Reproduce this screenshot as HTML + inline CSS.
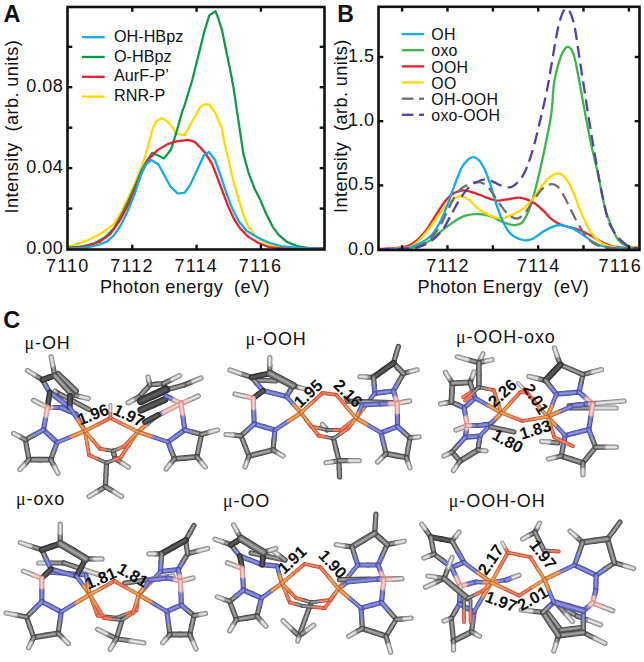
<!DOCTYPE html>
<html><head><meta charset="utf-8"><title>figure</title>
<style>html,body{margin:0;padding:0;background:#fff;width:644px;height:662px;overflow:hidden;position:relative}
svg text{font-family:"Liberation Sans", sans-serif;fill:#111}.C0{stroke:#484848}.C1{stroke:#727272}.C2{stroke:#a2a2a2}.K0{stroke:#2e2e2e}.K1{stroke:#444444}.K2{stroke:#5c5c5c}.N0{stroke:#4a4fa6}.N1{stroke:#6a6fc4}.N2{stroke:#8d92dc}.H0{stroke:#868686}.H1{stroke:#bababa}.H2{stroke:#e6e6e6}.B0{stroke:#cc8e8e}.B1{stroke:#e8b0b0}.B2{stroke:#f8d0d0}.F0{stroke:#b8642c}.F1{stroke:#df8646}.F2{stroke:#f2a866}.O0{stroke:#c44a32}.O1{stroke:#e6684a}.O2{stroke:#f58c6c}</style></head>
<body>
<svg width="644" height="662" viewBox="0 0 644 662" style="position:absolute;left:0;top:0">
<rect width="644" height="662" fill="#fff"/>
<polyline points="68.7,246.3 77.4,243.8 87.8,240.3 98.2,235.1 106.9,229.4 113.8,224.2 120.8,212.9 127.7,199.0 134.7,183.4 139.9,171.3 145.6,155.0 149.0,143.0 152.2,130.0 156.2,121.5 161.4,118.1 167.5,121.5 173.2,128.3 176.6,134.0 184.5,135.1 189.0,127.2 194.7,117.0 200.4,106.8 204.9,104.1 209.4,104.5 215.1,112.5 221.9,128.3 224.7,144.1 228.4,159.0 233.3,180.4 238.4,198.5 243.4,214.7 248.4,226.8 254.5,234.9 262.6,240.9 272.7,246.0 284.8,248.0 323.0,248.5" fill="none" stroke="#ffd800" stroke-width="2.25" stroke-linejoin="round" stroke-linecap="round"/>
<polyline points="68.7,247.6 82.6,246.3 94.7,243.3 105.1,237.2 113.8,228.5 120.8,216.4 127.7,202.5 134.7,186.9 141.6,170.4 146.8,160.8 152.2,152.8 158.0,155.5 164.1,158.4 170.9,149.8 176.6,131.7 182.3,111.3 184.9,104.3 192.4,79.5 199.8,49.7 204.8,29.8 209.3,15.4 215.5,11.2 218.4,18.6 222.2,31.0 225.9,49.7 229.6,67.1 233.4,87.0 237.1,111.8 240.8,136.6 243.4,154.1 248.4,172.3 254.5,188.4 260.6,200.6 266.6,214.7 272.7,226.8 278.7,234.9 286.8,241.9 296.9,246.0 309.0,248.0 323.0,248.5" fill="none" stroke="#0c9a48" stroke-width="2.25" stroke-linejoin="round" stroke-linecap="round"/>
<polyline points="68.7,248.0 86.0,246.3 100.0,241.6 110.3,233.8 119.0,221.6 126.8,207.7 134.7,190.3 141.6,173.0 148.5,159.1 157.2,150.4 167.5,144.1 176.6,141.4 187.9,139.8 194.7,141.9 201.0,148.3 206.0,154.1 212.1,164.2 216.1,174.3 222.2,190.5 228.3,206.6 234.3,219.7 240.4,228.8 248.4,236.9 258.5,243.0 268.6,247.0 280.7,248.4 323.0,248.0" fill="none" stroke="#e8202a" stroke-width="2.25" stroke-linejoin="round" stroke-linecap="round"/>
<polyline points="68.7,248.5 86.0,247.6 98.2,245.0 106.9,241.6 113.8,235.5 120.8,225.1 127.7,211.2 134.7,193.8 141.6,173.0 146.0,164.3 151.4,160.0 158.5,164.5 165.3,177.0 170.9,187.2 177.7,193.5 184.5,192.8 190.2,184.9 197.0,170.2 203.8,155.5 209.0,152.0 215.1,160.2 220.2,174.3 226.2,192.5 232.3,208.6 238.4,220.7 246.4,230.8 256.5,236.9 268.6,242.5 280.7,246.0 300.9,248.0 323.0,248.6" fill="none" stroke="#12a9e6" stroke-width="2.25" stroke-linejoin="round" stroke-linecap="round"/>
<rect x="67.5" y="7.0" width="257.0" height="242.5" fill="none" stroke="#111" stroke-width="2.6"/>
<line x1="67.5" y1="208.6" x2="72.3" y2="208.6" stroke="#111" stroke-width="2.4"/>
<line x1="324.5" y1="208.6" x2="319.7" y2="208.6" stroke="#111" stroke-width="2.4"/>
<line x1="67.5" y1="168.1" x2="72.3" y2="168.1" stroke="#111" stroke-width="2.4"/>
<line x1="324.5" y1="168.1" x2="319.7" y2="168.1" stroke="#111" stroke-width="2.4"/>
<line x1="67.5" y1="127.7" x2="72.3" y2="127.7" stroke="#111" stroke-width="2.4"/>
<line x1="324.5" y1="127.7" x2="319.7" y2="127.7" stroke="#111" stroke-width="2.4"/>
<line x1="67.5" y1="87.2" x2="72.3" y2="87.2" stroke="#111" stroke-width="2.4"/>
<line x1="324.5" y1="87.2" x2="319.7" y2="87.2" stroke="#111" stroke-width="2.4"/>
<line x1="67.5" y1="46.8" x2="72.3" y2="46.8" stroke="#111" stroke-width="2.4"/>
<line x1="324.5" y1="46.8" x2="319.7" y2="46.8" stroke="#111" stroke-width="2.4"/>
<line x1="132.3" y1="249.5" x2="132.3" y2="244.7" stroke="#111" stroke-width="2.4"/>
<line x1="132.3" y1="7.0" x2="132.3" y2="11.8" stroke="#111" stroke-width="2.4"/>
<line x1="196.6" y1="249.5" x2="196.6" y2="244.7" stroke="#111" stroke-width="2.4"/>
<line x1="196.6" y1="7.0" x2="196.6" y2="11.8" stroke="#111" stroke-width="2.4"/>
<line x1="260.9" y1="249.5" x2="260.9" y2="244.7" stroke="#111" stroke-width="2.4"/>
<line x1="260.9" y1="7.0" x2="260.9" y2="11.8" stroke="#111" stroke-width="2.4"/>
<text x="63.3" y="91.84" font-size="18" text-anchor="end" letter-spacing="0.5" >0.08</text>
<text x="63.3" y="172.72" font-size="18" text-anchor="end" letter-spacing="0.5" >0.04</text>
<text x="63.3" y="253.6" font-size="18" text-anchor="end" letter-spacing="0.5" >0.00</text>
<text x="67.7" y="272.3" font-size="18" text-anchor="middle" letter-spacing="1.2" >7110</text>
<text x="132.0" y="272.3" font-size="18" text-anchor="middle" letter-spacing="1.2" >7112</text>
<text x="196.3" y="272.3" font-size="18" text-anchor="middle" letter-spacing="1.2" >7114</text>
<text x="260.6" y="272.3" font-size="18" text-anchor="middle" letter-spacing="1.2" >7116</text>
<text x="100" y="293" font-size="18.1" text-anchor="start" letter-spacing="0.42" >Photon energy&#160; (eV)</text>
<text transform="translate(18.3,213.5) rotate(-90)" font-size="18.1" letter-spacing="0.42">Intensity&#160; (arb. units)</text>
<text x="3.4" y="21.8" font-size="23.5" font-weight="bold">A</text>
<line x1="82" y1="37.2" x2="104.7" y2="37.2" stroke="#12a9e6" stroke-width="2.3"/>
<text x="114" y="41.8" font-size="16.2" text-anchor="start" letter-spacing="0" >OH-HBpz</text>
<line x1="82" y1="57.0" x2="104.7" y2="57.0" stroke="#0c9a48" stroke-width="2.3"/>
<text x="114" y="61.6" font-size="16.2" text-anchor="start" letter-spacing="0" >O-HBpz</text>
<line x1="82" y1="76.8" x2="104.7" y2="76.8" stroke="#e8202a" stroke-width="2.3"/>
<text x="114" y="81.4" font-size="16.2" text-anchor="start" letter-spacing="0" >AurF-P&#8217;</text>
<line x1="82" y1="96.6" x2="104.7" y2="96.6" stroke="#ffd800" stroke-width="2.3"/>
<text x="114" y="101.2" font-size="16.2" text-anchor="start" letter-spacing="0" >RNR-P</text>
<path d="M379.0,249.3 C382.5,249.2 393.4,249.5 400.0,249.0 C406.6,248.5 413.6,247.6 418.6,246.2 C423.6,244.8 426.1,243.1 429.8,240.6 C433.5,238.1 437.3,234.2 441.0,231.3 C444.7,228.4 448.5,225.4 452.2,222.9 C455.9,220.4 459.7,217.9 463.4,216.4 C467.1,214.9 471.1,214.5 474.5,214.2 C477.9,213.9 480.7,214.0 483.8,214.5 C486.9,215.0 490.1,216.1 493.2,217.3 C496.3,218.6 499.4,220.8 502.5,222.0 C505.6,223.2 509.5,224.3 511.8,224.8 C514.1,225.3 514.4,225.3 516.2,224.9 C518.0,224.5 520.4,224.6 522.5,222.2 C524.6,219.8 527.0,214.7 528.7,210.7 C530.4,206.7 531.4,203.5 532.9,198.3 C534.4,193.1 535.8,188.2 537.8,179.6 C539.8,171.0 542.8,157.8 545.0,146.9 C547.2,136.0 549.8,124.9 551.3,114.0 C552.8,103.1 552.8,90.7 554.3,81.5 C555.8,72.3 558.3,64.2 560.0,58.9 C561.7,53.5 563.0,51.4 564.5,49.4 C566.0,47.4 567.3,46.2 568.8,47.0 C570.3,47.8 572.0,49.7 573.6,54.3 C575.2,58.9 576.6,67.2 578.1,74.7 C579.6,82.2 581.1,91.3 582.6,99.6 C584.1,107.9 585.7,116.8 587.2,124.5 C588.7,132.2 589.8,138.2 591.5,146.0 C593.2,153.8 595.7,163.5 597.4,171.2 C599.1,178.9 600.2,185.4 601.6,192.0 C603.0,198.6 604.0,204.8 605.7,210.7 C607.4,216.6 609.9,222.5 612.0,227.4 C614.1,232.3 615.8,236.8 618.2,239.9 C620.6,243.0 623.7,244.8 626.5,246.1 C629.3,247.4 632.9,247.5 634.8,247.8 C636.7,248.1 637.5,248.0 638.0,248.0" fill="none" stroke="#3cb54a" stroke-width="2.3" stroke-linejoin="round"/>
<path d="M379.0,249.0 C382.5,248.8 394.9,248.3 400.0,247.7 C405.1,247.1 406.2,246.8 409.3,245.3 C412.4,243.8 415.5,241.8 418.6,238.8 C421.7,235.9 424.9,231.9 428.0,227.6 C431.1,223.2 434.2,217.4 437.3,212.7 C440.4,208.0 443.8,202.9 446.6,199.6 C449.4,196.3 451.4,194.6 454.0,193.1 C456.6,191.6 459.6,190.5 462.4,190.3 C465.2,190.1 467.9,191.0 470.8,191.8 C473.8,192.6 477.0,193.8 480.1,195.0 C483.2,196.2 486.6,197.8 489.4,198.7 C492.2,199.6 494.4,200.4 496.9,200.6 C499.4,200.8 502.1,199.9 504.3,199.6 C506.5,199.3 507.7,199.3 510.0,199.0 C512.3,198.7 515.5,197.5 518.3,197.6 C521.1,197.7 523.8,198.3 526.6,199.3 C529.4,200.3 532.2,201.6 535.0,203.5 C537.8,205.4 540.5,208.1 543.3,210.7 C546.1,213.3 548.8,216.8 551.6,219.1 C554.4,221.4 556.8,222.9 559.9,224.3 C563.0,225.7 566.8,226.4 570.3,227.4 C573.8,228.4 577.2,229.1 580.7,230.5 C584.2,231.9 587.6,233.8 591.1,235.7 C594.6,237.6 598.1,240.3 601.6,242.0 C605.1,243.7 608.2,245.1 612.0,246.1 C615.8,247.1 620.1,247.4 624.4,247.8 C628.7,248.2 635.7,248.2 638.0,248.3" fill="none" stroke="#e8202a" stroke-width="2.3" stroke-linejoin="round"/>
<path d="M379.0,249.3 C382.5,249.2 394.6,248.9 400.0,248.4 C405.4,247.9 407.8,247.8 411.2,246.2 C414.6,244.6 417.4,241.9 420.5,238.8 C423.6,235.7 426.7,231.7 429.8,227.6 C432.9,223.5 436.0,218.5 439.1,214.5 C442.2,210.5 445.6,206.2 448.4,203.4 C451.2,200.6 453.7,198.6 455.9,197.4 C458.1,196.2 459.3,196.1 461.5,196.5 C463.7,196.9 466.4,197.8 468.9,199.6 C471.4,201.4 473.6,204.8 476.4,207.1 C479.2,209.4 482.6,211.9 485.7,213.6 C488.8,215.3 492.2,216.5 495.0,217.3 C497.8,218.1 500.0,218.8 502.5,218.5 C505.0,218.2 507.7,216.4 510.0,215.5 C512.3,214.6 513.8,214.1 516.2,212.8 C518.6,211.5 521.8,209.8 524.6,207.6 C527.4,205.3 530.1,202.8 532.9,199.3 C535.7,195.8 538.4,190.4 541.2,186.8 C544.0,183.2 546.7,179.8 549.5,177.5 C552.3,175.2 555.3,173.3 557.9,173.3 C560.5,173.3 562.7,174.7 565.1,177.5 C567.5,180.3 570.1,185.1 572.4,189.9 C574.7,194.8 576.6,201.4 578.7,206.6 C580.8,211.8 582.8,216.8 584.9,221.1 C587.0,225.4 589.0,229.5 591.1,232.6 C593.2,235.7 595.0,237.8 597.4,239.9 C599.8,242.0 602.2,243.8 605.7,245.1 C609.2,246.4 614.0,247.3 618.2,247.8 C622.4,248.3 627.4,248.5 630.7,248.2 C634.0,247.9 636.8,246.4 638.0,246.0" fill="none" stroke="#ffd800" stroke-width="2.3" stroke-linejoin="round"/>
<path d="M379.0,249.3 C382.5,249.2 394.6,249.4 400.0,249.0 C405.4,248.6 407.5,248.2 411.2,247.1 C414.9,245.9 419.0,244.1 422.4,242.1 C425.8,240.1 428.9,238.1 431.7,235.0 C434.5,231.9 436.6,228.5 439.1,223.8 C441.6,219.2 444.1,213.3 446.6,207.1 C449.1,200.9 451.5,193.1 454.0,186.6 C456.5,180.1 459.2,172.5 461.5,168.0 C463.8,163.5 466.0,161.4 468.0,159.6 C470.0,157.8 471.7,156.9 473.6,157.1 C475.5,157.2 477.3,158.4 479.2,160.5 C481.1,162.6 482.9,165.8 484.8,169.8 C486.7,173.8 488.5,179.1 490.4,184.7 C492.3,190.3 494.1,197.8 496.0,203.4 C497.9,209.0 499.6,214.0 501.5,218.3 C503.4,222.6 505.0,226.4 507.1,229.4 C509.2,232.4 511.1,234.7 514.0,236.5 C516.9,238.3 521.5,239.9 524.6,240.3 C527.8,240.7 529.8,240.2 532.9,238.8 C536.0,237.4 539.8,233.7 543.3,231.6 C546.8,229.5 550.6,227.4 553.7,226.3 C556.8,225.2 558.9,225.0 562.0,225.3 C565.1,225.7 568.9,226.8 572.4,228.4 C575.9,230.0 579.3,232.4 582.8,234.7 C586.3,237.0 589.7,240.0 593.2,242.0 C596.7,244.0 599.4,245.5 603.6,246.5 C607.8,247.5 612.5,247.9 618.2,248.2 C623.9,248.5 634.7,248.4 638.0,248.5" fill="none" stroke="#12ace8" stroke-width="2.3" stroke-linejoin="round"/>
<path d="M379.0,249.3 C382.5,249.2 393.4,249.5 400.0,249.0 C406.6,248.5 413.6,247.9 418.6,246.2 C423.6,244.5 426.4,241.9 429.8,238.8 C433.2,235.7 436.3,231.9 439.1,227.6 C441.9,223.2 444.1,217.7 446.6,212.7 C449.1,207.7 451.5,201.9 454.0,197.8 C456.5,193.8 459.0,190.6 461.5,188.4 C464.0,186.2 466.6,185.7 468.9,184.7 C471.1,183.7 473.0,182.9 475.0,182.5 C477.0,182.1 478.9,181.8 481.0,182.5 C483.1,183.2 485.6,184.7 487.6,186.6 C489.6,188.5 491.0,190.9 493.2,194.0 C495.4,197.1 498.1,201.8 500.6,205.2 C503.1,208.6 505.6,212.3 508.1,214.5 C510.6,216.7 513.5,217.8 515.5,218.3 C517.5,218.8 518.1,218.8 520.0,217.5 C521.9,216.2 524.1,213.9 526.6,210.7 C529.1,207.5 532.2,202.1 535.0,198.3 C537.8,194.5 540.5,190.3 543.3,187.9 C546.1,185.5 549.2,184.3 551.6,184.1 C554.0,183.9 555.8,184.8 557.9,186.8 C560.0,188.8 562.0,192.5 564.1,196.2 C566.2,199.8 568.2,204.5 570.3,208.7 C572.4,212.8 574.5,217.3 576.6,221.1 C578.7,224.9 580.7,228.5 582.8,231.6 C584.9,234.7 586.7,237.7 589.1,239.9 C591.5,242.2 594.3,243.8 597.4,245.1 C600.5,246.4 601.0,247.2 607.8,247.8 C614.6,248.4 633.0,248.4 638.0,248.5" fill="none" stroke="#6e6e6e" stroke-width="2.3" stroke-linejoin="round" stroke-dasharray="12 6"/>
<path d="M379.0,249.3 C382.5,249.2 393.4,249.4 400.0,249.0 C406.6,248.6 413.3,248.5 418.6,247.1 C423.9,245.7 427.6,243.5 431.7,240.6 C435.8,237.7 439.5,234.1 442.9,229.4 C446.3,224.8 449.4,217.7 452.2,212.7 C455.0,207.7 457.1,203.6 459.6,199.6 C462.2,195.6 464.8,191.7 467.5,188.8 C470.2,186.0 473.1,184.1 476.0,182.5 C478.9,180.9 482.0,179.6 484.7,179.4 C487.4,179.2 489.7,180.4 492.2,181.3 C494.7,182.2 496.9,184.0 499.6,185.0 C502.3,186.0 506.1,187.3 508.5,187.4 C510.9,187.5 512.2,186.6 514.0,185.5 C515.8,184.4 517.7,182.4 519.3,180.6 C520.9,178.8 522.2,176.8 523.5,174.5 C524.8,172.2 525.5,171.0 527.1,166.6 C528.7,162.2 531.1,155.8 533.3,148.0 C535.5,140.2 538.0,129.5 540.3,120.0 C542.5,110.5 544.8,100.8 546.8,91.0 C548.8,81.2 550.3,71.4 552.1,61.1 C553.9,50.8 556.0,37.3 557.7,29.4 C559.4,21.5 560.9,17.0 562.3,13.6 C563.7,10.2 564.7,9.0 566.0,8.8 C567.3,8.6 568.8,9.4 570.2,12.5 C571.7,15.6 573.2,19.8 574.7,27.2 C576.2,34.5 577.7,46.8 579.2,56.6 C580.7,66.4 582.3,76.2 583.8,86.0 C585.3,95.8 586.8,106.1 588.3,115.5 C589.8,124.9 591.3,133.5 592.8,142.6 C594.3,151.7 596.0,161.4 597.5,170.0 C599.0,178.6 600.3,185.8 602.0,194.0 C603.7,202.2 606.0,213.0 607.8,219.0 C609.6,225.0 611.3,226.9 613.0,230.0 C614.7,233.1 615.6,235.1 618.2,237.8 C620.8,240.5 625.3,244.4 628.6,246.1 C631.9,247.8 636.4,247.8 638.0,248.2" fill="none" stroke="#5541a6" stroke-width="2.3" stroke-linejoin="round" stroke-dasharray="12 6"/>
<rect x="378.5" y="6.8" width="261.0" height="243.2" fill="none" stroke="#111" stroke-width="2.6"/>
<line x1="378.5" y1="185.4" x2="383.3" y2="185.4" stroke="#111" stroke-width="2.4"/>
<line x1="639.5" y1="185.4" x2="634.7" y2="185.4" stroke="#111" stroke-width="2.4"/>
<line x1="378.5" y1="121.2" x2="383.3" y2="121.2" stroke="#111" stroke-width="2.4"/>
<line x1="639.5" y1="121.2" x2="634.7" y2="121.2" stroke="#111" stroke-width="2.4"/>
<line x1="378.5" y1="57.0" x2="383.3" y2="57.0" stroke="#111" stroke-width="2.4"/>
<line x1="639.5" y1="57.0" x2="634.7" y2="57.0" stroke="#111" stroke-width="2.4"/>
<line x1="402.1" y1="250.0" x2="402.1" y2="245.2" stroke="#111" stroke-width="2.4"/>
<line x1="402.1" y1="6.8" x2="402.1" y2="11.6" stroke="#111" stroke-width="2.4"/>
<line x1="447.5" y1="250.0" x2="447.5" y2="245.2" stroke="#111" stroke-width="2.4"/>
<line x1="447.5" y1="6.8" x2="447.5" y2="11.6" stroke="#111" stroke-width="2.4"/>
<line x1="492.9" y1="250.0" x2="492.9" y2="245.2" stroke="#111" stroke-width="2.4"/>
<line x1="492.9" y1="6.8" x2="492.9" y2="11.6" stroke="#111" stroke-width="2.4"/>
<line x1="538.2" y1="250.0" x2="538.2" y2="245.2" stroke="#111" stroke-width="2.4"/>
<line x1="538.2" y1="6.8" x2="538.2" y2="11.6" stroke="#111" stroke-width="2.4"/>
<line x1="583.5" y1="250.0" x2="583.5" y2="245.2" stroke="#111" stroke-width="2.4"/>
<line x1="583.5" y1="6.8" x2="583.5" y2="11.6" stroke="#111" stroke-width="2.4"/>
<line x1="628.9" y1="250.0" x2="628.9" y2="245.2" stroke="#111" stroke-width="2.4"/>
<line x1="628.9" y1="6.8" x2="628.9" y2="11.6" stroke="#111" stroke-width="2.4"/>
<text x="374.5" y="62.0" font-size="18" text-anchor="end" letter-spacing="0.5" >1.5</text>
<text x="374.5" y="126.2" font-size="18" text-anchor="end" letter-spacing="0.5" >1.0</text>
<text x="374.5" y="190.4" font-size="18" text-anchor="end" letter-spacing="0.5" >0.5</text>
<text x="374.5" y="254.6" font-size="18" text-anchor="end" letter-spacing="0.5" >0.0</text>
<text x="448.1" y="272.3" font-size="18" text-anchor="middle" letter-spacing="1.2" >7112</text>
<text x="538.8" y="272.3" font-size="18" text-anchor="middle" letter-spacing="1.2" >7114</text>
<text x="620.3" y="272.3" font-size="18" text-anchor="middle" letter-spacing="1.2" >7116</text>
<text x="417.4" y="293.3" font-size="18.1" text-anchor="start" letter-spacing="0.42" >Photon Energy&#160; (eV)</text>
<text transform="translate(346.6,213) rotate(-90)" font-size="18.1" letter-spacing="0.42">Intensity&#160; (arb. units)</text>
<text x="337.3" y="21.8" font-size="23" font-weight="bold">B</text>
<line x1="401.8" y1="34.1" x2="424" y2="34.1" stroke="#12ace8" stroke-width="2.3"/>
<text x="431.3" y="40.2" font-size="15.9" text-anchor="start" letter-spacing="0.25" >OH</text>
<line x1="401.8" y1="50.2" x2="424" y2="50.2" stroke="#3cb54a" stroke-width="2.3"/>
<text x="431.3" y="56.4" font-size="15.9" text-anchor="start" letter-spacing="0.25" >oxo</text>
<line x1="401.8" y1="66.4" x2="424" y2="66.4" stroke="#e8202a" stroke-width="2.3"/>
<text x="431.3" y="72.5" font-size="15.9" text-anchor="start" letter-spacing="0.25" >OOH</text>
<line x1="401.8" y1="82.5" x2="424" y2="82.5" stroke="#ffd800" stroke-width="2.3"/>
<text x="431.3" y="88.6" font-size="15.9" text-anchor="start" letter-spacing="0.25" >OO</text>
<line x1="401.8" y1="98.7" x2="413.5" y2="98.7" stroke="#6e6e6e" stroke-width="2.3"/>
<line x1="419" y1="98.7" x2="424" y2="98.7" stroke="#6e6e6e" stroke-width="2.3"/>
<text x="431.3" y="104.8" font-size="15.9" text-anchor="start" letter-spacing="0.25" >OH-OOH</text>
<line x1="401.8" y1="114.8" x2="413.5" y2="114.8" stroke="#5541a6" stroke-width="2.3"/>
<line x1="419" y1="114.8" x2="424" y2="114.8" stroke="#5541a6" stroke-width="2.3"/>
<text x="431.3" y="120.9" font-size="15.9" text-anchor="start" letter-spacing="0.25" >oxo-OOH</text>
<text x="3.2" y="328" font-size="23.5" font-weight="bold">C</text>
<text x="24.5" y="348.7" font-size="18" letter-spacing="0.9"><tspan style="font-family:Liberation Serif,serif">&#956;</tspan>-OH</text>
<text x="245.6" y="344.6" font-size="18" letter-spacing="0.9"><tspan style="font-family:Liberation Serif,serif">&#956;</tspan>-OOH</text>
<text x="456" y="342.8" font-size="18" letter-spacing="0.9"><tspan style="font-family:Liberation Serif,serif">&#956;</tspan>-OOH-oxo</text>
<text x="16" y="504.6" font-size="18" letter-spacing="0.9"><tspan style="font-family:Liberation Serif,serif">&#956;</tspan>-oxo</text>
<text x="223" y="507.4" font-size="18" letter-spacing="0.9"><tspan style="font-family:Liberation Serif,serif">&#956;</tspan>-OO</text>
<text x="448.8" y="507.3" font-size="18" letter-spacing="0.9"><tspan style="font-family:Liberation Serif,serif">&#956;</tspan>-OOH-OH</text>
<g stroke-linecap="round"><line class="C0" x1="57.0" y1="392.5" x2="73.0" y2="401.0" stroke-width="5.2"/>
<line class="C0" x1="73.0" y1="401.0" x2="89.0" y2="409.5" stroke-width="5.2"/>
<line class="C1" x1="57.0" y1="392.5" x2="73.0" y2="401.0" stroke-width="3.5"/>
<line class="C1" x1="73.0" y1="401.0" x2="89.0" y2="409.5" stroke-width="3.5"/>
<line class="C2" x1="57.0" y1="392.5" x2="73.0" y2="401.0" stroke-width="1.7"/>
<line class="C2" x1="73.0" y1="401.0" x2="89.0" y2="409.5" stroke-width="1.7"/>
<line class="H0" x1="55.0" y1="391.0" x2="56.0" y2="391.8" stroke-width="5.2"/>
<line class="C0" x1="56.0" y1="391.8" x2="57.0" y2="392.5" stroke-width="5.2"/>
<line class="H1" x1="55.0" y1="391.0" x2="56.0" y2="391.8" stroke-width="3.5"/>
<line class="C1" x1="56.0" y1="391.8" x2="57.0" y2="392.5" stroke-width="3.5"/>
<line class="H2" x1="55.0" y1="391.0" x2="56.0" y2="391.8" stroke-width="1.7"/>
<line class="C2" x1="56.0" y1="391.8" x2="57.0" y2="392.5" stroke-width="1.7"/>
<line class="B0" x1="47.5" y1="407.5" x2="54.2" y2="407.5" stroke-width="5.2"/>
<line class="N0" x1="54.2" y1="407.5" x2="61.0" y2="407.5" stroke-width="5.2"/>
<line class="B1" x1="47.5" y1="407.5" x2="54.2" y2="407.5" stroke-width="3.5"/>
<line class="N1" x1="54.2" y1="407.5" x2="61.0" y2="407.5" stroke-width="3.5"/>
<line class="B2" x1="47.5" y1="407.5" x2="54.2" y2="407.5" stroke-width="1.7"/>
<line class="N2" x1="54.2" y1="407.5" x2="61.0" y2="407.5" stroke-width="1.7"/>
<line class="N0" x1="61.0" y1="407.5" x2="68.5" y2="410.8" stroke-width="5.2"/>
<line class="N0" x1="68.5" y1="410.8" x2="76.0" y2="414.0" stroke-width="5.2"/>
<line class="N1" x1="61.0" y1="407.5" x2="68.5" y2="410.8" stroke-width="3.5"/>
<line class="N1" x1="68.5" y1="410.8" x2="76.0" y2="414.0" stroke-width="3.5"/>
<line class="N2" x1="61.0" y1="407.5" x2="68.5" y2="410.8" stroke-width="1.7"/>
<line class="N2" x1="68.5" y1="410.8" x2="76.0" y2="414.0" stroke-width="1.7"/>
<line class="N0" x1="76.0" y1="414.0" x2="80.5" y2="422.5" stroke-width="4.4"/>
<line class="F0" x1="80.5" y1="422.5" x2="84.9" y2="431.0" stroke-width="4.4"/>
<line class="N1" x1="76.0" y1="414.0" x2="80.5" y2="422.5" stroke-width="3.0"/>
<line class="F1" x1="80.5" y1="422.5" x2="84.9" y2="431.0" stroke-width="3.0"/>
<line class="N2" x1="76.0" y1="414.0" x2="80.5" y2="422.5" stroke-width="1.4"/>
<line class="F2" x1="80.5" y1="422.5" x2="84.9" y2="431.0" stroke-width="1.4"/>
<line class="C0" x1="42.4" y1="379.8" x2="46.1" y2="386.1" stroke-width="5.2"/>
<line class="N0" x1="46.1" y1="386.1" x2="49.8" y2="392.3" stroke-width="5.2"/>
<line class="C1" x1="42.4" y1="379.8" x2="46.1" y2="386.1" stroke-width="3.5"/>
<line class="N1" x1="46.1" y1="386.1" x2="49.8" y2="392.3" stroke-width="3.5"/>
<line class="C2" x1="42.4" y1="379.8" x2="46.1" y2="386.1" stroke-width="1.7"/>
<line class="N2" x1="46.1" y1="386.1" x2="49.8" y2="392.3" stroke-width="1.7"/>
<line class="N0" x1="49.8" y1="392.3" x2="59.8" y2="399.8" stroke-width="5.2"/>
<line class="N0" x1="59.8" y1="399.8" x2="69.7" y2="407.2" stroke-width="5.2"/>
<line class="N1" x1="49.8" y1="392.3" x2="59.8" y2="399.8" stroke-width="3.5"/>
<line class="N1" x1="59.8" y1="399.8" x2="69.7" y2="407.2" stroke-width="3.5"/>
<line class="N2" x1="49.8" y1="392.3" x2="59.8" y2="399.8" stroke-width="1.7"/>
<line class="N2" x1="59.8" y1="399.8" x2="69.7" y2="407.2" stroke-width="1.7"/>
<line class="C0" x1="42.4" y1="379.8" x2="35.0" y2="375.1" stroke-width="5.2"/>
<line class="H0" x1="35.0" y1="375.1" x2="27.5" y2="370.5" stroke-width="5.2"/>
<line class="C1" x1="42.4" y1="379.8" x2="35.0" y2="375.1" stroke-width="3.5"/>
<line class="H1" x1="35.0" y1="375.1" x2="27.5" y2="370.5" stroke-width="3.5"/>
<line class="C2" x1="42.4" y1="379.8" x2="35.0" y2="375.1" stroke-width="1.7"/>
<line class="H2" x1="35.0" y1="375.1" x2="27.5" y2="370.5" stroke-width="1.7"/>
<line class="C0" x1="54.8" y1="375.5" x2="53.0" y2="366.2" stroke-width="5.2"/>
<line class="H0" x1="53.0" y1="366.2" x2="51.1" y2="356.9" stroke-width="5.2"/>
<line class="C1" x1="54.8" y1="375.5" x2="53.0" y2="366.2" stroke-width="3.5"/>
<line class="H1" x1="53.0" y1="366.2" x2="51.1" y2="356.9" stroke-width="3.5"/>
<line class="C2" x1="54.8" y1="375.5" x2="53.0" y2="366.2" stroke-width="1.7"/>
<line class="H2" x1="53.0" y1="366.2" x2="51.1" y2="356.9" stroke-width="1.7"/>
<line class="C0" x1="72.2" y1="394.8" x2="80.2" y2="396.6" stroke-width="5.2"/>
<line class="H0" x1="80.2" y1="396.6" x2="88.3" y2="398.5" stroke-width="5.2"/>
<line class="C1" x1="72.2" y1="394.8" x2="80.2" y2="396.6" stroke-width="3.5"/>
<line class="H1" x1="80.2" y1="396.6" x2="88.3" y2="398.5" stroke-width="3.5"/>
<line class="C2" x1="72.2" y1="394.8" x2="80.2" y2="396.6" stroke-width="1.7"/>
<line class="H2" x1="80.2" y1="396.6" x2="88.3" y2="398.5" stroke-width="1.7"/>
<line class="K0" x1="49.8" y1="392.3" x2="48.6" y2="399.9" stroke-width="5.6"/>
<line class="K0" x1="48.6" y1="399.9" x2="47.5" y2="407.5" stroke-width="5.6"/>
<line class="K1" x1="49.8" y1="392.3" x2="48.6" y2="399.9" stroke-width="3.8"/>
<line class="K1" x1="48.6" y1="399.9" x2="47.5" y2="407.5" stroke-width="3.8"/>
<line class="K2" x1="49.8" y1="392.3" x2="48.6" y2="399.9" stroke-width="1.8"/>
<line class="K2" x1="48.6" y1="399.9" x2="47.5" y2="407.5" stroke-width="1.8"/>
<line class="B0" x1="47.5" y1="407.5" x2="40.5" y2="403.9" stroke-width="5.2"/>
<line class="H0" x1="40.5" y1="403.9" x2="33.6" y2="400.3" stroke-width="5.2"/>
<line class="B1" x1="47.5" y1="407.5" x2="40.5" y2="403.9" stroke-width="3.5"/>
<line class="H1" x1="40.5" y1="403.9" x2="33.6" y2="400.3" stroke-width="3.5"/>
<line class="B2" x1="47.5" y1="407.5" x2="40.5" y2="403.9" stroke-width="1.7"/>
<line class="H2" x1="40.5" y1="403.9" x2="33.6" y2="400.3" stroke-width="1.7"/>
<line class="B0" x1="47.5" y1="407.5" x2="45.5" y2="418.6" stroke-width="5.2"/>
<line class="N0" x1="45.5" y1="418.6" x2="43.5" y2="429.8" stroke-width="5.2"/>
<line class="B1" x1="47.5" y1="407.5" x2="45.5" y2="418.6" stroke-width="3.5"/>
<line class="N1" x1="45.5" y1="418.6" x2="43.5" y2="429.8" stroke-width="3.5"/>
<line class="B2" x1="47.5" y1="407.5" x2="45.5" y2="418.6" stroke-width="1.7"/>
<line class="N2" x1="45.5" y1="418.6" x2="43.5" y2="429.8" stroke-width="1.7"/>
<line class="C0" x1="58.0" y1="374.0" x2="67.0" y2="382.5" stroke-width="6.0"/>
<line class="C0" x1="67.0" y1="382.5" x2="76.0" y2="391.0" stroke-width="6.0"/>
<line class="C1" x1="58.0" y1="374.0" x2="67.0" y2="382.5" stroke-width="4.1"/>
<line class="C1" x1="67.0" y1="382.5" x2="76.0" y2="391.0" stroke-width="4.1"/>
<line class="C2" x1="58.0" y1="374.0" x2="67.0" y2="382.5" stroke-width="1.9"/>
<line class="C2" x1="67.0" y1="382.5" x2="76.0" y2="391.0" stroke-width="1.9"/>
<line class="K0" x1="42.4" y1="379.8" x2="48.6" y2="377.6" stroke-width="6.0"/>
<line class="K0" x1="48.6" y1="377.6" x2="54.8" y2="375.5" stroke-width="6.0"/>
<line class="K1" x1="42.4" y1="379.8" x2="48.6" y2="377.6" stroke-width="4.1"/>
<line class="K1" x1="48.6" y1="377.6" x2="54.8" y2="375.5" stroke-width="4.1"/>
<line class="K2" x1="42.4" y1="379.8" x2="48.6" y2="377.6" stroke-width="1.9"/>
<line class="K2" x1="48.6" y1="377.6" x2="54.8" y2="375.5" stroke-width="1.9"/>
<line class="C0" x1="54.8" y1="375.5" x2="63.5" y2="385.1" stroke-width="6.2"/>
<line class="C0" x1="63.5" y1="385.1" x2="72.2" y2="394.8" stroke-width="6.2"/>
<line class="C1" x1="54.8" y1="375.5" x2="63.5" y2="385.1" stroke-width="4.2"/>
<line class="C1" x1="63.5" y1="385.1" x2="72.2" y2="394.8" stroke-width="4.2"/>
<line class="C2" x1="54.8" y1="375.5" x2="63.5" y2="385.1" stroke-width="2.0"/>
<line class="C2" x1="63.5" y1="385.1" x2="72.2" y2="394.8" stroke-width="2.0"/>
<line class="K0" x1="70.0" y1="396.0" x2="69.8" y2="401.6" stroke-width="6.0"/>
<line class="K0" x1="69.8" y1="401.6" x2="69.7" y2="407.2" stroke-width="6.0"/>
<line class="K1" x1="70.0" y1="396.0" x2="69.8" y2="401.6" stroke-width="4.1"/>
<line class="K1" x1="69.8" y1="401.6" x2="69.7" y2="407.2" stroke-width="4.1"/>
<line class="K2" x1="70.0" y1="396.0" x2="69.8" y2="401.6" stroke-width="1.9"/>
<line class="K2" x1="69.8" y1="401.6" x2="69.7" y2="407.2" stroke-width="1.9"/>
<line class="N0" x1="69.7" y1="407.2" x2="77.3" y2="419.1" stroke-width="4.4"/>
<line class="F0" x1="77.3" y1="419.1" x2="84.9" y2="431.0" stroke-width="4.4"/>
<line class="N1" x1="69.7" y1="407.2" x2="77.3" y2="419.1" stroke-width="3.0"/>
<line class="F1" x1="77.3" y1="419.1" x2="84.9" y2="431.0" stroke-width="3.0"/>
<line class="N2" x1="69.7" y1="407.2" x2="77.3" y2="419.1" stroke-width="1.4"/>
<line class="F2" x1="77.3" y1="419.1" x2="84.9" y2="431.0" stroke-width="1.4"/>
<line class="N0" x1="43.5" y1="429.8" x2="50.3" y2="436.1" stroke-width="5.2"/>
<line class="N0" x1="50.3" y1="436.1" x2="57.1" y2="442.5" stroke-width="5.2"/>
<line class="N1" x1="43.5" y1="429.8" x2="50.3" y2="436.1" stroke-width="3.5"/>
<line class="N1" x1="50.3" y1="436.1" x2="57.1" y2="442.5" stroke-width="3.5"/>
<line class="N2" x1="43.5" y1="429.8" x2="50.3" y2="436.1" stroke-width="1.7"/>
<line class="N2" x1="50.3" y1="436.1" x2="57.1" y2="442.5" stroke-width="1.7"/>
<line class="N0" x1="57.1" y1="442.5" x2="53.9" y2="451.1" stroke-width="5.2"/>
<line class="C0" x1="53.9" y1="451.1" x2="50.7" y2="459.7" stroke-width="5.2"/>
<line class="N1" x1="57.1" y1="442.5" x2="53.9" y2="451.1" stroke-width="3.5"/>
<line class="C1" x1="53.9" y1="451.1" x2="50.7" y2="459.7" stroke-width="3.5"/>
<line class="N2" x1="57.1" y1="442.5" x2="53.9" y2="451.1" stroke-width="1.7"/>
<line class="C2" x1="53.9" y1="451.1" x2="50.7" y2="459.7" stroke-width="1.7"/>
<line class="C0" x1="50.7" y1="459.7" x2="39.9" y2="459.7" stroke-width="5.8"/>
<line class="C0" x1="39.9" y1="459.7" x2="29.0" y2="459.7" stroke-width="5.8"/>
<line class="C1" x1="50.7" y1="459.7" x2="39.9" y2="459.7" stroke-width="3.9"/>
<line class="C1" x1="39.9" y1="459.7" x2="29.0" y2="459.7" stroke-width="3.9"/>
<line class="C2" x1="50.7" y1="459.7" x2="39.9" y2="459.7" stroke-width="1.9"/>
<line class="C2" x1="39.9" y1="459.7" x2="29.0" y2="459.7" stroke-width="1.9"/>
<line class="C0" x1="29.0" y1="459.7" x2="27.2" y2="449.7" stroke-width="5.2"/>
<line class="C0" x1="27.2" y1="449.7" x2="25.4" y2="439.7" stroke-width="5.2"/>
<line class="C1" x1="29.0" y1="459.7" x2="27.2" y2="449.7" stroke-width="3.5"/>
<line class="C1" x1="27.2" y1="449.7" x2="25.4" y2="439.7" stroke-width="3.5"/>
<line class="C2" x1="29.0" y1="459.7" x2="27.2" y2="449.7" stroke-width="1.7"/>
<line class="C2" x1="27.2" y1="449.7" x2="25.4" y2="439.7" stroke-width="1.7"/>
<line class="C0" x1="25.4" y1="439.7" x2="34.5" y2="434.8" stroke-width="5.2"/>
<line class="N0" x1="34.5" y1="434.8" x2="43.5" y2="429.8" stroke-width="5.2"/>
<line class="C1" x1="25.4" y1="439.7" x2="34.5" y2="434.8" stroke-width="3.5"/>
<line class="N1" x1="34.5" y1="434.8" x2="43.5" y2="429.8" stroke-width="3.5"/>
<line class="C2" x1="25.4" y1="439.7" x2="34.5" y2="434.8" stroke-width="1.7"/>
<line class="N2" x1="34.5" y1="434.8" x2="43.5" y2="429.8" stroke-width="1.7"/>
<line class="C0" x1="25.4" y1="439.7" x2="19.5" y2="436.5" stroke-width="5.2"/>
<line class="H0" x1="19.5" y1="436.5" x2="13.6" y2="433.4" stroke-width="5.2"/>
<line class="C1" x1="25.4" y1="439.7" x2="19.5" y2="436.5" stroke-width="3.5"/>
<line class="H1" x1="19.5" y1="436.5" x2="13.6" y2="433.4" stroke-width="3.5"/>
<line class="C2" x1="25.4" y1="439.7" x2="19.5" y2="436.5" stroke-width="1.7"/>
<line class="H2" x1="19.5" y1="436.5" x2="13.6" y2="433.4" stroke-width="1.7"/>
<line class="C0" x1="29.0" y1="459.7" x2="24.4" y2="464.6" stroke-width="5.2"/>
<line class="H0" x1="24.4" y1="464.6" x2="19.9" y2="469.6" stroke-width="5.2"/>
<line class="C1" x1="29.0" y1="459.7" x2="24.4" y2="464.6" stroke-width="3.5"/>
<line class="H1" x1="24.4" y1="464.6" x2="19.9" y2="469.6" stroke-width="3.5"/>
<line class="C2" x1="29.0" y1="459.7" x2="24.4" y2="464.6" stroke-width="1.7"/>
<line class="H2" x1="24.4" y1="464.6" x2="19.9" y2="469.6" stroke-width="1.7"/>
<line class="C0" x1="50.7" y1="459.7" x2="54.4" y2="466.5" stroke-width="5.2"/>
<line class="H0" x1="54.4" y1="466.5" x2="58.0" y2="473.3" stroke-width="5.2"/>
<line class="C1" x1="50.7" y1="459.7" x2="54.4" y2="466.5" stroke-width="3.5"/>
<line class="H1" x1="54.4" y1="466.5" x2="58.0" y2="473.3" stroke-width="3.5"/>
<line class="C2" x1="50.7" y1="459.7" x2="54.4" y2="466.5" stroke-width="1.7"/>
<line class="H2" x1="54.4" y1="466.5" x2="58.0" y2="473.3" stroke-width="1.7"/>
<line class="N0" x1="57.1" y1="442.5" x2="71.0" y2="436.8" stroke-width="4.4"/>
<line class="F0" x1="71.0" y1="436.8" x2="84.9" y2="431.0" stroke-width="4.4"/>
<line class="N1" x1="57.1" y1="442.5" x2="71.0" y2="436.8" stroke-width="3.0"/>
<line class="F1" x1="71.0" y1="436.8" x2="84.9" y2="431.0" stroke-width="3.0"/>
<line class="N2" x1="57.1" y1="442.5" x2="71.0" y2="436.8" stroke-width="1.4"/>
<line class="F2" x1="71.0" y1="436.8" x2="84.9" y2="431.0" stroke-width="1.4"/>
<line class="C0" x1="184.0" y1="385.0" x2="192.5" y2="381.5" stroke-width="5.2"/>
<line class="H0" x1="192.5" y1="381.5" x2="201.0" y2="378.0" stroke-width="5.2"/>
<line class="C1" x1="184.0" y1="385.0" x2="192.5" y2="381.5" stroke-width="3.5"/>
<line class="H1" x1="192.5" y1="381.5" x2="201.0" y2="378.0" stroke-width="3.5"/>
<line class="C2" x1="184.0" y1="385.0" x2="192.5" y2="381.5" stroke-width="1.7"/>
<line class="H2" x1="192.5" y1="381.5" x2="201.0" y2="378.0" stroke-width="1.7"/>
<line class="C0" x1="166.0" y1="390.0" x2="175.0" y2="387.5" stroke-width="5.2"/>
<line class="C0" x1="175.0" y1="387.5" x2="184.0" y2="385.0" stroke-width="5.2"/>
<line class="C1" x1="166.0" y1="390.0" x2="175.0" y2="387.5" stroke-width="3.5"/>
<line class="C1" x1="175.0" y1="387.5" x2="184.0" y2="385.0" stroke-width="3.5"/>
<line class="C2" x1="166.0" y1="390.0" x2="175.0" y2="387.5" stroke-width="1.7"/>
<line class="C2" x1="175.0" y1="387.5" x2="184.0" y2="385.0" stroke-width="1.7"/>
<line class="B0" x1="181.0" y1="403.5" x2="189.7" y2="399.8" stroke-width="5.2"/>
<line class="H0" x1="189.7" y1="399.8" x2="198.3" y2="396.0" stroke-width="5.2"/>
<line class="B1" x1="181.0" y1="403.5" x2="189.7" y2="399.8" stroke-width="3.5"/>
<line class="H1" x1="189.7" y1="399.8" x2="198.3" y2="396.0" stroke-width="3.5"/>
<line class="B2" x1="181.0" y1="403.5" x2="189.7" y2="399.8" stroke-width="1.7"/>
<line class="H2" x1="189.7" y1="399.8" x2="198.3" y2="396.0" stroke-width="1.7"/>
<line class="C0" x1="139.0" y1="397.0" x2="144.4" y2="390.9" stroke-width="5.2"/>
<line class="C0" x1="144.4" y1="390.9" x2="149.8" y2="384.9" stroke-width="5.2"/>
<line class="C1" x1="139.0" y1="397.0" x2="144.4" y2="390.9" stroke-width="3.5"/>
<line class="C1" x1="144.4" y1="390.9" x2="149.8" y2="384.9" stroke-width="3.5"/>
<line class="C2" x1="139.0" y1="397.0" x2="144.4" y2="390.9" stroke-width="1.7"/>
<line class="C2" x1="144.4" y1="390.9" x2="149.8" y2="384.9" stroke-width="1.7"/>
<line class="C0" x1="149.8" y1="384.9" x2="156.7" y2="384.2" stroke-width="5.2"/>
<line class="C0" x1="156.7" y1="384.2" x2="163.5" y2="383.6" stroke-width="5.2"/>
<line class="C1" x1="149.8" y1="384.9" x2="156.7" y2="384.2" stroke-width="3.5"/>
<line class="C1" x1="156.7" y1="384.2" x2="163.5" y2="383.6" stroke-width="3.5"/>
<line class="C2" x1="149.8" y1="384.9" x2="156.7" y2="384.2" stroke-width="1.7"/>
<line class="C2" x1="156.7" y1="384.2" x2="163.5" y2="383.6" stroke-width="1.7"/>
<line class="C0" x1="163.5" y1="383.6" x2="164.8" y2="386.8" stroke-width="5.2"/>
<line class="C0" x1="164.8" y1="386.8" x2="166.0" y2="390.0" stroke-width="5.2"/>
<line class="C1" x1="163.5" y1="383.6" x2="164.8" y2="386.8" stroke-width="3.5"/>
<line class="C1" x1="164.8" y1="386.8" x2="166.0" y2="390.0" stroke-width="3.5"/>
<line class="C2" x1="163.5" y1="383.6" x2="164.8" y2="386.8" stroke-width="1.7"/>
<line class="C2" x1="164.8" y1="386.8" x2="166.0" y2="390.0" stroke-width="1.7"/>
<line class="C0" x1="139.0" y1="397.0" x2="133.5" y2="399.9" stroke-width="5.2"/>
<line class="H0" x1="133.5" y1="399.9" x2="128.0" y2="402.9" stroke-width="5.2"/>
<line class="C1" x1="139.0" y1="397.0" x2="133.5" y2="399.9" stroke-width="3.5"/>
<line class="H1" x1="133.5" y1="399.9" x2="128.0" y2="402.9" stroke-width="3.5"/>
<line class="C2" x1="139.0" y1="397.0" x2="133.5" y2="399.9" stroke-width="1.7"/>
<line class="H2" x1="133.5" y1="399.9" x2="128.0" y2="402.9" stroke-width="1.7"/>
<line class="C0" x1="149.8" y1="384.9" x2="148.9" y2="380.9" stroke-width="5.2"/>
<line class="H0" x1="148.9" y1="380.9" x2="148.0" y2="377.0" stroke-width="5.2"/>
<line class="C1" x1="149.8" y1="384.9" x2="148.9" y2="380.9" stroke-width="3.5"/>
<line class="H1" x1="148.9" y1="380.9" x2="148.0" y2="377.0" stroke-width="3.5"/>
<line class="C2" x1="149.8" y1="384.9" x2="148.9" y2="380.9" stroke-width="1.7"/>
<line class="H2" x1="148.9" y1="380.9" x2="148.0" y2="377.0" stroke-width="1.7"/>
<line class="C0" x1="163.5" y1="383.6" x2="171.6" y2="379.6" stroke-width="5.2"/>
<line class="H0" x1="171.6" y1="379.6" x2="179.6" y2="375.6" stroke-width="5.2"/>
<line class="C1" x1="163.5" y1="383.6" x2="171.6" y2="379.6" stroke-width="3.5"/>
<line class="H1" x1="171.6" y1="379.6" x2="179.6" y2="375.6" stroke-width="3.5"/>
<line class="C2" x1="163.5" y1="383.6" x2="171.6" y2="379.6" stroke-width="1.7"/>
<line class="H2" x1="171.6" y1="379.6" x2="179.6" y2="375.6" stroke-width="1.7"/>
<line class="K0" x1="141.0" y1="410.0" x2="153.0" y2="404.8" stroke-width="7.1"/>
<line class="K0" x1="153.0" y1="404.8" x2="165.0" y2="399.5" stroke-width="7.1"/>
<line class="K1" x1="141.0" y1="410.0" x2="153.0" y2="404.8" stroke-width="4.8"/>
<line class="K1" x1="153.0" y1="404.8" x2="165.0" y2="399.5" stroke-width="4.8"/>
<line class="K2" x1="141.0" y1="410.0" x2="153.0" y2="404.8" stroke-width="2.3"/>
<line class="K2" x1="153.0" y1="404.8" x2="165.0" y2="399.5" stroke-width="2.3"/>
<line class="K0" x1="141.0" y1="401.0" x2="153.5" y2="395.2" stroke-width="8.1"/>
<line class="K0" x1="153.5" y1="395.2" x2="166.0" y2="389.5" stroke-width="8.1"/>
<line class="K1" x1="141.0" y1="401.0" x2="153.5" y2="395.2" stroke-width="5.5"/>
<line class="K1" x1="153.5" y1="395.2" x2="166.0" y2="389.5" stroke-width="5.5"/>
<line class="K2" x1="141.0" y1="401.0" x2="153.5" y2="395.2" stroke-width="2.6"/>
<line class="K2" x1="153.5" y1="395.2" x2="166.0" y2="389.5" stroke-width="2.6"/>
<line class="N0" x1="166.0" y1="396.0" x2="173.5" y2="399.8" stroke-width="5.2"/>
<line class="B0" x1="173.5" y1="399.8" x2="181.0" y2="403.5" stroke-width="5.2"/>
<line class="N1" x1="166.0" y1="396.0" x2="173.5" y2="399.8" stroke-width="3.5"/>
<line class="B1" x1="173.5" y1="399.8" x2="181.0" y2="403.5" stroke-width="3.5"/>
<line class="N2" x1="166.0" y1="396.0" x2="173.5" y2="399.8" stroke-width="1.7"/>
<line class="B2" x1="173.5" y1="399.8" x2="181.0" y2="403.5" stroke-width="1.7"/>
<line class="N0" x1="145.0" y1="422.0" x2="163.0" y2="412.8" stroke-width="5.2"/>
<line class="B0" x1="163.0" y1="412.8" x2="181.0" y2="403.5" stroke-width="5.2"/>
<line class="N1" x1="145.0" y1="422.0" x2="163.0" y2="412.8" stroke-width="3.5"/>
<line class="B1" x1="163.0" y1="412.8" x2="181.0" y2="403.5" stroke-width="3.5"/>
<line class="N2" x1="145.0" y1="422.0" x2="163.0" y2="412.8" stroke-width="1.7"/>
<line class="B2" x1="163.0" y1="412.8" x2="181.0" y2="403.5" stroke-width="1.7"/>
<line class="F0" x1="137.8" y1="431.8" x2="147.9" y2="423.4" stroke-width="4.4"/>
<line class="N0" x1="147.9" y1="423.4" x2="158.0" y2="415.0" stroke-width="4.4"/>
<line class="F1" x1="137.8" y1="431.8" x2="147.9" y2="423.4" stroke-width="3.0"/>
<line class="N1" x1="147.9" y1="423.4" x2="158.0" y2="415.0" stroke-width="3.0"/>
<line class="F2" x1="137.8" y1="431.8" x2="147.9" y2="423.4" stroke-width="1.4"/>
<line class="N2" x1="147.9" y1="423.4" x2="158.0" y2="415.0" stroke-width="1.4"/>
<line class="K0" x1="158.0" y1="415.0" x2="151.5" y2="418.5" stroke-width="5.6"/>
<line class="K0" x1="151.5" y1="418.5" x2="145.0" y2="422.0" stroke-width="5.6"/>
<line class="K1" x1="158.0" y1="415.0" x2="151.5" y2="418.5" stroke-width="3.8"/>
<line class="K1" x1="151.5" y1="418.5" x2="145.0" y2="422.0" stroke-width="3.8"/>
<line class="K2" x1="158.0" y1="415.0" x2="151.5" y2="418.5" stroke-width="1.8"/>
<line class="K2" x1="151.5" y1="418.5" x2="145.0" y2="422.0" stroke-width="1.8"/>
<line class="B0" x1="181.0" y1="403.5" x2="182.9" y2="416.7" stroke-width="5.2"/>
<line class="N0" x1="182.9" y1="416.7" x2="184.8" y2="429.9" stroke-width="5.2"/>
<line class="B1" x1="181.0" y1="403.5" x2="182.9" y2="416.7" stroke-width="3.5"/>
<line class="N1" x1="182.9" y1="416.7" x2="184.8" y2="429.9" stroke-width="3.5"/>
<line class="B2" x1="181.0" y1="403.5" x2="182.9" y2="416.7" stroke-width="1.7"/>
<line class="N2" x1="182.9" y1="416.7" x2="184.8" y2="429.9" stroke-width="1.7"/>
<line class="N0" x1="168.0" y1="442.0" x2="176.4" y2="435.9" stroke-width="5.2"/>
<line class="N0" x1="176.4" y1="435.9" x2="184.8" y2="429.9" stroke-width="5.2"/>
<line class="N1" x1="168.0" y1="442.0" x2="176.4" y2="435.9" stroke-width="3.5"/>
<line class="N1" x1="176.4" y1="435.9" x2="184.8" y2="429.9" stroke-width="3.5"/>
<line class="N2" x1="168.0" y1="442.0" x2="176.4" y2="435.9" stroke-width="1.7"/>
<line class="N2" x1="176.4" y1="435.9" x2="184.8" y2="429.9" stroke-width="1.7"/>
<line class="N0" x1="184.8" y1="429.9" x2="193.2" y2="432.2" stroke-width="5.2"/>
<line class="C0" x1="193.2" y1="432.2" x2="201.5" y2="434.5" stroke-width="5.2"/>
<line class="N1" x1="184.8" y1="429.9" x2="193.2" y2="432.2" stroke-width="3.5"/>
<line class="C1" x1="193.2" y1="432.2" x2="201.5" y2="434.5" stroke-width="3.5"/>
<line class="N2" x1="184.8" y1="429.9" x2="193.2" y2="432.2" stroke-width="1.7"/>
<line class="C2" x1="193.2" y1="432.2" x2="201.5" y2="434.5" stroke-width="1.7"/>
<line class="C0" x1="201.5" y1="434.5" x2="199.2" y2="445.7" stroke-width="5.2"/>
<line class="C0" x1="199.2" y1="445.7" x2="196.9" y2="456.9" stroke-width="5.2"/>
<line class="C1" x1="201.5" y1="434.5" x2="199.2" y2="445.7" stroke-width="3.5"/>
<line class="C1" x1="199.2" y1="445.7" x2="196.9" y2="456.9" stroke-width="3.5"/>
<line class="C2" x1="201.5" y1="434.5" x2="199.2" y2="445.7" stroke-width="1.7"/>
<line class="C2" x1="199.2" y1="445.7" x2="196.9" y2="456.9" stroke-width="1.7"/>
<line class="C0" x1="196.9" y1="456.9" x2="185.7" y2="457.9" stroke-width="5.8"/>
<line class="C0" x1="185.7" y1="457.9" x2="174.5" y2="458.8" stroke-width="5.8"/>
<line class="C1" x1="196.9" y1="456.9" x2="185.7" y2="457.9" stroke-width="3.9"/>
<line class="C1" x1="185.7" y1="457.9" x2="174.5" y2="458.8" stroke-width="3.9"/>
<line class="C2" x1="196.9" y1="456.9" x2="185.7" y2="457.9" stroke-width="1.9"/>
<line class="C2" x1="185.7" y1="457.9" x2="174.5" y2="458.8" stroke-width="1.9"/>
<line class="C0" x1="174.5" y1="458.8" x2="171.2" y2="450.4" stroke-width="5.2"/>
<line class="N0" x1="171.2" y1="450.4" x2="168.0" y2="442.0" stroke-width="5.2"/>
<line class="C1" x1="174.5" y1="458.8" x2="171.2" y2="450.4" stroke-width="3.5"/>
<line class="N1" x1="171.2" y1="450.4" x2="168.0" y2="442.0" stroke-width="3.5"/>
<line class="C2" x1="174.5" y1="458.8" x2="171.2" y2="450.4" stroke-width="1.7"/>
<line class="N2" x1="171.2" y1="450.4" x2="168.0" y2="442.0" stroke-width="1.7"/>
<line class="C0" x1="201.5" y1="434.5" x2="209.4" y2="432.2" stroke-width="5.2"/>
<line class="H0" x1="209.4" y1="432.2" x2="217.4" y2="429.9" stroke-width="5.2"/>
<line class="C1" x1="201.5" y1="434.5" x2="209.4" y2="432.2" stroke-width="3.5"/>
<line class="H1" x1="209.4" y1="432.2" x2="217.4" y2="429.9" stroke-width="3.5"/>
<line class="C2" x1="201.5" y1="434.5" x2="209.4" y2="432.2" stroke-width="1.7"/>
<line class="H2" x1="209.4" y1="432.2" x2="217.4" y2="429.9" stroke-width="1.7"/>
<line class="C0" x1="196.9" y1="456.9" x2="201.1" y2="462.0" stroke-width="5.2"/>
<line class="H0" x1="201.1" y1="462.0" x2="205.3" y2="467.1" stroke-width="5.2"/>
<line class="C1" x1="196.9" y1="456.9" x2="201.1" y2="462.0" stroke-width="3.5"/>
<line class="H1" x1="201.1" y1="462.0" x2="205.3" y2="467.1" stroke-width="3.5"/>
<line class="C2" x1="196.9" y1="456.9" x2="201.1" y2="462.0" stroke-width="1.7"/>
<line class="H2" x1="201.1" y1="462.0" x2="205.3" y2="467.1" stroke-width="1.7"/>
<line class="C0" x1="174.5" y1="458.8" x2="170.3" y2="463.9" stroke-width="5.2"/>
<line class="H0" x1="170.3" y1="463.9" x2="166.1" y2="469.0" stroke-width="5.2"/>
<line class="C1" x1="174.5" y1="458.8" x2="170.3" y2="463.9" stroke-width="3.5"/>
<line class="H1" x1="170.3" y1="463.9" x2="166.1" y2="469.0" stroke-width="3.5"/>
<line class="C2" x1="174.5" y1="458.8" x2="170.3" y2="463.9" stroke-width="1.7"/>
<line class="H2" x1="170.3" y1="463.9" x2="166.1" y2="469.0" stroke-width="1.7"/>
<line class="F0" x1="137.8" y1="431.8" x2="152.9" y2="436.9" stroke-width="4.4"/>
<line class="N0" x1="152.9" y1="436.9" x2="168.0" y2="442.0" stroke-width="4.4"/>
<line class="F1" x1="137.8" y1="431.8" x2="152.9" y2="436.9" stroke-width="3.0"/>
<line class="N1" x1="152.9" y1="436.9" x2="168.0" y2="442.0" stroke-width="3.0"/>
<line class="F2" x1="137.8" y1="431.8" x2="152.9" y2="436.9" stroke-width="1.4"/>
<line class="N2" x1="152.9" y1="436.9" x2="168.0" y2="442.0" stroke-width="1.4"/>
<line class="C0" x1="106.5" y1="462.8" x2="106.0" y2="474.8" stroke-width="5.2"/>
<line class="C0" x1="106.0" y1="474.8" x2="105.4" y2="486.7" stroke-width="5.2"/>
<line class="C1" x1="106.5" y1="462.8" x2="106.0" y2="474.8" stroke-width="3.5"/>
<line class="C1" x1="106.0" y1="474.8" x2="105.4" y2="486.7" stroke-width="3.5"/>
<line class="C2" x1="106.5" y1="462.8" x2="106.0" y2="474.8" stroke-width="1.7"/>
<line class="C2" x1="106.0" y1="474.8" x2="105.4" y2="486.7" stroke-width="1.7"/>
<line class="C0" x1="105.4" y1="486.7" x2="97.2" y2="491.6" stroke-width="5.2"/>
<line class="H0" x1="97.2" y1="491.6" x2="89.1" y2="496.5" stroke-width="5.2"/>
<line class="C1" x1="105.4" y1="486.7" x2="97.2" y2="491.6" stroke-width="3.5"/>
<line class="H1" x1="97.2" y1="491.6" x2="89.1" y2="496.5" stroke-width="3.5"/>
<line class="C2" x1="105.4" y1="486.7" x2="97.2" y2="491.6" stroke-width="1.7"/>
<line class="H2" x1="97.2" y1="491.6" x2="89.1" y2="496.5" stroke-width="1.7"/>
<line class="C0" x1="105.4" y1="486.7" x2="113.6" y2="491.6" stroke-width="5.2"/>
<line class="H0" x1="113.6" y1="491.6" x2="121.7" y2="496.5" stroke-width="5.2"/>
<line class="C1" x1="105.4" y1="486.7" x2="113.6" y2="491.6" stroke-width="3.5"/>
<line class="H1" x1="113.6" y1="491.6" x2="121.7" y2="496.5" stroke-width="3.5"/>
<line class="C2" x1="105.4" y1="486.7" x2="113.6" y2="491.6" stroke-width="1.7"/>
<line class="H2" x1="113.6" y1="491.6" x2="121.7" y2="496.5" stroke-width="1.7"/>
<line class="C0" x1="113.0" y1="450.9" x2="114.1" y2="454.7" stroke-width="5.2"/>
<line class="C0" x1="114.1" y1="454.7" x2="115.2" y2="458.5" stroke-width="5.2"/>
<line class="C1" x1="113.0" y1="450.9" x2="114.1" y2="454.7" stroke-width="3.5"/>
<line class="C1" x1="114.1" y1="454.7" x2="115.2" y2="458.5" stroke-width="3.5"/>
<line class="C2" x1="113.0" y1="450.9" x2="114.1" y2="454.7" stroke-width="1.7"/>
<line class="C2" x1="114.1" y1="454.7" x2="115.2" y2="458.5" stroke-width="1.7"/>
<line class="C0" x1="115.2" y1="458.5" x2="121.8" y2="462.9" stroke-width="5.2"/>
<line class="H0" x1="121.8" y1="462.9" x2="128.3" y2="467.2" stroke-width="5.2"/>
<line class="C1" x1="115.2" y1="458.5" x2="121.8" y2="462.9" stroke-width="3.5"/>
<line class="H1" x1="121.8" y1="462.9" x2="128.3" y2="467.2" stroke-width="3.5"/>
<line class="C2" x1="115.2" y1="458.5" x2="121.8" y2="462.9" stroke-width="1.7"/>
<line class="H2" x1="121.8" y1="462.9" x2="128.3" y2="467.2" stroke-width="1.7"/>
<line class="F0" x1="84.9" y1="431.0" x2="87.0" y2="443.1" stroke-width="3.8"/>
<line class="O0" x1="87.0" y1="443.1" x2="89.1" y2="455.2" stroke-width="3.8"/>
<line class="F1" x1="84.9" y1="431.0" x2="87.0" y2="443.1" stroke-width="2.6"/>
<line class="O1" x1="87.0" y1="443.1" x2="89.1" y2="455.2" stroke-width="2.6"/>
<line class="F2" x1="84.9" y1="431.0" x2="87.0" y2="443.1" stroke-width="1.2"/>
<line class="O2" x1="87.0" y1="443.1" x2="89.1" y2="455.2" stroke-width="1.2"/>
<line class="O0" x1="89.1" y1="455.2" x2="97.8" y2="459.0" stroke-width="3.8"/>
<line class="C0" x1="97.8" y1="459.0" x2="106.5" y2="462.8" stroke-width="3.8"/>
<line class="O1" x1="89.1" y1="455.2" x2="97.8" y2="459.0" stroke-width="2.6"/>
<line class="C1" x1="97.8" y1="459.0" x2="106.5" y2="462.8" stroke-width="2.6"/>
<line class="O2" x1="89.1" y1="455.2" x2="97.8" y2="459.0" stroke-width="1.2"/>
<line class="C2" x1="97.8" y1="459.0" x2="106.5" y2="462.8" stroke-width="1.2"/>
<line class="C0" x1="106.5" y1="462.8" x2="113.6" y2="460.1" stroke-width="3.8"/>
<line class="O0" x1="113.6" y1="460.1" x2="120.7" y2="457.4" stroke-width="3.8"/>
<line class="C1" x1="106.5" y1="462.8" x2="113.6" y2="460.1" stroke-width="2.6"/>
<line class="O1" x1="113.6" y1="460.1" x2="120.7" y2="457.4" stroke-width="2.6"/>
<line class="C2" x1="106.5" y1="462.8" x2="113.6" y2="460.1" stroke-width="1.2"/>
<line class="O2" x1="113.6" y1="460.1" x2="120.7" y2="457.4" stroke-width="1.2"/>
<line class="O0" x1="120.7" y1="457.4" x2="129.2" y2="444.6" stroke-width="3.8"/>
<line class="F0" x1="129.2" y1="444.6" x2="137.8" y2="431.8" stroke-width="3.8"/>
<line class="O1" x1="120.7" y1="457.4" x2="129.2" y2="444.6" stroke-width="2.6"/>
<line class="F1" x1="129.2" y1="444.6" x2="137.8" y2="431.8" stroke-width="2.6"/>
<line class="O2" x1="120.7" y1="457.4" x2="129.2" y2="444.6" stroke-width="1.2"/>
<line class="F2" x1="129.2" y1="444.6" x2="137.8" y2="431.8" stroke-width="1.2"/>
<line class="F0" x1="84.9" y1="431.0" x2="92.5" y2="439.9" stroke-width="3.8"/>
<line class="O0" x1="92.5" y1="439.9" x2="100.0" y2="448.7" stroke-width="3.8"/>
<line class="F1" x1="84.9" y1="431.0" x2="92.5" y2="439.9" stroke-width="2.6"/>
<line class="O1" x1="92.5" y1="439.9" x2="100.0" y2="448.7" stroke-width="2.6"/>
<line class="F2" x1="84.9" y1="431.0" x2="92.5" y2="439.9" stroke-width="1.2"/>
<line class="O2" x1="92.5" y1="439.9" x2="100.0" y2="448.7" stroke-width="1.2"/>
<line class="O0" x1="100.0" y1="448.7" x2="106.5" y2="449.8" stroke-width="3.8"/>
<line class="C0" x1="106.5" y1="449.8" x2="113.0" y2="450.9" stroke-width="3.8"/>
<line class="O1" x1="100.0" y1="448.7" x2="106.5" y2="449.8" stroke-width="2.6"/>
<line class="C1" x1="106.5" y1="449.8" x2="113.0" y2="450.9" stroke-width="2.6"/>
<line class="O2" x1="100.0" y1="448.7" x2="106.5" y2="449.8" stroke-width="1.2"/>
<line class="C2" x1="106.5" y1="449.8" x2="113.0" y2="450.9" stroke-width="1.2"/>
<line class="C0" x1="113.0" y1="450.9" x2="118.5" y2="448.7" stroke-width="3.8"/>
<line class="O0" x1="118.5" y1="448.7" x2="123.9" y2="446.5" stroke-width="3.8"/>
<line class="C1" x1="113.0" y1="450.9" x2="118.5" y2="448.7" stroke-width="2.6"/>
<line class="O1" x1="118.5" y1="448.7" x2="123.9" y2="446.5" stroke-width="2.6"/>
<line class="C2" x1="113.0" y1="450.9" x2="118.5" y2="448.7" stroke-width="1.2"/>
<line class="O2" x1="118.5" y1="448.7" x2="123.9" y2="446.5" stroke-width="1.2"/>
<line class="O0" x1="123.9" y1="446.5" x2="130.9" y2="439.1" stroke-width="3.8"/>
<line class="F0" x1="130.9" y1="439.1" x2="137.8" y2="431.8" stroke-width="3.8"/>
<line class="O1" x1="123.9" y1="446.5" x2="130.9" y2="439.1" stroke-width="2.6"/>
<line class="F1" x1="130.9" y1="439.1" x2="137.8" y2="431.8" stroke-width="2.6"/>
<line class="O2" x1="123.9" y1="446.5" x2="130.9" y2="439.1" stroke-width="1.2"/>
<line class="F2" x1="130.9" y1="439.1" x2="137.8" y2="431.8" stroke-width="1.2"/>
<line class="F0" x1="84.9" y1="431.0" x2="97.6" y2="424.5" stroke-width="3.8"/>
<line class="O0" x1="97.6" y1="424.5" x2="110.3" y2="418.0" stroke-width="3.8"/>
<line class="F1" x1="84.9" y1="431.0" x2="97.6" y2="424.5" stroke-width="2.6"/>
<line class="O1" x1="97.6" y1="424.5" x2="110.3" y2="418.0" stroke-width="2.6"/>
<line class="F2" x1="84.9" y1="431.0" x2="97.6" y2="424.5" stroke-width="1.2"/>
<line class="O2" x1="97.6" y1="424.5" x2="110.3" y2="418.0" stroke-width="1.2"/>
<line class="O0" x1="110.3" y1="418.0" x2="124.1" y2="424.9" stroke-width="3.8"/>
<line class="F0" x1="124.1" y1="424.9" x2="137.8" y2="431.8" stroke-width="3.8"/>
<line class="O1" x1="110.3" y1="418.0" x2="124.1" y2="424.9" stroke-width="2.6"/>
<line class="F1" x1="124.1" y1="424.9" x2="137.8" y2="431.8" stroke-width="2.6"/>
<line class="O2" x1="110.3" y1="418.0" x2="124.1" y2="424.9" stroke-width="1.2"/>
<line class="F2" x1="124.1" y1="424.9" x2="137.8" y2="431.8" stroke-width="1.2"/>
<line class="O0" x1="110.3" y1="418.0" x2="110.4" y2="411.5" stroke-width="3.8"/>
<line class="H0" x1="110.4" y1="411.5" x2="110.5" y2="405.0" stroke-width="3.8"/>
<line class="O1" x1="110.3" y1="418.0" x2="110.4" y2="411.5" stroke-width="2.6"/>
<line class="H1" x1="110.4" y1="411.5" x2="110.5" y2="405.0" stroke-width="2.6"/>
<line class="O2" x1="110.3" y1="418.0" x2="110.4" y2="411.5" stroke-width="1.2"/>
<line class="H2" x1="110.4" y1="411.5" x2="110.5" y2="405.0" stroke-width="1.2"/></g>
<text x="0" y="0" transform="translate(95.2,419.7) rotate(-21)" font-size="16.5" font-weight="bold" fill="#000" text-anchor="middle">1.96</text>
<text x="0" y="0" transform="translate(126.6,420.5) rotate(25)" font-size="16.5" font-weight="bold" fill="#000" text-anchor="middle">1.97</text><g stroke-linecap="round"><line class="C0" x1="256.0" y1="380.0" x2="266.0" y2="380.5" stroke-width="5.2"/>
<line class="C0" x1="266.0" y1="380.5" x2="276.0" y2="381.0" stroke-width="5.2"/>
<line class="C1" x1="256.0" y1="380.0" x2="266.0" y2="380.5" stroke-width="3.5"/>
<line class="C1" x1="266.0" y1="380.5" x2="276.0" y2="381.0" stroke-width="3.5"/>
<line class="C2" x1="256.0" y1="380.0" x2="266.0" y2="380.5" stroke-width="1.7"/>
<line class="C2" x1="266.0" y1="380.5" x2="276.0" y2="381.0" stroke-width="1.7"/>
<line class="C0" x1="251.6" y1="377.4" x2="257.4" y2="384.0" stroke-width="5.2"/>
<line class="N0" x1="257.4" y1="384.0" x2="263.2" y2="390.7" stroke-width="5.2"/>
<line class="C1" x1="251.6" y1="377.4" x2="257.4" y2="384.0" stroke-width="3.5"/>
<line class="N1" x1="257.4" y1="384.0" x2="263.2" y2="390.7" stroke-width="3.5"/>
<line class="C2" x1="251.6" y1="377.4" x2="257.4" y2="384.0" stroke-width="1.7"/>
<line class="N2" x1="257.4" y1="384.0" x2="263.2" y2="390.7" stroke-width="1.7"/>
<line class="N0" x1="263.2" y1="390.7" x2="274.8" y2="393.6" stroke-width="5.2"/>
<line class="N0" x1="274.8" y1="393.6" x2="286.4" y2="396.5" stroke-width="5.2"/>
<line class="N1" x1="263.2" y1="390.7" x2="274.8" y2="393.6" stroke-width="3.5"/>
<line class="N1" x1="274.8" y1="393.6" x2="286.4" y2="396.5" stroke-width="3.5"/>
<line class="N2" x1="263.2" y1="390.7" x2="274.8" y2="393.6" stroke-width="1.7"/>
<line class="N2" x1="274.8" y1="393.6" x2="286.4" y2="396.5" stroke-width="1.7"/>
<line class="N0" x1="286.4" y1="396.5" x2="289.8" y2="391.1" stroke-width="5.2"/>
<line class="C0" x1="289.8" y1="391.1" x2="293.1" y2="385.7" stroke-width="5.2"/>
<line class="N1" x1="286.4" y1="396.5" x2="289.8" y2="391.1" stroke-width="3.5"/>
<line class="C1" x1="289.8" y1="391.1" x2="293.1" y2="385.7" stroke-width="3.5"/>
<line class="N2" x1="286.4" y1="396.5" x2="289.8" y2="391.1" stroke-width="1.7"/>
<line class="C2" x1="289.8" y1="391.1" x2="293.1" y2="385.7" stroke-width="1.7"/>
<line class="C0" x1="251.6" y1="377.4" x2="240.8" y2="373.7" stroke-width="5.2"/>
<line class="H0" x1="240.8" y1="373.7" x2="230.0" y2="370.0" stroke-width="5.2"/>
<line class="C1" x1="251.6" y1="377.4" x2="240.8" y2="373.7" stroke-width="3.5"/>
<line class="H1" x1="240.8" y1="373.7" x2="230.0" y2="370.0" stroke-width="3.5"/>
<line class="C2" x1="251.6" y1="377.4" x2="240.8" y2="373.7" stroke-width="1.7"/>
<line class="H2" x1="240.8" y1="373.7" x2="230.0" y2="370.0" stroke-width="1.7"/>
<line class="C0" x1="269.8" y1="373.3" x2="269.8" y2="365.4" stroke-width="5.2"/>
<line class="H0" x1="269.8" y1="365.4" x2="269.8" y2="357.5" stroke-width="5.2"/>
<line class="C1" x1="269.8" y1="373.3" x2="269.8" y2="365.4" stroke-width="3.5"/>
<line class="H1" x1="269.8" y1="365.4" x2="269.8" y2="357.5" stroke-width="3.5"/>
<line class="C2" x1="269.8" y1="373.3" x2="269.8" y2="365.4" stroke-width="1.7"/>
<line class="H2" x1="269.8" y1="365.4" x2="269.8" y2="357.5" stroke-width="1.7"/>
<line class="C0" x1="293.1" y1="385.7" x2="299.1" y2="387.4" stroke-width="5.2"/>
<line class="H0" x1="299.1" y1="387.4" x2="305.0" y2="389.0" stroke-width="5.2"/>
<line class="C1" x1="293.1" y1="385.7" x2="299.1" y2="387.4" stroke-width="3.5"/>
<line class="H1" x1="299.1" y1="387.4" x2="305.0" y2="389.0" stroke-width="3.5"/>
<line class="C2" x1="293.1" y1="385.7" x2="299.1" y2="387.4" stroke-width="1.7"/>
<line class="H2" x1="299.1" y1="387.4" x2="305.0" y2="389.0" stroke-width="1.7"/>
<line class="K0" x1="263.2" y1="390.7" x2="258.2" y2="394.4" stroke-width="5.6"/>
<line class="K0" x1="258.2" y1="394.4" x2="253.2" y2="398.2" stroke-width="5.6"/>
<line class="K1" x1="263.2" y1="390.7" x2="258.2" y2="394.4" stroke-width="3.8"/>
<line class="K1" x1="258.2" y1="394.4" x2="253.2" y2="398.2" stroke-width="3.8"/>
<line class="K2" x1="263.2" y1="390.7" x2="258.2" y2="394.4" stroke-width="1.8"/>
<line class="K2" x1="258.2" y1="394.4" x2="253.2" y2="398.2" stroke-width="1.8"/>
<line class="B0" x1="253.2" y1="398.2" x2="244.1" y2="396.1" stroke-width="5.2"/>
<line class="H0" x1="244.1" y1="396.1" x2="235.0" y2="394.0" stroke-width="5.2"/>
<line class="B1" x1="253.2" y1="398.2" x2="244.1" y2="396.1" stroke-width="3.5"/>
<line class="H1" x1="244.1" y1="396.1" x2="235.0" y2="394.0" stroke-width="3.5"/>
<line class="B2" x1="253.2" y1="398.2" x2="244.1" y2="396.1" stroke-width="1.7"/>
<line class="H2" x1="244.1" y1="396.1" x2="235.0" y2="394.0" stroke-width="1.7"/>
<line class="B0" x1="253.2" y1="398.2" x2="253.7" y2="411.1" stroke-width="5.2"/>
<line class="N0" x1="253.7" y1="411.1" x2="254.2" y2="424.0" stroke-width="5.2"/>
<line class="B1" x1="253.2" y1="398.2" x2="253.7" y2="411.1" stroke-width="3.5"/>
<line class="N1" x1="253.7" y1="411.1" x2="254.2" y2="424.0" stroke-width="3.5"/>
<line class="B2" x1="253.2" y1="398.2" x2="253.7" y2="411.1" stroke-width="1.7"/>
<line class="N2" x1="253.7" y1="411.1" x2="254.2" y2="424.0" stroke-width="1.7"/>
<line class="K0" x1="251.6" y1="377.4" x2="260.7" y2="375.4" stroke-width="6.0"/>
<line class="K0" x1="260.7" y1="375.4" x2="269.8" y2="373.3" stroke-width="6.0"/>
<line class="K1" x1="251.6" y1="377.4" x2="260.7" y2="375.4" stroke-width="4.1"/>
<line class="K1" x1="260.7" y1="375.4" x2="269.8" y2="373.3" stroke-width="4.1"/>
<line class="K2" x1="251.6" y1="377.4" x2="260.7" y2="375.4" stroke-width="1.9"/>
<line class="K2" x1="260.7" y1="375.4" x2="269.8" y2="373.3" stroke-width="1.9"/>
<line class="C0" x1="269.8" y1="373.3" x2="281.5" y2="379.5" stroke-width="7.6"/>
<line class="C0" x1="281.5" y1="379.5" x2="293.1" y2="385.7" stroke-width="7.6"/>
<line class="C1" x1="269.8" y1="373.3" x2="281.5" y2="379.5" stroke-width="5.2"/>
<line class="C1" x1="281.5" y1="379.5" x2="293.1" y2="385.7" stroke-width="5.2"/>
<line class="C2" x1="269.8" y1="373.3" x2="281.5" y2="379.5" stroke-width="2.4"/>
<line class="C2" x1="281.5" y1="379.5" x2="293.1" y2="385.7" stroke-width="2.4"/>
<line class="N0" x1="286.4" y1="396.5" x2="293.7" y2="404.6" stroke-width="4.4"/>
<line class="F0" x1="293.7" y1="404.6" x2="301.0" y2="412.8" stroke-width="4.4"/>
<line class="N1" x1="286.4" y1="396.5" x2="293.7" y2="404.6" stroke-width="3.0"/>
<line class="F1" x1="293.7" y1="404.6" x2="301.0" y2="412.8" stroke-width="3.0"/>
<line class="N2" x1="286.4" y1="396.5" x2="293.7" y2="404.6" stroke-width="1.4"/>
<line class="F2" x1="293.7" y1="404.6" x2="301.0" y2="412.8" stroke-width="1.4"/>
<line class="N0" x1="254.2" y1="424.0" x2="264.6" y2="427.0" stroke-width="5.2"/>
<line class="N0" x1="264.6" y1="427.0" x2="275.0" y2="430.0" stroke-width="5.2"/>
<line class="N1" x1="254.2" y1="424.0" x2="264.6" y2="427.0" stroke-width="3.5"/>
<line class="N1" x1="264.6" y1="427.0" x2="275.0" y2="430.0" stroke-width="3.5"/>
<line class="N2" x1="254.2" y1="424.0" x2="264.6" y2="427.0" stroke-width="1.7"/>
<line class="N2" x1="264.6" y1="427.0" x2="275.0" y2="430.0" stroke-width="1.7"/>
<line class="N0" x1="275.0" y1="430.0" x2="274.0" y2="440.0" stroke-width="5.2"/>
<line class="C0" x1="274.0" y1="440.0" x2="273.0" y2="450.0" stroke-width="5.2"/>
<line class="N1" x1="275.0" y1="430.0" x2="274.0" y2="440.0" stroke-width="3.5"/>
<line class="C1" x1="274.0" y1="440.0" x2="273.0" y2="450.0" stroke-width="3.5"/>
<line class="N2" x1="275.0" y1="430.0" x2="274.0" y2="440.0" stroke-width="1.7"/>
<line class="C2" x1="274.0" y1="440.0" x2="273.0" y2="450.0" stroke-width="1.7"/>
<line class="C0" x1="273.0" y1="450.0" x2="261.0" y2="453.0" stroke-width="5.8"/>
<line class="C0" x1="261.0" y1="453.0" x2="249.0" y2="456.0" stroke-width="5.8"/>
<line class="C1" x1="273.0" y1="450.0" x2="261.0" y2="453.0" stroke-width="3.9"/>
<line class="C1" x1="261.0" y1="453.0" x2="249.0" y2="456.0" stroke-width="3.9"/>
<line class="C2" x1="273.0" y1="450.0" x2="261.0" y2="453.0" stroke-width="1.9"/>
<line class="C2" x1="261.0" y1="453.0" x2="249.0" y2="456.0" stroke-width="1.9"/>
<line class="C0" x1="249.0" y1="456.0" x2="245.0" y2="445.9" stroke-width="5.2"/>
<line class="C0" x1="245.0" y1="445.9" x2="241.0" y2="435.8" stroke-width="5.2"/>
<line class="C1" x1="249.0" y1="456.0" x2="245.0" y2="445.9" stroke-width="3.5"/>
<line class="C1" x1="245.0" y1="445.9" x2="241.0" y2="435.8" stroke-width="3.5"/>
<line class="C2" x1="249.0" y1="456.0" x2="245.0" y2="445.9" stroke-width="1.7"/>
<line class="C2" x1="245.0" y1="445.9" x2="241.0" y2="435.8" stroke-width="1.7"/>
<line class="C0" x1="241.0" y1="435.8" x2="247.6" y2="429.9" stroke-width="5.2"/>
<line class="N0" x1="247.6" y1="429.9" x2="254.2" y2="424.0" stroke-width="5.2"/>
<line class="C1" x1="241.0" y1="435.8" x2="247.6" y2="429.9" stroke-width="3.5"/>
<line class="N1" x1="247.6" y1="429.9" x2="254.2" y2="424.0" stroke-width="3.5"/>
<line class="C2" x1="241.0" y1="435.8" x2="247.6" y2="429.9" stroke-width="1.7"/>
<line class="N2" x1="247.6" y1="429.9" x2="254.2" y2="424.0" stroke-width="1.7"/>
<line class="C0" x1="241.0" y1="435.8" x2="233.5" y2="435.1" stroke-width="5.2"/>
<line class="H0" x1="233.5" y1="435.1" x2="226.0" y2="434.5" stroke-width="5.2"/>
<line class="C1" x1="241.0" y1="435.8" x2="233.5" y2="435.1" stroke-width="3.5"/>
<line class="H1" x1="233.5" y1="435.1" x2="226.0" y2="434.5" stroke-width="3.5"/>
<line class="C2" x1="241.0" y1="435.8" x2="233.5" y2="435.1" stroke-width="1.7"/>
<line class="H2" x1="233.5" y1="435.1" x2="226.0" y2="434.5" stroke-width="1.7"/>
<line class="C0" x1="249.0" y1="456.0" x2="247.0" y2="461.5" stroke-width="5.2"/>
<line class="H0" x1="247.0" y1="461.5" x2="245.0" y2="467.0" stroke-width="5.2"/>
<line class="C1" x1="249.0" y1="456.0" x2="247.0" y2="461.5" stroke-width="3.5"/>
<line class="H1" x1="247.0" y1="461.5" x2="245.0" y2="467.0" stroke-width="3.5"/>
<line class="C2" x1="249.0" y1="456.0" x2="247.0" y2="461.5" stroke-width="1.7"/>
<line class="H2" x1="247.0" y1="461.5" x2="245.0" y2="467.0" stroke-width="1.7"/>
<line class="C0" x1="273.0" y1="450.0" x2="278.1" y2="453.0" stroke-width="5.2"/>
<line class="H0" x1="278.1" y1="453.0" x2="283.1" y2="456.0" stroke-width="5.2"/>
<line class="C1" x1="273.0" y1="450.0" x2="278.1" y2="453.0" stroke-width="3.5"/>
<line class="H1" x1="278.1" y1="453.0" x2="283.1" y2="456.0" stroke-width="3.5"/>
<line class="C2" x1="273.0" y1="450.0" x2="278.1" y2="453.0" stroke-width="1.7"/>
<line class="H2" x1="278.1" y1="453.0" x2="283.1" y2="456.0" stroke-width="1.7"/>
<line class="N0" x1="275.0" y1="430.0" x2="288.0" y2="421.4" stroke-width="4.4"/>
<line class="F0" x1="288.0" y1="421.4" x2="301.0" y2="412.8" stroke-width="4.4"/>
<line class="N1" x1="275.0" y1="430.0" x2="288.0" y2="421.4" stroke-width="3.0"/>
<line class="F1" x1="288.0" y1="421.4" x2="301.0" y2="412.8" stroke-width="3.0"/>
<line class="N2" x1="275.0" y1="430.0" x2="288.0" y2="421.4" stroke-width="1.4"/>
<line class="F2" x1="288.0" y1="421.4" x2="301.0" y2="412.8" stroke-width="1.4"/>
<line class="C0" x1="373.6" y1="377.3" x2="366.8" y2="377.0" stroke-width="5.2"/>
<line class="H0" x1="366.8" y1="377.0" x2="360.0" y2="376.6" stroke-width="5.2"/>
<line class="C1" x1="373.6" y1="377.3" x2="366.8" y2="377.0" stroke-width="3.5"/>
<line class="H1" x1="366.8" y1="377.0" x2="360.0" y2="376.6" stroke-width="3.5"/>
<line class="C2" x1="373.6" y1="377.3" x2="366.8" y2="377.0" stroke-width="1.7"/>
<line class="H2" x1="366.8" y1="377.0" x2="360.0" y2="376.6" stroke-width="1.7"/>
<line class="C0" x1="403.4" y1="373.5" x2="410.2" y2="371.6" stroke-width="5.2"/>
<line class="H0" x1="410.2" y1="371.6" x2="417.1" y2="369.8" stroke-width="5.2"/>
<line class="C1" x1="403.4" y1="373.5" x2="410.2" y2="371.6" stroke-width="3.5"/>
<line class="H1" x1="410.2" y1="371.6" x2="417.1" y2="369.8" stroke-width="3.5"/>
<line class="C2" x1="403.4" y1="373.5" x2="410.2" y2="371.6" stroke-width="1.7"/>
<line class="H2" x1="410.2" y1="371.6" x2="417.1" y2="369.8" stroke-width="1.7"/>
<line class="C0" x1="393.5" y1="363.0" x2="395.9" y2="354.8" stroke-width="5.2"/>
<line class="C0" x1="395.9" y1="354.8" x2="398.4" y2="346.5" stroke-width="5.2"/>
<line class="C1" x1="393.5" y1="363.0" x2="395.9" y2="354.8" stroke-width="3.5"/>
<line class="C1" x1="395.9" y1="354.8" x2="398.4" y2="346.5" stroke-width="3.5"/>
<line class="C2" x1="393.5" y1="363.0" x2="395.9" y2="354.8" stroke-width="1.7"/>
<line class="C2" x1="395.9" y1="354.8" x2="398.4" y2="346.5" stroke-width="1.7"/>
<line class="N0" x1="374.8" y1="393.4" x2="384.1" y2="392.2" stroke-width="5.2"/>
<line class="N0" x1="384.1" y1="392.2" x2="393.5" y2="391.0" stroke-width="5.2"/>
<line class="N1" x1="374.8" y1="393.4" x2="384.1" y2="392.2" stroke-width="3.5"/>
<line class="N1" x1="384.1" y1="392.2" x2="393.5" y2="391.0" stroke-width="3.5"/>
<line class="N2" x1="374.8" y1="393.4" x2="384.1" y2="392.2" stroke-width="1.7"/>
<line class="N2" x1="384.1" y1="392.2" x2="393.5" y2="391.0" stroke-width="1.7"/>
<line class="N0" x1="393.5" y1="391.0" x2="398.4" y2="382.2" stroke-width="5.2"/>
<line class="C0" x1="398.4" y1="382.2" x2="403.4" y2="373.5" stroke-width="5.2"/>
<line class="N1" x1="393.5" y1="391.0" x2="398.4" y2="382.2" stroke-width="3.5"/>
<line class="C1" x1="398.4" y1="382.2" x2="403.4" y2="373.5" stroke-width="3.5"/>
<line class="N2" x1="393.5" y1="391.0" x2="398.4" y2="382.2" stroke-width="1.7"/>
<line class="C2" x1="398.4" y1="382.2" x2="403.4" y2="373.5" stroke-width="1.7"/>
<line class="C0" x1="403.4" y1="373.5" x2="398.4" y2="368.2" stroke-width="5.8"/>
<line class="C0" x1="398.4" y1="368.2" x2="393.5" y2="363.0" stroke-width="5.8"/>
<line class="C1" x1="403.4" y1="373.5" x2="398.4" y2="368.2" stroke-width="3.9"/>
<line class="C1" x1="398.4" y1="368.2" x2="393.5" y2="363.0" stroke-width="3.9"/>
<line class="C2" x1="403.4" y1="373.5" x2="398.4" y2="368.2" stroke-width="1.9"/>
<line class="C2" x1="398.4" y1="368.2" x2="393.5" y2="363.0" stroke-width="1.9"/>
<line class="K0" x1="393.5" y1="363.0" x2="383.6" y2="370.1" stroke-width="6.2"/>
<line class="K0" x1="383.6" y1="370.1" x2="373.6" y2="377.3" stroke-width="6.2"/>
<line class="K1" x1="393.5" y1="363.0" x2="383.6" y2="370.1" stroke-width="4.2"/>
<line class="K1" x1="383.6" y1="370.1" x2="373.6" y2="377.3" stroke-width="4.2"/>
<line class="K2" x1="393.5" y1="363.0" x2="383.6" y2="370.1" stroke-width="2.0"/>
<line class="K2" x1="383.6" y1="370.1" x2="373.6" y2="377.3" stroke-width="2.0"/>
<line class="C0" x1="373.6" y1="377.3" x2="374.2" y2="385.4" stroke-width="5.2"/>
<line class="N0" x1="374.2" y1="385.4" x2="374.8" y2="393.4" stroke-width="5.2"/>
<line class="C1" x1="373.6" y1="377.3" x2="374.2" y2="385.4" stroke-width="3.5"/>
<line class="N1" x1="374.2" y1="385.4" x2="374.8" y2="393.4" stroke-width="3.5"/>
<line class="C2" x1="373.6" y1="377.3" x2="374.2" y2="385.4" stroke-width="1.7"/>
<line class="N2" x1="374.2" y1="385.4" x2="374.8" y2="393.4" stroke-width="1.7"/>
<line class="N0" x1="374.8" y1="393.4" x2="365.4" y2="405.7" stroke-width="4.4"/>
<line class="F0" x1="365.4" y1="405.7" x2="356.0" y2="418.0" stroke-width="4.4"/>
<line class="N1" x1="374.8" y1="393.4" x2="365.4" y2="405.7" stroke-width="3.0"/>
<line class="F1" x1="365.4" y1="405.7" x2="356.0" y2="418.0" stroke-width="3.0"/>
<line class="N2" x1="374.8" y1="393.4" x2="365.4" y2="405.7" stroke-width="1.4"/>
<line class="F2" x1="365.4" y1="405.7" x2="356.0" y2="418.0" stroke-width="1.4"/>
<line class="N0" x1="393.5" y1="391.0" x2="395.4" y2="397.2" stroke-width="5.2"/>
<line class="B0" x1="395.4" y1="397.2" x2="397.2" y2="403.4" stroke-width="5.2"/>
<line class="N1" x1="393.5" y1="391.0" x2="395.4" y2="397.2" stroke-width="3.5"/>
<line class="B1" x1="395.4" y1="397.2" x2="397.2" y2="403.4" stroke-width="3.5"/>
<line class="N2" x1="393.5" y1="391.0" x2="395.4" y2="397.2" stroke-width="1.7"/>
<line class="B2" x1="395.4" y1="397.2" x2="397.2" y2="403.4" stroke-width="1.7"/>
<line class="C0" x1="348.0" y1="401.0" x2="370.0" y2="401.8" stroke-width="5.2"/>
<line class="C0" x1="370.0" y1="401.8" x2="392.0" y2="402.5" stroke-width="5.2"/>
<line class="C1" x1="348.0" y1="401.0" x2="370.0" y2="401.8" stroke-width="3.5"/>
<line class="C1" x1="370.0" y1="401.8" x2="392.0" y2="402.5" stroke-width="3.5"/>
<line class="C2" x1="348.0" y1="401.0" x2="370.0" y2="401.8" stroke-width="1.7"/>
<line class="C2" x1="370.0" y1="401.8" x2="392.0" y2="402.5" stroke-width="1.7"/>
<line class="H0" x1="346.0" y1="398.0" x2="347.0" y2="399.5" stroke-width="5.2"/>
<line class="C0" x1="347.0" y1="399.5" x2="348.0" y2="401.0" stroke-width="5.2"/>
<line class="H1" x1="346.0" y1="398.0" x2="347.0" y2="399.5" stroke-width="3.5"/>
<line class="C1" x1="347.0" y1="399.5" x2="348.0" y2="401.0" stroke-width="3.5"/>
<line class="H2" x1="346.0" y1="398.0" x2="347.0" y2="399.5" stroke-width="1.7"/>
<line class="C2" x1="347.0" y1="399.5" x2="348.0" y2="401.0" stroke-width="1.7"/>
<line class="N0" x1="362.0" y1="405.0" x2="371.5" y2="404.5" stroke-width="5.2"/>
<line class="N0" x1="371.5" y1="404.5" x2="381.0" y2="404.0" stroke-width="5.2"/>
<line class="N1" x1="362.0" y1="405.0" x2="371.5" y2="404.5" stroke-width="3.5"/>
<line class="N1" x1="371.5" y1="404.5" x2="381.0" y2="404.0" stroke-width="3.5"/>
<line class="N2" x1="362.0" y1="405.0" x2="371.5" y2="404.5" stroke-width="1.7"/>
<line class="N2" x1="371.5" y1="404.5" x2="381.0" y2="404.0" stroke-width="1.7"/>
<line class="N0" x1="381.0" y1="404.0" x2="389.1" y2="403.7" stroke-width="5.2"/>
<line class="B0" x1="389.1" y1="403.7" x2="397.2" y2="403.4" stroke-width="5.2"/>
<line class="N1" x1="381.0" y1="404.0" x2="389.1" y2="403.7" stroke-width="3.5"/>
<line class="B1" x1="389.1" y1="403.7" x2="397.2" y2="403.4" stroke-width="3.5"/>
<line class="N2" x1="381.0" y1="404.0" x2="389.1" y2="403.7" stroke-width="1.7"/>
<line class="B2" x1="389.1" y1="403.7" x2="397.2" y2="403.4" stroke-width="1.7"/>
<line class="F0" x1="356.0" y1="418.0" x2="359.0" y2="411.5" stroke-width="4.4"/>
<line class="N0" x1="359.0" y1="411.5" x2="362.0" y2="405.0" stroke-width="4.4"/>
<line class="F1" x1="356.0" y1="418.0" x2="359.0" y2="411.5" stroke-width="3.0"/>
<line class="N1" x1="359.0" y1="411.5" x2="362.0" y2="405.0" stroke-width="3.0"/>
<line class="F2" x1="356.0" y1="418.0" x2="359.0" y2="411.5" stroke-width="1.4"/>
<line class="N2" x1="359.0" y1="411.5" x2="362.0" y2="405.0" stroke-width="1.4"/>
<line class="B0" x1="397.2" y1="403.4" x2="403.4" y2="402.1" stroke-width="5.2"/>
<line class="H0" x1="403.4" y1="402.1" x2="409.6" y2="400.9" stroke-width="5.2"/>
<line class="B1" x1="397.2" y1="403.4" x2="403.4" y2="402.1" stroke-width="3.5"/>
<line class="H1" x1="403.4" y1="402.1" x2="409.6" y2="400.9" stroke-width="3.5"/>
<line class="B2" x1="397.2" y1="403.4" x2="403.4" y2="402.1" stroke-width="1.7"/>
<line class="H2" x1="403.4" y1="402.1" x2="409.6" y2="400.9" stroke-width="1.7"/>
<line class="B0" x1="397.2" y1="403.4" x2="397.4" y2="414.9" stroke-width="5.2"/>
<line class="N0" x1="397.4" y1="414.9" x2="397.5" y2="426.5" stroke-width="5.2"/>
<line class="B1" x1="397.2" y1="403.4" x2="397.4" y2="414.9" stroke-width="3.5"/>
<line class="N1" x1="397.4" y1="414.9" x2="397.5" y2="426.5" stroke-width="3.5"/>
<line class="B2" x1="397.2" y1="403.4" x2="397.4" y2="414.9" stroke-width="1.7"/>
<line class="N2" x1="397.4" y1="414.9" x2="397.5" y2="426.5" stroke-width="1.7"/>
<line class="N0" x1="381.0" y1="432.7" x2="389.2" y2="429.6" stroke-width="5.2"/>
<line class="N0" x1="389.2" y1="429.6" x2="397.5" y2="426.5" stroke-width="5.2"/>
<line class="N1" x1="381.0" y1="432.7" x2="389.2" y2="429.6" stroke-width="3.5"/>
<line class="N1" x1="389.2" y1="429.6" x2="397.5" y2="426.5" stroke-width="3.5"/>
<line class="N2" x1="381.0" y1="432.7" x2="389.2" y2="429.6" stroke-width="1.7"/>
<line class="N2" x1="389.2" y1="429.6" x2="397.5" y2="426.5" stroke-width="1.7"/>
<line class="N0" x1="397.5" y1="426.5" x2="403.8" y2="432.2" stroke-width="5.2"/>
<line class="C0" x1="403.8" y1="432.2" x2="410.0" y2="438.0" stroke-width="5.2"/>
<line class="N1" x1="397.5" y1="426.5" x2="403.8" y2="432.2" stroke-width="3.5"/>
<line class="C1" x1="403.8" y1="432.2" x2="410.0" y2="438.0" stroke-width="3.5"/>
<line class="N2" x1="397.5" y1="426.5" x2="403.8" y2="432.2" stroke-width="1.7"/>
<line class="C2" x1="403.8" y1="432.2" x2="410.0" y2="438.0" stroke-width="1.7"/>
<line class="C0" x1="410.0" y1="438.0" x2="408.2" y2="447.8" stroke-width="5.2"/>
<line class="C0" x1="408.2" y1="447.8" x2="406.5" y2="457.5" stroke-width="5.2"/>
<line class="C1" x1="410.0" y1="438.0" x2="408.2" y2="447.8" stroke-width="3.5"/>
<line class="C1" x1="408.2" y1="447.8" x2="406.5" y2="457.5" stroke-width="3.5"/>
<line class="C2" x1="410.0" y1="438.0" x2="408.2" y2="447.8" stroke-width="1.7"/>
<line class="C2" x1="408.2" y1="447.8" x2="406.5" y2="457.5" stroke-width="1.7"/>
<line class="C0" x1="406.5" y1="457.5" x2="396.2" y2="455.6" stroke-width="5.8"/>
<line class="C0" x1="396.2" y1="455.6" x2="386.0" y2="453.7" stroke-width="5.8"/>
<line class="C1" x1="406.5" y1="457.5" x2="396.2" y2="455.6" stroke-width="3.9"/>
<line class="C1" x1="396.2" y1="455.6" x2="386.0" y2="453.7" stroke-width="3.9"/>
<line class="C2" x1="406.5" y1="457.5" x2="396.2" y2="455.6" stroke-width="1.9"/>
<line class="C2" x1="396.2" y1="455.6" x2="386.0" y2="453.7" stroke-width="1.9"/>
<line class="C0" x1="386.0" y1="453.7" x2="383.5" y2="443.2" stroke-width="5.2"/>
<line class="N0" x1="383.5" y1="443.2" x2="381.0" y2="432.7" stroke-width="5.2"/>
<line class="C1" x1="386.0" y1="453.7" x2="383.5" y2="443.2" stroke-width="3.5"/>
<line class="N1" x1="383.5" y1="443.2" x2="381.0" y2="432.7" stroke-width="3.5"/>
<line class="C2" x1="386.0" y1="453.7" x2="383.5" y2="443.2" stroke-width="1.7"/>
<line class="N2" x1="383.5" y1="443.2" x2="381.0" y2="432.7" stroke-width="1.7"/>
<line class="C0" x1="410.0" y1="438.0" x2="414.5" y2="437.4" stroke-width="5.2"/>
<line class="H0" x1="414.5" y1="437.4" x2="419.0" y2="436.8" stroke-width="5.2"/>
<line class="C1" x1="410.0" y1="438.0" x2="414.5" y2="437.4" stroke-width="3.5"/>
<line class="H1" x1="414.5" y1="437.4" x2="419.0" y2="436.8" stroke-width="3.5"/>
<line class="C2" x1="410.0" y1="438.0" x2="414.5" y2="437.4" stroke-width="1.7"/>
<line class="H2" x1="414.5" y1="437.4" x2="419.0" y2="436.8" stroke-width="1.7"/>
<line class="C0" x1="406.5" y1="457.5" x2="408.2" y2="462.7" stroke-width="5.2"/>
<line class="H0" x1="408.2" y1="462.7" x2="410.0" y2="467.9" stroke-width="5.2"/>
<line class="C1" x1="406.5" y1="457.5" x2="408.2" y2="462.7" stroke-width="3.5"/>
<line class="H1" x1="408.2" y1="462.7" x2="410.0" y2="467.9" stroke-width="3.5"/>
<line class="C2" x1="406.5" y1="457.5" x2="408.2" y2="462.7" stroke-width="1.7"/>
<line class="H2" x1="408.2" y1="462.7" x2="410.0" y2="467.9" stroke-width="1.7"/>
<line class="C0" x1="386.0" y1="453.7" x2="381.8" y2="457.9" stroke-width="5.2"/>
<line class="H0" x1="381.8" y1="457.9" x2="377.5" y2="462.0" stroke-width="5.2"/>
<line class="C1" x1="386.0" y1="453.7" x2="381.8" y2="457.9" stroke-width="3.5"/>
<line class="H1" x1="381.8" y1="457.9" x2="377.5" y2="462.0" stroke-width="3.5"/>
<line class="C2" x1="386.0" y1="453.7" x2="381.8" y2="457.9" stroke-width="1.7"/>
<line class="H2" x1="381.8" y1="457.9" x2="377.5" y2="462.0" stroke-width="1.7"/>
<line class="F0" x1="356.0" y1="418.0" x2="368.5" y2="425.4" stroke-width="4.4"/>
<line class="N0" x1="368.5" y1="425.4" x2="381.0" y2="432.7" stroke-width="4.4"/>
<line class="F1" x1="356.0" y1="418.0" x2="368.5" y2="425.4" stroke-width="3.0"/>
<line class="N1" x1="368.5" y1="425.4" x2="381.0" y2="432.7" stroke-width="3.0"/>
<line class="F2" x1="356.0" y1="418.0" x2="368.5" y2="425.4" stroke-width="1.4"/>
<line class="N2" x1="368.5" y1="425.4" x2="381.0" y2="432.7" stroke-width="1.4"/>
<line class="C0" x1="333.5" y1="438.5" x2="336.2" y2="449.6" stroke-width="5.2"/>
<line class="C0" x1="336.2" y1="449.6" x2="339.0" y2="460.7" stroke-width="5.2"/>
<line class="C1" x1="333.5" y1="438.5" x2="336.2" y2="449.6" stroke-width="3.5"/>
<line class="C1" x1="336.2" y1="449.6" x2="339.0" y2="460.7" stroke-width="3.5"/>
<line class="C2" x1="333.5" y1="438.5" x2="336.2" y2="449.6" stroke-width="1.7"/>
<line class="C2" x1="336.2" y1="449.6" x2="339.0" y2="460.7" stroke-width="1.7"/>
<line class="C0" x1="339.0" y1="460.7" x2="339.2" y2="468.9" stroke-width="5.2"/>
<line class="C0" x1="339.2" y1="468.9" x2="339.5" y2="477.0" stroke-width="5.2"/>
<line class="C1" x1="339.0" y1="460.7" x2="339.2" y2="468.9" stroke-width="3.5"/>
<line class="C1" x1="339.2" y1="468.9" x2="339.5" y2="477.0" stroke-width="3.5"/>
<line class="C2" x1="339.0" y1="460.7" x2="339.2" y2="468.9" stroke-width="1.7"/>
<line class="C2" x1="339.2" y1="468.9" x2="339.5" y2="477.0" stroke-width="1.7"/>
<line class="C0" x1="339.0" y1="460.7" x2="332.5" y2="461.8" stroke-width="5.2"/>
<line class="H0" x1="332.5" y1="461.8" x2="326.0" y2="462.8" stroke-width="5.2"/>
<line class="C1" x1="339.0" y1="460.7" x2="332.5" y2="461.8" stroke-width="3.5"/>
<line class="H1" x1="332.5" y1="461.8" x2="326.0" y2="462.8" stroke-width="3.5"/>
<line class="C2" x1="339.0" y1="460.7" x2="332.5" y2="461.8" stroke-width="1.7"/>
<line class="H2" x1="332.5" y1="461.8" x2="326.0" y2="462.8" stroke-width="1.7"/>
<line class="C0" x1="339.0" y1="460.7" x2="349.1" y2="460.7" stroke-width="5.2"/>
<line class="H0" x1="349.1" y1="460.7" x2="359.2" y2="460.7" stroke-width="5.2"/>
<line class="C1" x1="339.0" y1="460.7" x2="349.1" y2="460.7" stroke-width="3.5"/>
<line class="H1" x1="349.1" y1="460.7" x2="359.2" y2="460.7" stroke-width="3.5"/>
<line class="C2" x1="339.0" y1="460.7" x2="349.1" y2="460.7" stroke-width="1.7"/>
<line class="H2" x1="349.1" y1="460.7" x2="359.2" y2="460.7" stroke-width="1.7"/>
<line class="C0" x1="327.0" y1="430.0" x2="324.7" y2="427.2" stroke-width="5.2"/>
<line class="H0" x1="324.7" y1="427.2" x2="322.4" y2="424.5" stroke-width="5.2"/>
<line class="C1" x1="327.0" y1="430.0" x2="324.7" y2="427.2" stroke-width="3.5"/>
<line class="H1" x1="324.7" y1="427.2" x2="322.4" y2="424.5" stroke-width="3.5"/>
<line class="C2" x1="327.0" y1="430.0" x2="324.7" y2="427.2" stroke-width="1.7"/>
<line class="H2" x1="324.7" y1="427.2" x2="322.4" y2="424.5" stroke-width="1.7"/>
<line class="F0" x1="301.0" y1="412.8" x2="306.0" y2="419.6" stroke-width="3.8"/>
<line class="O0" x1="306.0" y1="419.6" x2="311.0" y2="426.4" stroke-width="3.8"/>
<line class="F1" x1="301.0" y1="412.8" x2="306.0" y2="419.6" stroke-width="2.6"/>
<line class="O1" x1="306.0" y1="419.6" x2="311.0" y2="426.4" stroke-width="2.6"/>
<line class="F2" x1="301.0" y1="412.8" x2="306.0" y2="419.6" stroke-width="1.2"/>
<line class="O2" x1="306.0" y1="419.6" x2="311.0" y2="426.4" stroke-width="1.2"/>
<line class="O0" x1="311.0" y1="426.4" x2="319.0" y2="428.2" stroke-width="3.8"/>
<line class="C0" x1="319.0" y1="428.2" x2="327.0" y2="430.0" stroke-width="3.8"/>
<line class="O1" x1="311.0" y1="426.4" x2="319.0" y2="428.2" stroke-width="2.6"/>
<line class="C1" x1="319.0" y1="428.2" x2="327.0" y2="430.0" stroke-width="2.6"/>
<line class="O2" x1="311.0" y1="426.4" x2="319.0" y2="428.2" stroke-width="1.2"/>
<line class="C2" x1="319.0" y1="428.2" x2="327.0" y2="430.0" stroke-width="1.2"/>
<line class="C0" x1="327.0" y1="430.0" x2="334.0" y2="430.0" stroke-width="3.8"/>
<line class="O0" x1="334.0" y1="430.0" x2="341.0" y2="430.0" stroke-width="3.8"/>
<line class="C1" x1="327.0" y1="430.0" x2="334.0" y2="430.0" stroke-width="2.6"/>
<line class="O1" x1="334.0" y1="430.0" x2="341.0" y2="430.0" stroke-width="2.6"/>
<line class="C2" x1="327.0" y1="430.0" x2="334.0" y2="430.0" stroke-width="1.2"/>
<line class="O2" x1="334.0" y1="430.0" x2="341.0" y2="430.0" stroke-width="1.2"/>
<line class="O0" x1="341.0" y1="430.0" x2="348.5" y2="424.0" stroke-width="3.8"/>
<line class="F0" x1="348.5" y1="424.0" x2="356.0" y2="418.0" stroke-width="3.8"/>
<line class="O1" x1="341.0" y1="430.0" x2="348.5" y2="424.0" stroke-width="2.6"/>
<line class="F1" x1="348.5" y1="424.0" x2="356.0" y2="418.0" stroke-width="2.6"/>
<line class="O2" x1="341.0" y1="430.0" x2="348.5" y2="424.0" stroke-width="1.2"/>
<line class="F2" x1="348.5" y1="424.0" x2="356.0" y2="418.0" stroke-width="1.2"/>
<line class="F0" x1="301.0" y1="412.8" x2="309.8" y2="424.2" stroke-width="3.8"/>
<line class="O0" x1="309.8" y1="424.2" x2="318.6" y2="435.7" stroke-width="3.8"/>
<line class="F1" x1="301.0" y1="412.8" x2="309.8" y2="424.2" stroke-width="2.6"/>
<line class="O1" x1="309.8" y1="424.2" x2="318.6" y2="435.7" stroke-width="2.6"/>
<line class="F2" x1="301.0" y1="412.8" x2="309.8" y2="424.2" stroke-width="1.2"/>
<line class="O2" x1="309.8" y1="424.2" x2="318.6" y2="435.7" stroke-width="1.2"/>
<line class="O0" x1="318.6" y1="435.7" x2="326.1" y2="437.1" stroke-width="3.8"/>
<line class="C0" x1="326.1" y1="437.1" x2="333.5" y2="438.5" stroke-width="3.8"/>
<line class="O1" x1="318.6" y1="435.7" x2="326.1" y2="437.1" stroke-width="2.6"/>
<line class="C1" x1="326.1" y1="437.1" x2="333.5" y2="438.5" stroke-width="2.6"/>
<line class="O2" x1="318.6" y1="435.7" x2="326.1" y2="437.1" stroke-width="1.2"/>
<line class="C2" x1="326.1" y1="437.1" x2="333.5" y2="438.5" stroke-width="1.2"/>
<line class="C0" x1="333.5" y1="438.5" x2="340.9" y2="433.4" stroke-width="3.8"/>
<line class="O0" x1="340.9" y1="433.4" x2="348.4" y2="428.3" stroke-width="3.8"/>
<line class="C1" x1="333.5" y1="438.5" x2="340.9" y2="433.4" stroke-width="2.6"/>
<line class="O1" x1="340.9" y1="433.4" x2="348.4" y2="428.3" stroke-width="2.6"/>
<line class="C2" x1="333.5" y1="438.5" x2="340.9" y2="433.4" stroke-width="1.2"/>
<line class="O2" x1="340.9" y1="433.4" x2="348.4" y2="428.3" stroke-width="1.2"/>
<line class="O0" x1="348.4" y1="428.3" x2="352.2" y2="423.1" stroke-width="3.8"/>
<line class="F0" x1="352.2" y1="423.1" x2="356.0" y2="418.0" stroke-width="3.8"/>
<line class="O1" x1="348.4" y1="428.3" x2="352.2" y2="423.1" stroke-width="2.6"/>
<line class="F1" x1="352.2" y1="423.1" x2="356.0" y2="418.0" stroke-width="2.6"/>
<line class="O2" x1="348.4" y1="428.3" x2="352.2" y2="423.1" stroke-width="1.2"/>
<line class="F2" x1="352.2" y1="423.1" x2="356.0" y2="418.0" stroke-width="1.2"/>
<line class="F0" x1="301.0" y1="412.8" x2="311.7" y2="402.9" stroke-width="3.8"/>
<line class="O0" x1="311.7" y1="402.9" x2="322.4" y2="393.0" stroke-width="3.8"/>
<line class="F1" x1="301.0" y1="412.8" x2="311.7" y2="402.9" stroke-width="2.6"/>
<line class="O1" x1="311.7" y1="402.9" x2="322.4" y2="393.0" stroke-width="2.6"/>
<line class="F2" x1="301.0" y1="412.8" x2="311.7" y2="402.9" stroke-width="1.2"/>
<line class="O2" x1="311.7" y1="402.9" x2="322.4" y2="393.0" stroke-width="1.2"/>
<line class="O0" x1="322.4" y1="393.0" x2="329.4" y2="393.9" stroke-width="3.8"/>
<line class="O0" x1="329.4" y1="393.9" x2="336.3" y2="394.7" stroke-width="3.8"/>
<line class="O1" x1="322.4" y1="393.0" x2="329.4" y2="393.9" stroke-width="2.6"/>
<line class="O1" x1="329.4" y1="393.9" x2="336.3" y2="394.7" stroke-width="2.6"/>
<line class="O2" x1="322.4" y1="393.0" x2="329.4" y2="393.9" stroke-width="1.2"/>
<line class="O2" x1="329.4" y1="393.9" x2="336.3" y2="394.7" stroke-width="1.2"/>
<line class="O0" x1="336.3" y1="394.7" x2="346.1" y2="406.4" stroke-width="3.8"/>
<line class="F0" x1="346.1" y1="406.4" x2="356.0" y2="418.0" stroke-width="3.8"/>
<line class="O1" x1="336.3" y1="394.7" x2="346.1" y2="406.4" stroke-width="2.6"/>
<line class="F1" x1="346.1" y1="406.4" x2="356.0" y2="418.0" stroke-width="2.6"/>
<line class="O2" x1="336.3" y1="394.7" x2="346.1" y2="406.4" stroke-width="1.2"/>
<line class="F2" x1="346.1" y1="406.4" x2="356.0" y2="418.0" stroke-width="1.2"/></g>
<text x="0" y="0" transform="translate(312,397.8) rotate(-43)" font-size="16.5" font-weight="bold" fill="#000" text-anchor="middle">1.95</text>
<text x="0" y="0" transform="translate(344,397.5) rotate(44)" font-size="16.5" font-weight="bold" fill="#000" text-anchor="middle">2.16</text><g stroke-linecap="round"><line class="C0" x1="478.9" y1="362.7" x2="468.1" y2="359.8" stroke-width="5.2"/>
<line class="H0" x1="468.1" y1="359.8" x2="457.3" y2="356.8" stroke-width="5.2"/>
<line class="C1" x1="478.9" y1="362.7" x2="468.1" y2="359.8" stroke-width="3.5"/>
<line class="H1" x1="468.1" y1="359.8" x2="457.3" y2="356.8" stroke-width="3.5"/>
<line class="C2" x1="478.9" y1="362.7" x2="468.1" y2="359.8" stroke-width="1.7"/>
<line class="H2" x1="468.1" y1="359.8" x2="457.3" y2="356.8" stroke-width="1.7"/>
<line class="C0" x1="478.9" y1="362.7" x2="480.9" y2="358.2" stroke-width="5.2"/>
<line class="H0" x1="480.9" y1="358.2" x2="482.9" y2="353.8" stroke-width="5.2"/>
<line class="C1" x1="478.9" y1="362.7" x2="480.9" y2="358.2" stroke-width="3.5"/>
<line class="H1" x1="480.9" y1="358.2" x2="482.9" y2="353.8" stroke-width="3.5"/>
<line class="C2" x1="478.9" y1="362.7" x2="480.9" y2="358.2" stroke-width="1.7"/>
<line class="H2" x1="480.9" y1="358.2" x2="482.9" y2="353.8" stroke-width="1.7"/>
<line class="C0" x1="478.9" y1="362.7" x2="485.4" y2="361.2" stroke-width="5.2"/>
<line class="H0" x1="485.4" y1="361.2" x2="492.0" y2="359.7" stroke-width="5.2"/>
<line class="C1" x1="478.9" y1="362.7" x2="485.4" y2="361.2" stroke-width="3.5"/>
<line class="H1" x1="485.4" y1="361.2" x2="492.0" y2="359.7" stroke-width="3.5"/>
<line class="C2" x1="478.9" y1="362.7" x2="485.4" y2="361.2" stroke-width="1.7"/>
<line class="H2" x1="485.4" y1="361.2" x2="492.0" y2="359.7" stroke-width="1.7"/>
<line class="C0" x1="478.9" y1="387.2" x2="478.9" y2="374.9" stroke-width="5.6"/>
<line class="C0" x1="478.9" y1="374.9" x2="478.9" y2="362.7" stroke-width="5.6"/>
<line class="C1" x1="478.9" y1="387.2" x2="478.9" y2="374.9" stroke-width="3.8"/>
<line class="C1" x1="478.9" y1="374.9" x2="478.9" y2="362.7" stroke-width="3.8"/>
<line class="C2" x1="478.9" y1="387.2" x2="478.9" y2="374.9" stroke-width="1.8"/>
<line class="C2" x1="478.9" y1="374.9" x2="478.9" y2="362.7" stroke-width="1.8"/>
<line class="C0" x1="452.4" y1="383.3" x2="448.9" y2="377.9" stroke-width="5.2"/>
<line class="H0" x1="448.9" y1="377.9" x2="445.5" y2="372.5" stroke-width="5.2"/>
<line class="C1" x1="452.4" y1="383.3" x2="448.9" y2="377.9" stroke-width="3.5"/>
<line class="H1" x1="448.9" y1="377.9" x2="445.5" y2="372.5" stroke-width="3.5"/>
<line class="C2" x1="452.4" y1="383.3" x2="448.9" y2="377.9" stroke-width="1.7"/>
<line class="H2" x1="448.9" y1="377.9" x2="445.5" y2="372.5" stroke-width="1.7"/>
<line class="C0" x1="470.1" y1="382.3" x2="472.1" y2="377.1" stroke-width="5.2"/>
<line class="H0" x1="472.1" y1="377.1" x2="474.0" y2="372.0" stroke-width="5.2"/>
<line class="C1" x1="470.1" y1="382.3" x2="472.1" y2="377.1" stroke-width="3.5"/>
<line class="H1" x1="472.1" y1="377.1" x2="474.0" y2="372.0" stroke-width="3.5"/>
<line class="C2" x1="470.1" y1="382.3" x2="472.1" y2="377.1" stroke-width="1.7"/>
<line class="H2" x1="472.1" y1="377.1" x2="474.0" y2="372.0" stroke-width="1.7"/>
<line class="C0" x1="451.4" y1="402.0" x2="446.0" y2="402.9" stroke-width="5.2"/>
<line class="H0" x1="446.0" y1="402.9" x2="440.6" y2="403.9" stroke-width="5.2"/>
<line class="C1" x1="451.4" y1="402.0" x2="446.0" y2="402.9" stroke-width="3.5"/>
<line class="H1" x1="446.0" y1="402.9" x2="440.6" y2="403.9" stroke-width="3.5"/>
<line class="C2" x1="451.4" y1="402.0" x2="446.0" y2="402.9" stroke-width="1.7"/>
<line class="H2" x1="446.0" y1="402.9" x2="440.6" y2="403.9" stroke-width="1.7"/>
<line class="N0" x1="475.0" y1="398.0" x2="469.6" y2="402.9" stroke-width="5.2"/>
<line class="N0" x1="469.6" y1="402.9" x2="464.2" y2="407.9" stroke-width="5.2"/>
<line class="N1" x1="475.0" y1="398.0" x2="469.6" y2="402.9" stroke-width="3.5"/>
<line class="N1" x1="469.6" y1="402.9" x2="464.2" y2="407.9" stroke-width="3.5"/>
<line class="N2" x1="475.0" y1="398.0" x2="469.6" y2="402.9" stroke-width="1.7"/>
<line class="N2" x1="469.6" y1="402.9" x2="464.2" y2="407.9" stroke-width="1.7"/>
<line class="N0" x1="464.2" y1="407.9" x2="457.8" y2="404.9" stroke-width="5.2"/>
<line class="C0" x1="457.8" y1="404.9" x2="451.4" y2="402.0" stroke-width="5.2"/>
<line class="N1" x1="464.2" y1="407.9" x2="457.8" y2="404.9" stroke-width="3.5"/>
<line class="C1" x1="457.8" y1="404.9" x2="451.4" y2="402.0" stroke-width="3.5"/>
<line class="N2" x1="464.2" y1="407.9" x2="457.8" y2="404.9" stroke-width="1.7"/>
<line class="C2" x1="457.8" y1="404.9" x2="451.4" y2="402.0" stroke-width="1.7"/>
<line class="C0" x1="451.4" y1="402.0" x2="451.9" y2="392.6" stroke-width="5.8"/>
<line class="C0" x1="451.9" y1="392.6" x2="452.4" y2="383.3" stroke-width="5.8"/>
<line class="C1" x1="451.4" y1="402.0" x2="451.9" y2="392.6" stroke-width="3.9"/>
<line class="C1" x1="451.9" y1="392.6" x2="452.4" y2="383.3" stroke-width="3.9"/>
<line class="C2" x1="451.4" y1="402.0" x2="451.9" y2="392.6" stroke-width="1.9"/>
<line class="C2" x1="451.9" y1="392.6" x2="452.4" y2="383.3" stroke-width="1.9"/>
<line class="C0" x1="452.4" y1="383.3" x2="461.2" y2="382.8" stroke-width="5.8"/>
<line class="C0" x1="461.2" y1="382.8" x2="470.1" y2="382.3" stroke-width="5.8"/>
<line class="C1" x1="452.4" y1="383.3" x2="461.2" y2="382.8" stroke-width="3.9"/>
<line class="C1" x1="461.2" y1="382.8" x2="470.1" y2="382.3" stroke-width="3.9"/>
<line class="C2" x1="452.4" y1="383.3" x2="461.2" y2="382.8" stroke-width="1.9"/>
<line class="C2" x1="461.2" y1="382.8" x2="470.1" y2="382.3" stroke-width="1.9"/>
<line class="C0" x1="470.1" y1="382.3" x2="472.6" y2="390.1" stroke-width="5.2"/>
<line class="N0" x1="472.6" y1="390.1" x2="475.0" y2="398.0" stroke-width="5.2"/>
<line class="C1" x1="470.1" y1="382.3" x2="472.6" y2="390.1" stroke-width="3.5"/>
<line class="N1" x1="472.6" y1="390.1" x2="475.0" y2="398.0" stroke-width="3.5"/>
<line class="C2" x1="470.1" y1="382.3" x2="472.6" y2="390.1" stroke-width="1.7"/>
<line class="N2" x1="472.6" y1="390.1" x2="475.0" y2="398.0" stroke-width="1.7"/>
<line class="O0" x1="493.7" y1="390.2" x2="486.3" y2="388.7" stroke-width="3.8"/>
<line class="C0" x1="486.3" y1="388.7" x2="478.9" y2="387.2" stroke-width="3.8"/>
<line class="O1" x1="493.7" y1="390.2" x2="486.3" y2="388.7" stroke-width="2.6"/>
<line class="C1" x1="486.3" y1="388.7" x2="478.9" y2="387.2" stroke-width="2.6"/>
<line class="O2" x1="493.7" y1="390.2" x2="486.3" y2="388.7" stroke-width="1.2"/>
<line class="C2" x1="486.3" y1="388.7" x2="478.9" y2="387.2" stroke-width="1.2"/>
<line class="C0" x1="478.9" y1="387.2" x2="471.0" y2="392.1" stroke-width="3.8"/>
<line class="O0" x1="471.0" y1="392.1" x2="463.2" y2="397.1" stroke-width="3.8"/>
<line class="C1" x1="478.9" y1="387.2" x2="471.0" y2="392.1" stroke-width="2.6"/>
<line class="O1" x1="471.0" y1="392.1" x2="463.2" y2="397.1" stroke-width="2.6"/>
<line class="C2" x1="478.9" y1="387.2" x2="471.0" y2="392.1" stroke-width="1.2"/>
<line class="O2" x1="471.0" y1="392.1" x2="463.2" y2="397.1" stroke-width="1.2"/>
<line class="C0" x1="478.9" y1="387.2" x2="471.9" y2="393.9" stroke-width="3.8"/>
<line class="O0" x1="471.9" y1="393.9" x2="465.0" y2="400.5" stroke-width="3.8"/>
<line class="C1" x1="478.9" y1="387.2" x2="471.9" y2="393.9" stroke-width="2.6"/>
<line class="O1" x1="471.9" y1="393.9" x2="465.0" y2="400.5" stroke-width="2.6"/>
<line class="C2" x1="478.9" y1="387.2" x2="471.9" y2="393.9" stroke-width="1.2"/>
<line class="O2" x1="471.9" y1="393.9" x2="465.0" y2="400.5" stroke-width="1.2"/>
<line class="N0" x1="475.0" y1="398.0" x2="488.2" y2="405.4" stroke-width="4.4"/>
<line class="F0" x1="488.2" y1="405.4" x2="501.5" y2="412.8" stroke-width="4.4"/>
<line class="N1" x1="475.0" y1="398.0" x2="488.2" y2="405.4" stroke-width="3.0"/>
<line class="F1" x1="488.2" y1="405.4" x2="501.5" y2="412.8" stroke-width="3.0"/>
<line class="N2" x1="475.0" y1="398.0" x2="488.2" y2="405.4" stroke-width="1.4"/>
<line class="F2" x1="488.2" y1="405.4" x2="501.5" y2="412.8" stroke-width="1.4"/>
<line class="O0" x1="493.7" y1="390.2" x2="497.6" y2="401.5" stroke-width="3.8"/>
<line class="F0" x1="497.6" y1="401.5" x2="501.5" y2="412.8" stroke-width="3.8"/>
<line class="O1" x1="493.7" y1="390.2" x2="497.6" y2="401.5" stroke-width="2.6"/>
<line class="F1" x1="497.6" y1="401.5" x2="501.5" y2="412.8" stroke-width="2.6"/>
<line class="O2" x1="493.7" y1="390.2" x2="497.6" y2="401.5" stroke-width="1.2"/>
<line class="F2" x1="497.6" y1="401.5" x2="501.5" y2="412.8" stroke-width="1.2"/>
<line class="N0" x1="464.2" y1="407.9" x2="465.7" y2="416.7" stroke-width="5.2"/>
<line class="B0" x1="465.7" y1="416.7" x2="467.2" y2="425.5" stroke-width="5.2"/>
<line class="N1" x1="464.2" y1="407.9" x2="465.7" y2="416.7" stroke-width="3.5"/>
<line class="B1" x1="465.7" y1="416.7" x2="467.2" y2="425.5" stroke-width="3.5"/>
<line class="N2" x1="464.2" y1="407.9" x2="465.7" y2="416.7" stroke-width="1.7"/>
<line class="B2" x1="465.7" y1="416.7" x2="467.2" y2="425.5" stroke-width="1.7"/>
<line class="B0" x1="467.2" y1="425.5" x2="461.6" y2="427.8" stroke-width="5.2"/>
<line class="H0" x1="461.6" y1="427.8" x2="456.0" y2="430.0" stroke-width="5.2"/>
<line class="B1" x1="467.2" y1="425.5" x2="461.6" y2="427.8" stroke-width="3.5"/>
<line class="H1" x1="461.6" y1="427.8" x2="456.0" y2="430.0" stroke-width="3.5"/>
<line class="B2" x1="467.2" y1="425.5" x2="461.6" y2="427.8" stroke-width="1.7"/>
<line class="H2" x1="461.6" y1="427.8" x2="456.0" y2="430.0" stroke-width="1.7"/>
<line class="B0" x1="467.2" y1="425.5" x2="466.2" y2="431.4" stroke-width="5.2"/>
<line class="N0" x1="466.2" y1="431.4" x2="465.2" y2="437.3" stroke-width="5.2"/>
<line class="B1" x1="467.2" y1="425.5" x2="466.2" y2="431.4" stroke-width="3.5"/>
<line class="N1" x1="466.2" y1="431.4" x2="465.2" y2="437.3" stroke-width="3.5"/>
<line class="B2" x1="467.2" y1="425.5" x2="466.2" y2="431.4" stroke-width="1.7"/>
<line class="N2" x1="466.2" y1="431.4" x2="465.2" y2="437.3" stroke-width="1.7"/>
<line class="N0" x1="465.2" y1="437.3" x2="472.6" y2="436.6" stroke-width="5.2"/>
<line class="N0" x1="472.6" y1="436.6" x2="480.0" y2="436.0" stroke-width="5.2"/>
<line class="N1" x1="465.2" y1="437.3" x2="472.6" y2="436.6" stroke-width="3.5"/>
<line class="N1" x1="472.6" y1="436.6" x2="480.0" y2="436.0" stroke-width="3.5"/>
<line class="N2" x1="465.2" y1="437.3" x2="472.6" y2="436.6" stroke-width="1.7"/>
<line class="N2" x1="472.6" y1="436.6" x2="480.0" y2="436.0" stroke-width="1.7"/>
<line class="N0" x1="480.0" y1="436.0" x2="479.0" y2="443.0" stroke-width="5.2"/>
<line class="C0" x1="479.0" y1="443.0" x2="478.0" y2="450.0" stroke-width="5.2"/>
<line class="N1" x1="480.0" y1="436.0" x2="479.0" y2="443.0" stroke-width="3.5"/>
<line class="C1" x1="479.0" y1="443.0" x2="478.0" y2="450.0" stroke-width="3.5"/>
<line class="N2" x1="480.0" y1="436.0" x2="479.0" y2="443.0" stroke-width="1.7"/>
<line class="C2" x1="479.0" y1="443.0" x2="478.0" y2="450.0" stroke-width="1.7"/>
<line class="C0" x1="478.0" y1="450.0" x2="469.0" y2="455.5" stroke-width="5.8"/>
<line class="C0" x1="469.0" y1="455.5" x2="460.0" y2="461.0" stroke-width="5.8"/>
<line class="C1" x1="478.0" y1="450.0" x2="469.0" y2="455.5" stroke-width="3.9"/>
<line class="C1" x1="469.0" y1="455.5" x2="460.0" y2="461.0" stroke-width="3.9"/>
<line class="C2" x1="478.0" y1="450.0" x2="469.0" y2="455.5" stroke-width="1.9"/>
<line class="C2" x1="469.0" y1="455.5" x2="460.0" y2="461.0" stroke-width="1.9"/>
<line class="C0" x1="460.0" y1="461.0" x2="456.0" y2="456.5" stroke-width="5.2"/>
<line class="C0" x1="456.0" y1="456.5" x2="452.0" y2="452.0" stroke-width="5.2"/>
<line class="C1" x1="460.0" y1="461.0" x2="456.0" y2="456.5" stroke-width="3.5"/>
<line class="C1" x1="456.0" y1="456.5" x2="452.0" y2="452.0" stroke-width="3.5"/>
<line class="C2" x1="460.0" y1="461.0" x2="456.0" y2="456.5" stroke-width="1.7"/>
<line class="C2" x1="456.0" y1="456.5" x2="452.0" y2="452.0" stroke-width="1.7"/>
<line class="C0" x1="452.0" y1="452.0" x2="458.6" y2="444.6" stroke-width="5.2"/>
<line class="N0" x1="458.6" y1="444.6" x2="465.2" y2="437.3" stroke-width="5.2"/>
<line class="C1" x1="452.0" y1="452.0" x2="458.6" y2="444.6" stroke-width="3.5"/>
<line class="N1" x1="458.6" y1="444.6" x2="465.2" y2="437.3" stroke-width="3.5"/>
<line class="C2" x1="452.0" y1="452.0" x2="458.6" y2="444.6" stroke-width="1.7"/>
<line class="N2" x1="458.6" y1="444.6" x2="465.2" y2="437.3" stroke-width="1.7"/>
<line class="C0" x1="478.0" y1="450.0" x2="482.0" y2="450.5" stroke-width="5.2"/>
<line class="H0" x1="482.0" y1="450.5" x2="486.0" y2="451.0" stroke-width="5.2"/>
<line class="C1" x1="478.0" y1="450.0" x2="482.0" y2="450.5" stroke-width="3.5"/>
<line class="H1" x1="482.0" y1="450.5" x2="486.0" y2="451.0" stroke-width="3.5"/>
<line class="C2" x1="478.0" y1="450.0" x2="482.0" y2="450.5" stroke-width="1.7"/>
<line class="H2" x1="482.0" y1="450.5" x2="486.0" y2="451.0" stroke-width="1.7"/>
<line class="C0" x1="460.0" y1="461.0" x2="456.7" y2="465.9" stroke-width="5.2"/>
<line class="H0" x1="456.7" y1="465.9" x2="453.4" y2="470.7" stroke-width="5.2"/>
<line class="C1" x1="460.0" y1="461.0" x2="456.7" y2="465.9" stroke-width="3.5"/>
<line class="H1" x1="456.7" y1="465.9" x2="453.4" y2="470.7" stroke-width="3.5"/>
<line class="C2" x1="460.0" y1="461.0" x2="456.7" y2="465.9" stroke-width="1.7"/>
<line class="H2" x1="456.7" y1="465.9" x2="453.4" y2="470.7" stroke-width="1.7"/>
<line class="C0" x1="452.0" y1="452.0" x2="448.0" y2="454.0" stroke-width="5.2"/>
<line class="H0" x1="448.0" y1="454.0" x2="444.0" y2="456.0" stroke-width="5.2"/>
<line class="C1" x1="452.0" y1="452.0" x2="448.0" y2="454.0" stroke-width="3.5"/>
<line class="H1" x1="448.0" y1="454.0" x2="444.0" y2="456.0" stroke-width="3.5"/>
<line class="C2" x1="452.0" y1="452.0" x2="448.0" y2="454.0" stroke-width="1.7"/>
<line class="H2" x1="448.0" y1="454.0" x2="444.0" y2="456.0" stroke-width="1.7"/>
<line class="N0" x1="480.0" y1="436.0" x2="490.8" y2="424.4" stroke-width="4.4"/>
<line class="F0" x1="490.8" y1="424.4" x2="501.5" y2="412.8" stroke-width="4.4"/>
<line class="N1" x1="480.0" y1="436.0" x2="490.8" y2="424.4" stroke-width="3.0"/>
<line class="F1" x1="490.8" y1="424.4" x2="501.5" y2="412.8" stroke-width="3.0"/>
<line class="N2" x1="480.0" y1="436.0" x2="490.8" y2="424.4" stroke-width="1.4"/>
<line class="F2" x1="490.8" y1="424.4" x2="501.5" y2="412.8" stroke-width="1.4"/>
<line class="B0" x1="467.2" y1="425.5" x2="473.0" y2="425.5" stroke-width="5.2"/>
<line class="N0" x1="473.0" y1="425.5" x2="478.9" y2="425.5" stroke-width="5.2"/>
<line class="B1" x1="467.2" y1="425.5" x2="473.0" y2="425.5" stroke-width="3.5"/>
<line class="N1" x1="473.0" y1="425.5" x2="478.9" y2="425.5" stroke-width="3.5"/>
<line class="B2" x1="467.2" y1="425.5" x2="473.0" y2="425.5" stroke-width="1.7"/>
<line class="N2" x1="473.0" y1="425.5" x2="478.9" y2="425.5" stroke-width="1.7"/>
<line class="N0" x1="478.9" y1="425.5" x2="484.4" y2="424.8" stroke-width="5.2"/>
<line class="N0" x1="484.4" y1="424.8" x2="490.0" y2="424.0" stroke-width="5.2"/>
<line class="N1" x1="478.9" y1="425.5" x2="484.4" y2="424.8" stroke-width="3.5"/>
<line class="N1" x1="484.4" y1="424.8" x2="490.0" y2="424.0" stroke-width="3.5"/>
<line class="N2" x1="478.9" y1="425.5" x2="484.4" y2="424.8" stroke-width="1.7"/>
<line class="N2" x1="484.4" y1="424.8" x2="490.0" y2="424.0" stroke-width="1.7"/>
<line class="N0" x1="490.0" y1="424.0" x2="495.8" y2="418.4" stroke-width="4.4"/>
<line class="F0" x1="495.8" y1="418.4" x2="501.5" y2="412.8" stroke-width="4.4"/>
<line class="N1" x1="490.0" y1="424.0" x2="495.8" y2="418.4" stroke-width="3.0"/>
<line class="F1" x1="495.8" y1="418.4" x2="501.5" y2="412.8" stroke-width="3.0"/>
<line class="N2" x1="490.0" y1="424.0" x2="495.8" y2="418.4" stroke-width="1.4"/>
<line class="F2" x1="495.8" y1="418.4" x2="501.5" y2="412.8" stroke-width="1.4"/>
<line class="C0" x1="491.0" y1="427.0" x2="502.5" y2="429.5" stroke-width="5.2"/>
<line class="C0" x1="502.5" y1="429.5" x2="514.0" y2="432.0" stroke-width="5.2"/>
<line class="C1" x1="491.0" y1="427.0" x2="502.5" y2="429.5" stroke-width="3.5"/>
<line class="C1" x1="502.5" y1="429.5" x2="514.0" y2="432.0" stroke-width="3.5"/>
<line class="C2" x1="491.0" y1="427.0" x2="502.5" y2="429.5" stroke-width="1.7"/>
<line class="C2" x1="502.5" y1="429.5" x2="514.0" y2="432.0" stroke-width="1.7"/>
<line class="C0" x1="560.3" y1="364.7" x2="557.3" y2="356.3" stroke-width="5.2"/>
<line class="H0" x1="557.3" y1="356.3" x2="554.4" y2="347.9" stroke-width="5.2"/>
<line class="C1" x1="560.3" y1="364.7" x2="557.3" y2="356.3" stroke-width="3.5"/>
<line class="H1" x1="557.3" y1="356.3" x2="554.4" y2="347.9" stroke-width="3.5"/>
<line class="C2" x1="560.3" y1="364.7" x2="557.3" y2="356.3" stroke-width="1.7"/>
<line class="H2" x1="557.3" y1="356.3" x2="554.4" y2="347.9" stroke-width="1.7"/>
<line class="C0" x1="582.9" y1="374.5" x2="592.2" y2="372.1" stroke-width="5.2"/>
<line class="H0" x1="592.2" y1="372.1" x2="601.5" y2="369.6" stroke-width="5.2"/>
<line class="C1" x1="582.9" y1="374.5" x2="592.2" y2="372.1" stroke-width="3.5"/>
<line class="H1" x1="592.2" y1="372.1" x2="601.5" y2="369.6" stroke-width="3.5"/>
<line class="C2" x1="582.9" y1="374.5" x2="592.2" y2="372.1" stroke-width="1.7"/>
<line class="H2" x1="592.2" y1="372.1" x2="601.5" y2="369.6" stroke-width="1.7"/>
<line class="C0" x1="545.5" y1="380.4" x2="537.1" y2="378.4" stroke-width="5.2"/>
<line class="H0" x1="537.1" y1="378.4" x2="528.8" y2="376.4" stroke-width="5.2"/>
<line class="C1" x1="545.5" y1="380.4" x2="537.1" y2="378.4" stroke-width="3.5"/>
<line class="H1" x1="537.1" y1="378.4" x2="528.8" y2="376.4" stroke-width="3.5"/>
<line class="C2" x1="545.5" y1="380.4" x2="537.1" y2="378.4" stroke-width="1.7"/>
<line class="H2" x1="537.1" y1="378.4" x2="528.8" y2="376.4" stroke-width="1.7"/>
<line class="N0" x1="556.4" y1="394.1" x2="567.7" y2="393.1" stroke-width="5.2"/>
<line class="N0" x1="567.7" y1="393.1" x2="579.0" y2="392.2" stroke-width="5.2"/>
<line class="N1" x1="556.4" y1="394.1" x2="567.7" y2="393.1" stroke-width="3.5"/>
<line class="N1" x1="567.7" y1="393.1" x2="579.0" y2="392.2" stroke-width="3.5"/>
<line class="N2" x1="556.4" y1="394.1" x2="567.7" y2="393.1" stroke-width="1.7"/>
<line class="N2" x1="567.7" y1="393.1" x2="579.0" y2="392.2" stroke-width="1.7"/>
<line class="N0" x1="579.0" y1="392.2" x2="581.0" y2="383.4" stroke-width="5.2"/>
<line class="C0" x1="581.0" y1="383.4" x2="582.9" y2="374.5" stroke-width="5.2"/>
<line class="N1" x1="579.0" y1="392.2" x2="581.0" y2="383.4" stroke-width="3.5"/>
<line class="C1" x1="581.0" y1="383.4" x2="582.9" y2="374.5" stroke-width="3.5"/>
<line class="N2" x1="579.0" y1="392.2" x2="581.0" y2="383.4" stroke-width="1.7"/>
<line class="C2" x1="581.0" y1="383.4" x2="582.9" y2="374.5" stroke-width="1.7"/>
<line class="C0" x1="582.9" y1="374.5" x2="571.6" y2="369.6" stroke-width="5.2"/>
<line class="C0" x1="571.6" y1="369.6" x2="560.3" y2="364.7" stroke-width="5.2"/>
<line class="C1" x1="582.9" y1="374.5" x2="571.6" y2="369.6" stroke-width="3.5"/>
<line class="C1" x1="571.6" y1="369.6" x2="560.3" y2="364.7" stroke-width="3.5"/>
<line class="C2" x1="582.9" y1="374.5" x2="571.6" y2="369.6" stroke-width="1.7"/>
<line class="C2" x1="571.6" y1="369.6" x2="560.3" y2="364.7" stroke-width="1.7"/>
<line class="K0" x1="560.3" y1="364.7" x2="552.9" y2="372.5" stroke-width="6.6"/>
<line class="K0" x1="552.9" y1="372.5" x2="545.5" y2="380.4" stroke-width="6.6"/>
<line class="K1" x1="560.3" y1="364.7" x2="552.9" y2="372.5" stroke-width="4.5"/>
<line class="K1" x1="552.9" y1="372.5" x2="545.5" y2="380.4" stroke-width="4.5"/>
<line class="K2" x1="560.3" y1="364.7" x2="552.9" y2="372.5" stroke-width="2.1"/>
<line class="K2" x1="552.9" y1="372.5" x2="545.5" y2="380.4" stroke-width="2.1"/>
<line class="C0" x1="545.5" y1="380.4" x2="551.0" y2="387.2" stroke-width="5.2"/>
<line class="N0" x1="551.0" y1="387.2" x2="556.4" y2="394.1" stroke-width="5.2"/>
<line class="C1" x1="545.5" y1="380.4" x2="551.0" y2="387.2" stroke-width="3.5"/>
<line class="N1" x1="551.0" y1="387.2" x2="556.4" y2="394.1" stroke-width="3.5"/>
<line class="C2" x1="545.5" y1="380.4" x2="551.0" y2="387.2" stroke-width="1.7"/>
<line class="N2" x1="551.0" y1="387.2" x2="556.4" y2="394.1" stroke-width="1.7"/>
<line class="N0" x1="556.4" y1="394.1" x2="552.0" y2="405.4" stroke-width="4.4"/>
<line class="F0" x1="552.0" y1="405.4" x2="547.5" y2="416.7" stroke-width="4.4"/>
<line class="N1" x1="556.4" y1="394.1" x2="552.0" y2="405.4" stroke-width="3.0"/>
<line class="F1" x1="552.0" y1="405.4" x2="547.5" y2="416.7" stroke-width="3.0"/>
<line class="N2" x1="556.4" y1="394.1" x2="552.0" y2="405.4" stroke-width="1.4"/>
<line class="F2" x1="552.0" y1="405.4" x2="547.5" y2="416.7" stroke-width="1.4"/>
<line class="N0" x1="579.0" y1="392.2" x2="585.9" y2="398.1" stroke-width="5.2"/>
<line class="B0" x1="585.9" y1="398.1" x2="592.7" y2="404.0" stroke-width="5.2"/>
<line class="N1" x1="579.0" y1="392.2" x2="585.9" y2="398.1" stroke-width="3.5"/>
<line class="B1" x1="585.9" y1="398.1" x2="592.7" y2="404.0" stroke-width="3.5"/>
<line class="N2" x1="579.0" y1="392.2" x2="585.9" y2="398.1" stroke-width="1.7"/>
<line class="B2" x1="585.9" y1="398.1" x2="592.7" y2="404.0" stroke-width="1.7"/>
<line class="C0" x1="569.1" y1="405.9" x2="596.6" y2="403.4" stroke-width="5.2"/>
<line class="H0" x1="596.6" y1="403.4" x2="624.1" y2="401.0" stroke-width="5.2"/>
<line class="C1" x1="569.1" y1="405.9" x2="596.6" y2="403.4" stroke-width="3.5"/>
<line class="H1" x1="596.6" y1="403.4" x2="624.1" y2="401.0" stroke-width="3.5"/>
<line class="C2" x1="569.1" y1="405.9" x2="596.6" y2="403.4" stroke-width="1.7"/>
<line class="H2" x1="596.6" y1="403.4" x2="624.1" y2="401.0" stroke-width="1.7"/>
<line class="C0" x1="570.0" y1="408.0" x2="593.0" y2="408.0" stroke-width="5.2"/>
<line class="H0" x1="593.0" y1="408.0" x2="616.0" y2="408.0" stroke-width="5.2"/>
<line class="C1" x1="570.0" y1="408.0" x2="593.0" y2="408.0" stroke-width="3.5"/>
<line class="H1" x1="593.0" y1="408.0" x2="616.0" y2="408.0" stroke-width="3.5"/>
<line class="C2" x1="570.0" y1="408.0" x2="593.0" y2="408.0" stroke-width="1.7"/>
<line class="H2" x1="593.0" y1="408.0" x2="616.0" y2="408.0" stroke-width="1.7"/>
<line class="F0" x1="547.5" y1="416.7" x2="560.8" y2="411.1" stroke-width="4.4"/>
<line class="N0" x1="560.8" y1="411.1" x2="574.0" y2="405.5" stroke-width="4.4"/>
<line class="F1" x1="547.5" y1="416.7" x2="560.8" y2="411.1" stroke-width="3.0"/>
<line class="N1" x1="560.8" y1="411.1" x2="574.0" y2="405.5" stroke-width="3.0"/>
<line class="F2" x1="547.5" y1="416.7" x2="560.8" y2="411.1" stroke-width="1.4"/>
<line class="N2" x1="560.8" y1="411.1" x2="574.0" y2="405.5" stroke-width="1.4"/>
<line class="N0" x1="574.0" y1="405.5" x2="580.0" y2="404.8" stroke-width="5.2"/>
<line class="N0" x1="580.0" y1="404.8" x2="586.0" y2="404.0" stroke-width="5.2"/>
<line class="N1" x1="574.0" y1="405.5" x2="580.0" y2="404.8" stroke-width="3.5"/>
<line class="N1" x1="580.0" y1="404.8" x2="586.0" y2="404.0" stroke-width="3.5"/>
<line class="N2" x1="574.0" y1="405.5" x2="580.0" y2="404.8" stroke-width="1.7"/>
<line class="N2" x1="580.0" y1="404.8" x2="586.0" y2="404.0" stroke-width="1.7"/>
<line class="N0" x1="586.0" y1="404.0" x2="589.4" y2="404.0" stroke-width="5.2"/>
<line class="B0" x1="589.4" y1="404.0" x2="592.7" y2="404.0" stroke-width="5.2"/>
<line class="N1" x1="586.0" y1="404.0" x2="589.4" y2="404.0" stroke-width="3.5"/>
<line class="B1" x1="589.4" y1="404.0" x2="592.7" y2="404.0" stroke-width="3.5"/>
<line class="N2" x1="586.0" y1="404.0" x2="589.4" y2="404.0" stroke-width="1.7"/>
<line class="B2" x1="589.4" y1="404.0" x2="592.7" y2="404.0" stroke-width="1.7"/>
<line class="B0" x1="592.7" y1="404.0" x2="590.8" y2="416.8" stroke-width="5.2"/>
<line class="N0" x1="590.8" y1="416.8" x2="588.8" y2="429.5" stroke-width="5.2"/>
<line class="B1" x1="592.7" y1="404.0" x2="590.8" y2="416.8" stroke-width="3.5"/>
<line class="N1" x1="590.8" y1="416.8" x2="588.8" y2="429.5" stroke-width="3.5"/>
<line class="B2" x1="592.7" y1="404.0" x2="590.8" y2="416.8" stroke-width="1.7"/>
<line class="N2" x1="590.8" y1="416.8" x2="588.8" y2="429.5" stroke-width="1.7"/>
<line class="N0" x1="565.2" y1="435.4" x2="577.0" y2="432.4" stroke-width="5.2"/>
<line class="N0" x1="577.0" y1="432.4" x2="588.8" y2="429.5" stroke-width="5.2"/>
<line class="N1" x1="565.2" y1="435.4" x2="577.0" y2="432.4" stroke-width="3.5"/>
<line class="N1" x1="577.0" y1="432.4" x2="588.8" y2="429.5" stroke-width="3.5"/>
<line class="N2" x1="565.2" y1="435.4" x2="577.0" y2="432.4" stroke-width="1.7"/>
<line class="N2" x1="577.0" y1="432.4" x2="588.8" y2="429.5" stroke-width="1.7"/>
<line class="N0" x1="588.8" y1="429.5" x2="592.2" y2="438.4" stroke-width="5.2"/>
<line class="C0" x1="592.2" y1="438.4" x2="595.7" y2="447.2" stroke-width="5.2"/>
<line class="N1" x1="588.8" y1="429.5" x2="592.2" y2="438.4" stroke-width="3.5"/>
<line class="C1" x1="592.2" y1="438.4" x2="595.7" y2="447.2" stroke-width="3.5"/>
<line class="N2" x1="588.8" y1="429.5" x2="592.2" y2="438.4" stroke-width="1.7"/>
<line class="C2" x1="592.2" y1="438.4" x2="595.7" y2="447.2" stroke-width="1.7"/>
<line class="C0" x1="595.7" y1="447.2" x2="589.3" y2="455.0" stroke-width="5.2"/>
<line class="C0" x1="589.3" y1="455.0" x2="582.9" y2="462.9" stroke-width="5.2"/>
<line class="C1" x1="595.7" y1="447.2" x2="589.3" y2="455.0" stroke-width="3.5"/>
<line class="C1" x1="589.3" y1="455.0" x2="582.9" y2="462.9" stroke-width="3.5"/>
<line class="C2" x1="595.7" y1="447.2" x2="589.3" y2="455.0" stroke-width="1.7"/>
<line class="C2" x1="589.3" y1="455.0" x2="582.9" y2="462.9" stroke-width="1.7"/>
<line class="C0" x1="582.9" y1="462.9" x2="572.1" y2="459.4" stroke-width="5.8"/>
<line class="C0" x1="572.1" y1="459.4" x2="561.3" y2="456.0" stroke-width="5.8"/>
<line class="C1" x1="582.9" y1="462.9" x2="572.1" y2="459.4" stroke-width="3.9"/>
<line class="C1" x1="572.1" y1="459.4" x2="561.3" y2="456.0" stroke-width="3.9"/>
<line class="C2" x1="582.9" y1="462.9" x2="572.1" y2="459.4" stroke-width="1.9"/>
<line class="C2" x1="572.1" y1="459.4" x2="561.3" y2="456.0" stroke-width="1.9"/>
<line class="C0" x1="561.3" y1="456.0" x2="563.2" y2="445.7" stroke-width="5.2"/>
<line class="N0" x1="563.2" y1="445.7" x2="565.2" y2="435.4" stroke-width="5.2"/>
<line class="C1" x1="561.3" y1="456.0" x2="563.2" y2="445.7" stroke-width="3.5"/>
<line class="N1" x1="563.2" y1="445.7" x2="565.2" y2="435.4" stroke-width="3.5"/>
<line class="C2" x1="561.3" y1="456.0" x2="563.2" y2="445.7" stroke-width="1.7"/>
<line class="N2" x1="563.2" y1="445.7" x2="565.2" y2="435.4" stroke-width="1.7"/>
<line class="C0" x1="595.7" y1="447.2" x2="606.0" y2="447.2" stroke-width="5.2"/>
<line class="H0" x1="606.0" y1="447.2" x2="616.3" y2="447.2" stroke-width="5.2"/>
<line class="C1" x1="595.7" y1="447.2" x2="606.0" y2="447.2" stroke-width="3.5"/>
<line class="H1" x1="606.0" y1="447.2" x2="616.3" y2="447.2" stroke-width="3.5"/>
<line class="C2" x1="595.7" y1="447.2" x2="606.0" y2="447.2" stroke-width="1.7"/>
<line class="H2" x1="606.0" y1="447.2" x2="616.3" y2="447.2" stroke-width="1.7"/>
<line class="C0" x1="582.9" y1="462.9" x2="582.9" y2="468.8" stroke-width="5.2"/>
<line class="H0" x1="582.9" y1="468.8" x2="582.9" y2="474.7" stroke-width="5.2"/>
<line class="C1" x1="582.9" y1="462.9" x2="582.9" y2="468.8" stroke-width="3.5"/>
<line class="H1" x1="582.9" y1="468.8" x2="582.9" y2="474.7" stroke-width="3.5"/>
<line class="C2" x1="582.9" y1="462.9" x2="582.9" y2="468.8" stroke-width="1.7"/>
<line class="H2" x1="582.9" y1="468.8" x2="582.9" y2="474.7" stroke-width="1.7"/>
<line class="C0" x1="561.3" y1="456.0" x2="554.9" y2="457.5" stroke-width="5.2"/>
<line class="H0" x1="554.9" y1="457.5" x2="548.5" y2="459.0" stroke-width="5.2"/>
<line class="C1" x1="561.3" y1="456.0" x2="554.9" y2="457.5" stroke-width="3.5"/>
<line class="H1" x1="554.9" y1="457.5" x2="548.5" y2="459.0" stroke-width="3.5"/>
<line class="C2" x1="561.3" y1="456.0" x2="554.9" y2="457.5" stroke-width="1.7"/>
<line class="H2" x1="554.9" y1="457.5" x2="548.5" y2="459.0" stroke-width="1.7"/>
<line class="F0" x1="547.5" y1="416.7" x2="556.4" y2="426.0" stroke-width="4.4"/>
<line class="N0" x1="556.4" y1="426.0" x2="565.2" y2="435.4" stroke-width="4.4"/>
<line class="F1" x1="547.5" y1="416.7" x2="556.4" y2="426.0" stroke-width="3.0"/>
<line class="N1" x1="556.4" y1="426.0" x2="565.2" y2="435.4" stroke-width="3.0"/>
<line class="F2" x1="547.5" y1="416.7" x2="556.4" y2="426.0" stroke-width="1.4"/>
<line class="N2" x1="556.4" y1="426.0" x2="565.2" y2="435.4" stroke-width="1.4"/>
<line class="C0" x1="558.0" y1="443.0" x2="549.8" y2="442.1" stroke-width="5.2"/>
<line class="H0" x1="549.8" y1="442.1" x2="541.6" y2="441.3" stroke-width="5.2"/>
<line class="C1" x1="558.0" y1="443.0" x2="549.8" y2="442.1" stroke-width="3.5"/>
<line class="H1" x1="549.8" y1="442.1" x2="541.6" y2="441.3" stroke-width="3.5"/>
<line class="C2" x1="558.0" y1="443.0" x2="549.8" y2="442.1" stroke-width="1.7"/>
<line class="H2" x1="549.8" y1="442.1" x2="541.6" y2="441.3" stroke-width="1.7"/>
<line class="F0" x1="547.5" y1="416.7" x2="551.0" y2="427.0" stroke-width="3.8"/>
<line class="O0" x1="551.0" y1="427.0" x2="554.4" y2="437.4" stroke-width="3.8"/>
<line class="F1" x1="547.5" y1="416.7" x2="551.0" y2="427.0" stroke-width="2.6"/>
<line class="O1" x1="551.0" y1="427.0" x2="554.4" y2="437.4" stroke-width="2.6"/>
<line class="F2" x1="547.5" y1="416.7" x2="551.0" y2="427.0" stroke-width="1.2"/>
<line class="O2" x1="551.0" y1="427.0" x2="554.4" y2="437.4" stroke-width="1.2"/>
<line class="O0" x1="554.4" y1="437.4" x2="563.7" y2="441.8" stroke-width="3.8"/>
<line class="O0" x1="563.7" y1="441.8" x2="573.0" y2="446.2" stroke-width="3.8"/>
<line class="O1" x1="554.4" y1="437.4" x2="563.7" y2="441.8" stroke-width="2.6"/>
<line class="O1" x1="563.7" y1="441.8" x2="573.0" y2="446.2" stroke-width="2.6"/>
<line class="O2" x1="554.4" y1="437.4" x2="563.7" y2="441.8" stroke-width="1.2"/>
<line class="O2" x1="563.7" y1="441.8" x2="573.0" y2="446.2" stroke-width="1.2"/>
<line class="F0" x1="501.5" y1="412.8" x2="510.9" y2="402.5" stroke-width="3.8"/>
<line class="O0" x1="510.9" y1="402.5" x2="520.2" y2="392.2" stroke-width="3.8"/>
<line class="F1" x1="501.5" y1="412.8" x2="510.9" y2="402.5" stroke-width="2.6"/>
<line class="O1" x1="510.9" y1="402.5" x2="520.2" y2="392.2" stroke-width="2.6"/>
<line class="F2" x1="501.5" y1="412.8" x2="510.9" y2="402.5" stroke-width="1.2"/>
<line class="O2" x1="510.9" y1="402.5" x2="520.2" y2="392.2" stroke-width="1.2"/>
<line class="O0" x1="520.2" y1="392.2" x2="523.6" y2="392.4" stroke-width="3.8"/>
<line class="O0" x1="523.6" y1="392.4" x2="527.0" y2="392.5" stroke-width="3.8"/>
<line class="O1" x1="520.2" y1="392.2" x2="523.6" y2="392.4" stroke-width="2.6"/>
<line class="O1" x1="523.6" y1="392.4" x2="527.0" y2="392.5" stroke-width="2.6"/>
<line class="O2" x1="520.2" y1="392.2" x2="523.6" y2="392.4" stroke-width="1.2"/>
<line class="O2" x1="523.6" y1="392.4" x2="527.0" y2="392.5" stroke-width="1.2"/>
<line class="O0" x1="527.0" y1="392.5" x2="537.2" y2="404.6" stroke-width="3.8"/>
<line class="F0" x1="537.2" y1="404.6" x2="547.5" y2="416.7" stroke-width="3.8"/>
<line class="O1" x1="527.0" y1="392.5" x2="537.2" y2="404.6" stroke-width="2.6"/>
<line class="F1" x1="537.2" y1="404.6" x2="547.5" y2="416.7" stroke-width="2.6"/>
<line class="O2" x1="527.0" y1="392.5" x2="537.2" y2="404.6" stroke-width="1.2"/>
<line class="F2" x1="537.2" y1="404.6" x2="547.5" y2="416.7" stroke-width="1.2"/>
<line class="O0" x1="527.0" y1="392.5" x2="522.5" y2="387.8" stroke-width="3.8"/>
<line class="H0" x1="522.5" y1="387.8" x2="518.0" y2="383.0" stroke-width="3.8"/>
<line class="O1" x1="527.0" y1="392.5" x2="522.5" y2="387.8" stroke-width="2.6"/>
<line class="H1" x1="522.5" y1="387.8" x2="518.0" y2="383.0" stroke-width="2.6"/>
<line class="O2" x1="527.0" y1="392.5" x2="522.5" y2="387.8" stroke-width="1.2"/>
<line class="H2" x1="522.5" y1="387.8" x2="518.0" y2="383.0" stroke-width="1.2"/>
<line class="F0" x1="501.5" y1="412.8" x2="512.0" y2="416.9" stroke-width="3.8"/>
<line class="O0" x1="512.0" y1="416.9" x2="522.5" y2="421.0" stroke-width="3.8"/>
<line class="F1" x1="501.5" y1="412.8" x2="512.0" y2="416.9" stroke-width="2.6"/>
<line class="O1" x1="512.0" y1="416.9" x2="522.5" y2="421.0" stroke-width="2.6"/>
<line class="F2" x1="501.5" y1="412.8" x2="512.0" y2="416.9" stroke-width="1.2"/>
<line class="O2" x1="512.0" y1="416.9" x2="522.5" y2="421.0" stroke-width="1.2"/>
<line class="O0" x1="522.5" y1="421.0" x2="535.0" y2="418.9" stroke-width="3.8"/>
<line class="F0" x1="535.0" y1="418.9" x2="547.5" y2="416.7" stroke-width="3.8"/>
<line class="O1" x1="522.5" y1="421.0" x2="535.0" y2="418.9" stroke-width="2.6"/>
<line class="F1" x1="535.0" y1="418.9" x2="547.5" y2="416.7" stroke-width="2.6"/>
<line class="O2" x1="522.5" y1="421.0" x2="535.0" y2="418.9" stroke-width="1.2"/>
<line class="F2" x1="535.0" y1="418.9" x2="547.5" y2="416.7" stroke-width="1.2"/></g>
<text x="0" y="0" transform="translate(506.2,397.2) rotate(-43)" font-size="16.5" font-weight="bold" fill="#000" text-anchor="middle">2.26</text>
<text x="0" y="0" transform="translate(531,401.8) rotate(58)" font-size="16.5" font-weight="bold" fill="#000" text-anchor="middle">2.01</text>
<text x="0" y="0" transform="translate(505,446) rotate(29)" font-size="16.5" font-weight="bold" fill="#000" text-anchor="middle">1.80</text>
<text x="0" y="0" transform="translate(537,435) rotate(-17)" font-size="16.5" font-weight="bold" fill="#000" text-anchor="middle">1.83</text><g stroke-linecap="round"><line class="H0" x1="38.8" y1="563.0" x2="51.4" y2="563.0" stroke-width="5.2"/>
<line class="C0" x1="51.4" y1="563.0" x2="64.0" y2="563.0" stroke-width="5.2"/>
<line class="H1" x1="38.8" y1="563.0" x2="51.4" y2="563.0" stroke-width="3.5"/>
<line class="C1" x1="51.4" y1="563.0" x2="64.0" y2="563.0" stroke-width="3.5"/>
<line class="H2" x1="38.8" y1="563.0" x2="51.4" y2="563.0" stroke-width="1.7"/>
<line class="C2" x1="51.4" y1="563.0" x2="64.0" y2="563.0" stroke-width="1.7"/>
<line class="C0" x1="64.0" y1="563.0" x2="83.5" y2="569.5" stroke-width="5.2"/>
<line class="H0" x1="83.5" y1="569.5" x2="103.0" y2="576.0" stroke-width="5.2"/>
<line class="C1" x1="64.0" y1="563.0" x2="83.5" y2="569.5" stroke-width="3.5"/>
<line class="H1" x1="83.5" y1="569.5" x2="103.0" y2="576.0" stroke-width="3.5"/>
<line class="C2" x1="64.0" y1="563.0" x2="83.5" y2="569.5" stroke-width="1.7"/>
<line class="H2" x1="83.5" y1="569.5" x2="103.0" y2="576.0" stroke-width="1.7"/>
<line class="N0" x1="48.0" y1="572.0" x2="67.0" y2="573.5" stroke-width="5.2"/>
<line class="N0" x1="67.0" y1="573.5" x2="86.0" y2="575.0" stroke-width="5.2"/>
<line class="N1" x1="48.0" y1="572.0" x2="67.0" y2="573.5" stroke-width="3.5"/>
<line class="N1" x1="67.0" y1="573.5" x2="86.0" y2="575.0" stroke-width="3.5"/>
<line class="N2" x1="48.0" y1="572.0" x2="67.0" y2="573.5" stroke-width="1.7"/>
<line class="N2" x1="67.0" y1="573.5" x2="86.0" y2="575.0" stroke-width="1.7"/>
<line class="C0" x1="41.8" y1="549.7" x2="46.4" y2="559.4" stroke-width="5.2"/>
<line class="N0" x1="46.4" y1="559.4" x2="51.0" y2="569.1" stroke-width="5.2"/>
<line class="C1" x1="41.8" y1="549.7" x2="46.4" y2="559.4" stroke-width="3.5"/>
<line class="N1" x1="46.4" y1="559.4" x2="51.0" y2="569.1" stroke-width="3.5"/>
<line class="C2" x1="41.8" y1="549.7" x2="46.4" y2="559.4" stroke-width="1.7"/>
<line class="N2" x1="46.4" y1="559.4" x2="51.0" y2="569.1" stroke-width="1.7"/>
<line class="N0" x1="51.0" y1="569.1" x2="63.8" y2="572.7" stroke-width="5.2"/>
<line class="N0" x1="63.8" y1="572.7" x2="76.5" y2="576.2" stroke-width="5.2"/>
<line class="N1" x1="51.0" y1="569.1" x2="63.8" y2="572.7" stroke-width="3.5"/>
<line class="N1" x1="63.8" y1="572.7" x2="76.5" y2="576.2" stroke-width="3.5"/>
<line class="N2" x1="51.0" y1="569.1" x2="63.8" y2="572.7" stroke-width="1.7"/>
<line class="N2" x1="63.8" y1="572.7" x2="76.5" y2="576.2" stroke-width="1.7"/>
<line class="K0" x1="76.5" y1="576.2" x2="81.1" y2="567.5" stroke-width="5.8"/>
<line class="K0" x1="81.1" y1="567.5" x2="85.7" y2="558.9" stroke-width="5.8"/>
<line class="K1" x1="76.5" y1="576.2" x2="81.1" y2="567.5" stroke-width="3.9"/>
<line class="K1" x1="81.1" y1="567.5" x2="85.7" y2="558.9" stroke-width="3.9"/>
<line class="K2" x1="76.5" y1="576.2" x2="81.1" y2="567.5" stroke-width="1.9"/>
<line class="K2" x1="81.1" y1="567.5" x2="85.7" y2="558.9" stroke-width="1.9"/>
<line class="C0" x1="41.8" y1="549.7" x2="31.1" y2="546.2" stroke-width="5.2"/>
<line class="H0" x1="31.1" y1="546.2" x2="20.4" y2="542.6" stroke-width="5.2"/>
<line class="C1" x1="41.8" y1="549.7" x2="31.1" y2="546.2" stroke-width="3.5"/>
<line class="H1" x1="31.1" y1="546.2" x2="20.4" y2="542.6" stroke-width="3.5"/>
<line class="C2" x1="41.8" y1="549.7" x2="31.1" y2="546.2" stroke-width="1.7"/>
<line class="H2" x1="31.1" y1="546.2" x2="20.4" y2="542.6" stroke-width="1.7"/>
<line class="C0" x1="60.2" y1="543.6" x2="60.2" y2="533.9" stroke-width="5.2"/>
<line class="H0" x1="60.2" y1="533.9" x2="60.2" y2="524.2" stroke-width="5.2"/>
<line class="C1" x1="60.2" y1="543.6" x2="60.2" y2="533.9" stroke-width="3.5"/>
<line class="H1" x1="60.2" y1="533.9" x2="60.2" y2="524.2" stroke-width="3.5"/>
<line class="C2" x1="60.2" y1="543.6" x2="60.2" y2="533.9" stroke-width="1.7"/>
<line class="H2" x1="60.2" y1="533.9" x2="60.2" y2="524.2" stroke-width="1.7"/>
<line class="C0" x1="85.7" y1="558.9" x2="93.8" y2="558.9" stroke-width="5.2"/>
<line class="H0" x1="93.8" y1="558.9" x2="102.0" y2="558.9" stroke-width="5.2"/>
<line class="C1" x1="85.7" y1="558.9" x2="93.8" y2="558.9" stroke-width="3.5"/>
<line class="H1" x1="93.8" y1="558.9" x2="102.0" y2="558.9" stroke-width="3.5"/>
<line class="C2" x1="85.7" y1="558.9" x2="93.8" y2="558.9" stroke-width="1.7"/>
<line class="H2" x1="93.8" y1="558.9" x2="102.0" y2="558.9" stroke-width="1.7"/>
<line class="K0" x1="51.0" y1="569.1" x2="46.4" y2="573.7" stroke-width="5.6"/>
<line class="K0" x1="46.4" y1="573.7" x2="41.8" y2="578.3" stroke-width="5.6"/>
<line class="K1" x1="51.0" y1="569.1" x2="46.4" y2="573.7" stroke-width="3.8"/>
<line class="K1" x1="46.4" y1="573.7" x2="41.8" y2="578.3" stroke-width="3.8"/>
<line class="K2" x1="51.0" y1="569.1" x2="46.4" y2="573.7" stroke-width="1.8"/>
<line class="K2" x1="46.4" y1="573.7" x2="41.8" y2="578.3" stroke-width="1.8"/>
<line class="B0" x1="41.8" y1="578.3" x2="32.6" y2="574.7" stroke-width="5.2"/>
<line class="H0" x1="32.6" y1="574.7" x2="23.5" y2="571.1" stroke-width="5.2"/>
<line class="B1" x1="41.8" y1="578.3" x2="32.6" y2="574.7" stroke-width="3.5"/>
<line class="H1" x1="32.6" y1="574.7" x2="23.5" y2="571.1" stroke-width="3.5"/>
<line class="B2" x1="41.8" y1="578.3" x2="32.6" y2="574.7" stroke-width="1.7"/>
<line class="H2" x1="32.6" y1="574.7" x2="23.5" y2="571.1" stroke-width="1.7"/>
<line class="B0" x1="41.8" y1="578.3" x2="41.8" y2="590.0" stroke-width="5.2"/>
<line class="N0" x1="41.8" y1="590.0" x2="41.8" y2="601.7" stroke-width="5.2"/>
<line class="B1" x1="41.8" y1="578.3" x2="41.8" y2="590.0" stroke-width="3.5"/>
<line class="N1" x1="41.8" y1="590.0" x2="41.8" y2="601.7" stroke-width="3.5"/>
<line class="B2" x1="41.8" y1="578.3" x2="41.8" y2="590.0" stroke-width="1.7"/>
<line class="N2" x1="41.8" y1="590.0" x2="41.8" y2="601.7" stroke-width="1.7"/>
<line class="K0" x1="41.8" y1="549.7" x2="51.0" y2="546.7" stroke-width="6.2"/>
<line class="K0" x1="51.0" y1="546.7" x2="60.2" y2="543.6" stroke-width="6.2"/>
<line class="K1" x1="41.8" y1="549.7" x2="51.0" y2="546.7" stroke-width="4.2"/>
<line class="K1" x1="51.0" y1="546.7" x2="60.2" y2="543.6" stroke-width="4.2"/>
<line class="K2" x1="41.8" y1="549.7" x2="51.0" y2="546.7" stroke-width="2.0"/>
<line class="K2" x1="51.0" y1="546.7" x2="60.2" y2="543.6" stroke-width="2.0"/>
<line class="C0" x1="60.2" y1="543.6" x2="73.0" y2="551.2" stroke-width="7.8"/>
<line class="C0" x1="73.0" y1="551.2" x2="85.7" y2="558.9" stroke-width="7.8"/>
<line class="C1" x1="60.2" y1="543.6" x2="73.0" y2="551.2" stroke-width="5.3"/>
<line class="C1" x1="73.0" y1="551.2" x2="85.7" y2="558.9" stroke-width="5.3"/>
<line class="C2" x1="60.2" y1="543.6" x2="73.0" y2="551.2" stroke-width="2.5"/>
<line class="C2" x1="73.0" y1="551.2" x2="85.7" y2="558.9" stroke-width="2.5"/>
<line class="N0" x1="76.5" y1="576.2" x2="83.2" y2="585.4" stroke-width="4.4"/>
<line class="F0" x1="83.2" y1="585.4" x2="89.8" y2="594.6" stroke-width="4.4"/>
<line class="N1" x1="76.5" y1="576.2" x2="83.2" y2="585.4" stroke-width="3.0"/>
<line class="F1" x1="83.2" y1="585.4" x2="89.8" y2="594.6" stroke-width="3.0"/>
<line class="N2" x1="76.5" y1="576.2" x2="83.2" y2="585.4" stroke-width="1.4"/>
<line class="F2" x1="83.2" y1="585.4" x2="89.8" y2="594.6" stroke-width="1.4"/>
<line class="N0" x1="86.0" y1="575.0" x2="87.9" y2="584.8" stroke-width="4.4"/>
<line class="F0" x1="87.9" y1="584.8" x2="89.8" y2="594.6" stroke-width="4.4"/>
<line class="N1" x1="86.0" y1="575.0" x2="87.9" y2="584.8" stroke-width="3.0"/>
<line class="F1" x1="87.9" y1="584.8" x2="89.8" y2="594.6" stroke-width="3.0"/>
<line class="N2" x1="86.0" y1="575.0" x2="87.9" y2="584.8" stroke-width="1.4"/>
<line class="F2" x1="87.9" y1="584.8" x2="89.8" y2="594.6" stroke-width="1.4"/>
<line class="N0" x1="41.8" y1="601.7" x2="51.5" y2="606.8" stroke-width="5.2"/>
<line class="N0" x1="51.5" y1="606.8" x2="61.2" y2="611.9" stroke-width="5.2"/>
<line class="N1" x1="41.8" y1="601.7" x2="51.5" y2="606.8" stroke-width="3.5"/>
<line class="N1" x1="51.5" y1="606.8" x2="61.2" y2="611.9" stroke-width="3.5"/>
<line class="N2" x1="41.8" y1="601.7" x2="51.5" y2="606.8" stroke-width="1.7"/>
<line class="N2" x1="51.5" y1="606.8" x2="61.2" y2="611.9" stroke-width="1.7"/>
<line class="N0" x1="61.2" y1="611.9" x2="59.7" y2="622.6" stroke-width="5.2"/>
<line class="C0" x1="59.7" y1="622.6" x2="58.2" y2="633.4" stroke-width="5.2"/>
<line class="N1" x1="61.2" y1="611.9" x2="59.7" y2="622.6" stroke-width="3.5"/>
<line class="C1" x1="59.7" y1="622.6" x2="58.2" y2="633.4" stroke-width="3.5"/>
<line class="N2" x1="61.2" y1="611.9" x2="59.7" y2="622.6" stroke-width="1.7"/>
<line class="C2" x1="59.7" y1="622.6" x2="58.2" y2="633.4" stroke-width="1.7"/>
<line class="C0" x1="58.2" y1="633.4" x2="46.0" y2="635.4" stroke-width="5.8"/>
<line class="C0" x1="46.0" y1="635.4" x2="33.7" y2="637.4" stroke-width="5.8"/>
<line class="C1" x1="58.2" y1="633.4" x2="46.0" y2="635.4" stroke-width="3.9"/>
<line class="C1" x1="46.0" y1="635.4" x2="33.7" y2="637.4" stroke-width="3.9"/>
<line class="C2" x1="58.2" y1="633.4" x2="46.0" y2="635.4" stroke-width="1.9"/>
<line class="C2" x1="46.0" y1="635.4" x2="33.7" y2="637.4" stroke-width="1.9"/>
<line class="C0" x1="33.7" y1="637.4" x2="30.1" y2="627.2" stroke-width="5.2"/>
<line class="C0" x1="30.1" y1="627.2" x2="26.5" y2="617.0" stroke-width="5.2"/>
<line class="C1" x1="33.7" y1="637.4" x2="30.1" y2="627.2" stroke-width="3.5"/>
<line class="C1" x1="30.1" y1="627.2" x2="26.5" y2="617.0" stroke-width="3.5"/>
<line class="C2" x1="33.7" y1="637.4" x2="30.1" y2="627.2" stroke-width="1.7"/>
<line class="C2" x1="30.1" y1="627.2" x2="26.5" y2="617.0" stroke-width="1.7"/>
<line class="C0" x1="26.5" y1="617.0" x2="34.1" y2="609.4" stroke-width="5.2"/>
<line class="N0" x1="34.1" y1="609.4" x2="41.8" y2="601.7" stroke-width="5.2"/>
<line class="C1" x1="26.5" y1="617.0" x2="34.1" y2="609.4" stroke-width="3.5"/>
<line class="N1" x1="34.1" y1="609.4" x2="41.8" y2="601.7" stroke-width="3.5"/>
<line class="C2" x1="26.5" y1="617.0" x2="34.1" y2="609.4" stroke-width="1.7"/>
<line class="N2" x1="34.1" y1="609.4" x2="41.8" y2="601.7" stroke-width="1.7"/>
<line class="C0" x1="26.5" y1="617.0" x2="16.3" y2="615.0" stroke-width="5.2"/>
<line class="H0" x1="16.3" y1="615.0" x2="6.1" y2="613.0" stroke-width="5.2"/>
<line class="C1" x1="26.5" y1="617.0" x2="16.3" y2="615.0" stroke-width="3.5"/>
<line class="H1" x1="16.3" y1="615.0" x2="6.1" y2="613.0" stroke-width="3.5"/>
<line class="C2" x1="26.5" y1="617.0" x2="16.3" y2="615.0" stroke-width="1.7"/>
<line class="H2" x1="16.3" y1="615.0" x2="6.1" y2="613.0" stroke-width="1.7"/>
<line class="C0" x1="33.7" y1="637.4" x2="31.2" y2="642.5" stroke-width="5.2"/>
<line class="H0" x1="31.2" y1="642.5" x2="28.6" y2="647.7" stroke-width="5.2"/>
<line class="C1" x1="33.7" y1="637.4" x2="31.2" y2="642.5" stroke-width="3.5"/>
<line class="H1" x1="31.2" y1="642.5" x2="28.6" y2="647.7" stroke-width="3.5"/>
<line class="C2" x1="33.7" y1="637.4" x2="31.2" y2="642.5" stroke-width="1.7"/>
<line class="H2" x1="31.2" y1="642.5" x2="28.6" y2="647.7" stroke-width="1.7"/>
<line class="C0" x1="58.2" y1="633.4" x2="63.3" y2="638.5" stroke-width="5.2"/>
<line class="H0" x1="63.3" y1="638.5" x2="68.4" y2="643.6" stroke-width="5.2"/>
<line class="C1" x1="58.2" y1="633.4" x2="63.3" y2="638.5" stroke-width="3.5"/>
<line class="H1" x1="63.3" y1="638.5" x2="68.4" y2="643.6" stroke-width="3.5"/>
<line class="C2" x1="58.2" y1="633.4" x2="63.3" y2="638.5" stroke-width="1.7"/>
<line class="H2" x1="63.3" y1="638.5" x2="68.4" y2="643.6" stroke-width="1.7"/>
<line class="N0" x1="61.2" y1="611.9" x2="75.5" y2="603.2" stroke-width="4.4"/>
<line class="F0" x1="75.5" y1="603.2" x2="89.8" y2="594.6" stroke-width="4.4"/>
<line class="N1" x1="61.2" y1="611.9" x2="75.5" y2="603.2" stroke-width="3.0"/>
<line class="F1" x1="75.5" y1="603.2" x2="89.8" y2="594.6" stroke-width="3.0"/>
<line class="N2" x1="61.2" y1="611.9" x2="75.5" y2="603.2" stroke-width="1.4"/>
<line class="F2" x1="75.5" y1="603.2" x2="89.8" y2="594.6" stroke-width="1.4"/>
<line class="C0" x1="161.5" y1="553.8" x2="155.2" y2="553.8" stroke-width="5.2"/>
<line class="H0" x1="155.2" y1="553.8" x2="148.9" y2="553.8" stroke-width="5.2"/>
<line class="C1" x1="161.5" y1="553.8" x2="155.2" y2="553.8" stroke-width="3.5"/>
<line class="H1" x1="155.2" y1="553.8" x2="148.9" y2="553.8" stroke-width="3.5"/>
<line class="C2" x1="161.5" y1="553.8" x2="155.2" y2="553.8" stroke-width="1.7"/>
<line class="H2" x1="155.2" y1="553.8" x2="148.9" y2="553.8" stroke-width="1.7"/>
<line class="C0" x1="187.7" y1="553.8" x2="197.6" y2="551.1" stroke-width="5.2"/>
<line class="H0" x1="197.6" y1="551.1" x2="207.6" y2="548.5" stroke-width="5.2"/>
<line class="C1" x1="187.7" y1="553.8" x2="197.6" y2="551.1" stroke-width="3.5"/>
<line class="H1" x1="197.6" y1="551.1" x2="207.6" y2="548.5" stroke-width="3.5"/>
<line class="C2" x1="187.7" y1="553.8" x2="197.6" y2="551.1" stroke-width="1.7"/>
<line class="H2" x1="197.6" y1="551.1" x2="207.6" y2="548.5" stroke-width="1.7"/>
<line class="C0" x1="185.6" y1="540.2" x2="189.8" y2="532.9" stroke-width="5.2"/>
<line class="C0" x1="189.8" y1="532.9" x2="194.0" y2="525.5" stroke-width="5.2"/>
<line class="C1" x1="185.6" y1="540.2" x2="189.8" y2="532.9" stroke-width="3.5"/>
<line class="C1" x1="189.8" y1="532.9" x2="194.0" y2="525.5" stroke-width="3.5"/>
<line class="C2" x1="185.6" y1="540.2" x2="189.8" y2="532.9" stroke-width="1.7"/>
<line class="C2" x1="189.8" y1="532.9" x2="194.0" y2="525.5" stroke-width="1.7"/>
<line class="N0" x1="160.5" y1="571.6" x2="169.4" y2="570.5" stroke-width="5.2"/>
<line class="N0" x1="169.4" y1="570.5" x2="178.3" y2="569.5" stroke-width="5.2"/>
<line class="N1" x1="160.5" y1="571.6" x2="169.4" y2="570.5" stroke-width="3.5"/>
<line class="N1" x1="169.4" y1="570.5" x2="178.3" y2="569.5" stroke-width="3.5"/>
<line class="N2" x1="160.5" y1="571.6" x2="169.4" y2="570.5" stroke-width="1.7"/>
<line class="N2" x1="169.4" y1="570.5" x2="178.3" y2="569.5" stroke-width="1.7"/>
<line class="N0" x1="178.3" y1="569.5" x2="183.0" y2="561.6" stroke-width="5.2"/>
<line class="C0" x1="183.0" y1="561.6" x2="187.7" y2="553.8" stroke-width="5.2"/>
<line class="N1" x1="178.3" y1="569.5" x2="183.0" y2="561.6" stroke-width="3.5"/>
<line class="C1" x1="183.0" y1="561.6" x2="187.7" y2="553.8" stroke-width="3.5"/>
<line class="N2" x1="178.3" y1="569.5" x2="183.0" y2="561.6" stroke-width="1.7"/>
<line class="C2" x1="183.0" y1="561.6" x2="187.7" y2="553.8" stroke-width="1.7"/>
<line class="C0" x1="187.7" y1="553.8" x2="186.6" y2="547.0" stroke-width="5.2"/>
<line class="C0" x1="186.6" y1="547.0" x2="185.6" y2="540.2" stroke-width="5.2"/>
<line class="C1" x1="187.7" y1="553.8" x2="186.6" y2="547.0" stroke-width="3.5"/>
<line class="C1" x1="186.6" y1="547.0" x2="185.6" y2="540.2" stroke-width="3.5"/>
<line class="C2" x1="187.7" y1="553.8" x2="186.6" y2="547.0" stroke-width="1.7"/>
<line class="C2" x1="186.6" y1="547.0" x2="185.6" y2="540.2" stroke-width="1.7"/>
<line class="K0" x1="185.6" y1="540.2" x2="173.6" y2="547.0" stroke-width="6.4"/>
<line class="K0" x1="173.6" y1="547.0" x2="161.5" y2="553.8" stroke-width="6.4"/>
<line class="K1" x1="185.6" y1="540.2" x2="173.6" y2="547.0" stroke-width="4.4"/>
<line class="K1" x1="173.6" y1="547.0" x2="161.5" y2="553.8" stroke-width="4.4"/>
<line class="K2" x1="185.6" y1="540.2" x2="173.6" y2="547.0" stroke-width="2.0"/>
<line class="K2" x1="173.6" y1="547.0" x2="161.5" y2="553.8" stroke-width="2.0"/>
<line class="C0" x1="161.5" y1="553.8" x2="161.0" y2="562.7" stroke-width="5.2"/>
<line class="N0" x1="161.0" y1="562.7" x2="160.5" y2="571.6" stroke-width="5.2"/>
<line class="C1" x1="161.5" y1="553.8" x2="161.0" y2="562.7" stroke-width="3.5"/>
<line class="N1" x1="161.0" y1="562.7" x2="160.5" y2="571.6" stroke-width="3.5"/>
<line class="C2" x1="161.5" y1="553.8" x2="161.0" y2="562.7" stroke-width="1.7"/>
<line class="N2" x1="161.0" y1="562.7" x2="160.5" y2="571.6" stroke-width="1.7"/>
<line class="N0" x1="160.5" y1="571.6" x2="149.5" y2="583.2" stroke-width="4.4"/>
<line class="F0" x1="149.5" y1="583.2" x2="138.5" y2="594.7" stroke-width="4.4"/>
<line class="N1" x1="160.5" y1="571.6" x2="149.5" y2="583.2" stroke-width="3.0"/>
<line class="F1" x1="149.5" y1="583.2" x2="138.5" y2="594.7" stroke-width="3.0"/>
<line class="N2" x1="160.5" y1="571.6" x2="149.5" y2="583.2" stroke-width="1.4"/>
<line class="F2" x1="149.5" y1="583.2" x2="138.5" y2="594.7" stroke-width="1.4"/>
<line class="N0" x1="178.3" y1="569.5" x2="179.4" y2="575.2" stroke-width="5.2"/>
<line class="B0" x1="179.4" y1="575.2" x2="180.4" y2="581.0" stroke-width="5.2"/>
<line class="N1" x1="178.3" y1="569.5" x2="179.4" y2="575.2" stroke-width="3.5"/>
<line class="B1" x1="179.4" y1="575.2" x2="180.4" y2="581.0" stroke-width="3.5"/>
<line class="N2" x1="178.3" y1="569.5" x2="179.4" y2="575.2" stroke-width="1.7"/>
<line class="B2" x1="179.4" y1="575.2" x2="180.4" y2="581.0" stroke-width="1.7"/>
<line class="C0" x1="124.8" y1="583.1" x2="148.9" y2="579.5" stroke-width="5.2"/>
<line class="H0" x1="148.9" y1="579.5" x2="173.0" y2="575.8" stroke-width="5.2"/>
<line class="C1" x1="124.8" y1="583.1" x2="148.9" y2="579.5" stroke-width="3.5"/>
<line class="H1" x1="148.9" y1="579.5" x2="173.0" y2="575.8" stroke-width="3.5"/>
<line class="C2" x1="124.8" y1="583.1" x2="148.9" y2="579.5" stroke-width="1.7"/>
<line class="H2" x1="148.9" y1="579.5" x2="173.0" y2="575.8" stroke-width="1.7"/>
<line class="F0" x1="138.5" y1="594.7" x2="144.2" y2="587.4" stroke-width="4.4"/>
<line class="N0" x1="144.2" y1="587.4" x2="150.0" y2="580.0" stroke-width="4.4"/>
<line class="F1" x1="138.5" y1="594.7" x2="144.2" y2="587.4" stroke-width="3.0"/>
<line class="N1" x1="144.2" y1="587.4" x2="150.0" y2="580.0" stroke-width="3.0"/>
<line class="F2" x1="138.5" y1="594.7" x2="144.2" y2="587.4" stroke-width="1.4"/>
<line class="N2" x1="144.2" y1="587.4" x2="150.0" y2="580.0" stroke-width="1.4"/>
<line class="N0" x1="150.0" y1="580.0" x2="159.0" y2="579.0" stroke-width="5.2"/>
<line class="N0" x1="159.0" y1="579.0" x2="168.0" y2="578.0" stroke-width="5.2"/>
<line class="N1" x1="150.0" y1="580.0" x2="159.0" y2="579.0" stroke-width="3.5"/>
<line class="N1" x1="159.0" y1="579.0" x2="168.0" y2="578.0" stroke-width="3.5"/>
<line class="N2" x1="150.0" y1="580.0" x2="159.0" y2="579.0" stroke-width="1.7"/>
<line class="N2" x1="159.0" y1="579.0" x2="168.0" y2="578.0" stroke-width="1.7"/>
<line class="N0" x1="168.0" y1="578.0" x2="174.2" y2="579.5" stroke-width="5.2"/>
<line class="B0" x1="174.2" y1="579.5" x2="180.4" y2="581.0" stroke-width="5.2"/>
<line class="N1" x1="168.0" y1="578.0" x2="174.2" y2="579.5" stroke-width="3.5"/>
<line class="B1" x1="174.2" y1="579.5" x2="180.4" y2="581.0" stroke-width="3.5"/>
<line class="N2" x1="168.0" y1="578.0" x2="174.2" y2="579.5" stroke-width="1.7"/>
<line class="B2" x1="174.2" y1="579.5" x2="180.4" y2="581.0" stroke-width="1.7"/>
<line class="B0" x1="180.4" y1="581.0" x2="186.7" y2="579.5" stroke-width="5.2"/>
<line class="H0" x1="186.7" y1="579.5" x2="193.0" y2="577.9" stroke-width="5.2"/>
<line class="B1" x1="180.4" y1="581.0" x2="186.7" y2="579.5" stroke-width="3.5"/>
<line class="H1" x1="186.7" y1="579.5" x2="193.0" y2="577.9" stroke-width="3.5"/>
<line class="B2" x1="180.4" y1="581.0" x2="186.7" y2="579.5" stroke-width="1.7"/>
<line class="H2" x1="186.7" y1="579.5" x2="193.0" y2="577.9" stroke-width="1.7"/>
<line class="B0" x1="180.4" y1="581.0" x2="180.9" y2="593.0" stroke-width="5.2"/>
<line class="N0" x1="180.9" y1="593.0" x2="181.4" y2="605.1" stroke-width="5.2"/>
<line class="B1" x1="180.4" y1="581.0" x2="180.9" y2="593.0" stroke-width="3.5"/>
<line class="N1" x1="180.9" y1="593.0" x2="181.4" y2="605.1" stroke-width="3.5"/>
<line class="B2" x1="180.4" y1="581.0" x2="180.9" y2="593.0" stroke-width="1.7"/>
<line class="N2" x1="180.9" y1="593.0" x2="181.4" y2="605.1" stroke-width="1.7"/>
<line class="N0" x1="166.8" y1="611.4" x2="174.1" y2="608.2" stroke-width="5.2"/>
<line class="N0" x1="174.1" y1="608.2" x2="181.4" y2="605.1" stroke-width="5.2"/>
<line class="N1" x1="166.8" y1="611.4" x2="174.1" y2="608.2" stroke-width="3.5"/>
<line class="N1" x1="174.1" y1="608.2" x2="181.4" y2="605.1" stroke-width="3.5"/>
<line class="N2" x1="166.8" y1="611.4" x2="174.1" y2="608.2" stroke-width="1.7"/>
<line class="N2" x1="174.1" y1="608.2" x2="181.4" y2="605.1" stroke-width="1.7"/>
<line class="N0" x1="181.4" y1="605.1" x2="187.7" y2="610.4" stroke-width="5.2"/>
<line class="C0" x1="187.7" y1="610.4" x2="194.0" y2="615.6" stroke-width="5.2"/>
<line class="N1" x1="181.4" y1="605.1" x2="187.7" y2="610.4" stroke-width="3.5"/>
<line class="C1" x1="187.7" y1="610.4" x2="194.0" y2="615.6" stroke-width="3.5"/>
<line class="N2" x1="181.4" y1="605.1" x2="187.7" y2="610.4" stroke-width="1.7"/>
<line class="C2" x1="187.7" y1="610.4" x2="194.0" y2="615.6" stroke-width="1.7"/>
<line class="C0" x1="194.0" y1="615.6" x2="191.9" y2="625.0" stroke-width="5.2"/>
<line class="C0" x1="191.9" y1="625.0" x2="189.8" y2="634.5" stroke-width="5.2"/>
<line class="C1" x1="194.0" y1="615.6" x2="191.9" y2="625.0" stroke-width="3.5"/>
<line class="C1" x1="191.9" y1="625.0" x2="189.8" y2="634.5" stroke-width="3.5"/>
<line class="C2" x1="194.0" y1="615.6" x2="191.9" y2="625.0" stroke-width="1.7"/>
<line class="C2" x1="191.9" y1="625.0" x2="189.8" y2="634.5" stroke-width="1.7"/>
<line class="C0" x1="189.8" y1="634.5" x2="179.9" y2="634.5" stroke-width="5.8"/>
<line class="C0" x1="179.9" y1="634.5" x2="169.9" y2="634.5" stroke-width="5.8"/>
<line class="C1" x1="189.8" y1="634.5" x2="179.9" y2="634.5" stroke-width="3.9"/>
<line class="C1" x1="179.9" y1="634.5" x2="169.9" y2="634.5" stroke-width="3.9"/>
<line class="C2" x1="189.8" y1="634.5" x2="179.9" y2="634.5" stroke-width="1.9"/>
<line class="C2" x1="179.9" y1="634.5" x2="169.9" y2="634.5" stroke-width="1.9"/>
<line class="C0" x1="169.9" y1="634.5" x2="168.4" y2="623.0" stroke-width="5.2"/>
<line class="N0" x1="168.4" y1="623.0" x2="166.8" y2="611.4" stroke-width="5.2"/>
<line class="C1" x1="169.9" y1="634.5" x2="168.4" y2="623.0" stroke-width="3.5"/>
<line class="N1" x1="168.4" y1="623.0" x2="166.8" y2="611.4" stroke-width="3.5"/>
<line class="C2" x1="169.9" y1="634.5" x2="168.4" y2="623.0" stroke-width="1.7"/>
<line class="N2" x1="168.4" y1="623.0" x2="166.8" y2="611.4" stroke-width="1.7"/>
<line class="C0" x1="194.0" y1="615.6" x2="199.8" y2="614.5" stroke-width="5.2"/>
<line class="H0" x1="199.8" y1="614.5" x2="205.5" y2="613.5" stroke-width="5.2"/>
<line class="C1" x1="194.0" y1="615.6" x2="199.8" y2="614.5" stroke-width="3.5"/>
<line class="H1" x1="199.8" y1="614.5" x2="205.5" y2="613.5" stroke-width="3.5"/>
<line class="C2" x1="194.0" y1="615.6" x2="199.8" y2="614.5" stroke-width="1.7"/>
<line class="H2" x1="199.8" y1="614.5" x2="205.5" y2="613.5" stroke-width="1.7"/>
<line class="C0" x1="189.8" y1="634.5" x2="192.9" y2="641.8" stroke-width="5.2"/>
<line class="H0" x1="192.9" y1="641.8" x2="196.0" y2="649.0" stroke-width="5.2"/>
<line class="C1" x1="189.8" y1="634.5" x2="192.9" y2="641.8" stroke-width="3.5"/>
<line class="H1" x1="192.9" y1="641.8" x2="196.0" y2="649.0" stroke-width="3.5"/>
<line class="C2" x1="189.8" y1="634.5" x2="192.9" y2="641.8" stroke-width="1.7"/>
<line class="H2" x1="192.9" y1="641.8" x2="196.0" y2="649.0" stroke-width="1.7"/>
<line class="C0" x1="169.9" y1="634.5" x2="166.2" y2="638.7" stroke-width="5.2"/>
<line class="H0" x1="166.2" y1="638.7" x2="162.6" y2="642.9" stroke-width="5.2"/>
<line class="C1" x1="169.9" y1="634.5" x2="166.2" y2="638.7" stroke-width="3.5"/>
<line class="H1" x1="166.2" y1="638.7" x2="162.6" y2="642.9" stroke-width="3.5"/>
<line class="C2" x1="169.9" y1="634.5" x2="166.2" y2="638.7" stroke-width="1.7"/>
<line class="H2" x1="166.2" y1="638.7" x2="162.6" y2="642.9" stroke-width="1.7"/>
<line class="F0" x1="138.5" y1="594.7" x2="152.7" y2="603.0" stroke-width="4.4"/>
<line class="N0" x1="152.7" y1="603.0" x2="166.8" y2="611.4" stroke-width="4.4"/>
<line class="F1" x1="138.5" y1="594.7" x2="152.7" y2="603.0" stroke-width="3.0"/>
<line class="N1" x1="152.7" y1="603.0" x2="166.8" y2="611.4" stroke-width="3.0"/>
<line class="F2" x1="138.5" y1="594.7" x2="152.7" y2="603.0" stroke-width="1.4"/>
<line class="N2" x1="152.7" y1="603.0" x2="166.8" y2="611.4" stroke-width="1.4"/>
<line class="C0" x1="122.0" y1="620.0" x2="119.2" y2="629.4" stroke-width="5.2"/>
<line class="C0" x1="119.2" y1="629.4" x2="116.4" y2="638.7" stroke-width="5.2"/>
<line class="C1" x1="122.0" y1="620.0" x2="119.2" y2="629.4" stroke-width="3.5"/>
<line class="C1" x1="119.2" y1="629.4" x2="116.4" y2="638.7" stroke-width="3.5"/>
<line class="C2" x1="122.0" y1="620.0" x2="119.2" y2="629.4" stroke-width="1.7"/>
<line class="C2" x1="119.2" y1="629.4" x2="116.4" y2="638.7" stroke-width="1.7"/>
<line class="C0" x1="116.4" y1="638.7" x2="107.0" y2="634.0" stroke-width="5.2"/>
<line class="H0" x1="107.0" y1="634.0" x2="97.6" y2="629.3" stroke-width="5.2"/>
<line class="C1" x1="116.4" y1="638.7" x2="107.0" y2="634.0" stroke-width="3.5"/>
<line class="H1" x1="107.0" y1="634.0" x2="97.6" y2="629.3" stroke-width="3.5"/>
<line class="C2" x1="116.4" y1="638.7" x2="107.0" y2="634.0" stroke-width="1.7"/>
<line class="H2" x1="107.0" y1="634.0" x2="97.6" y2="629.3" stroke-width="1.7"/>
<line class="C0" x1="116.4" y1="638.7" x2="130.1" y2="640.8" stroke-width="5.2"/>
<line class="H0" x1="130.1" y1="640.8" x2="143.7" y2="642.9" stroke-width="5.2"/>
<line class="C1" x1="116.4" y1="638.7" x2="130.1" y2="640.8" stroke-width="3.5"/>
<line class="H1" x1="130.1" y1="640.8" x2="143.7" y2="642.9" stroke-width="3.5"/>
<line class="C2" x1="116.4" y1="638.7" x2="130.1" y2="640.8" stroke-width="1.7"/>
<line class="H2" x1="130.1" y1="640.8" x2="143.7" y2="642.9" stroke-width="1.7"/>
<line class="C0" x1="116.4" y1="638.7" x2="113.3" y2="644.0" stroke-width="5.2"/>
<line class="H0" x1="113.3" y1="644.0" x2="110.2" y2="649.2" stroke-width="5.2"/>
<line class="C1" x1="116.4" y1="638.7" x2="113.3" y2="644.0" stroke-width="3.5"/>
<line class="H1" x1="113.3" y1="644.0" x2="110.2" y2="649.2" stroke-width="3.5"/>
<line class="C2" x1="116.4" y1="638.7" x2="113.3" y2="644.0" stroke-width="1.7"/>
<line class="H2" x1="113.3" y1="644.0" x2="110.2" y2="649.2" stroke-width="1.7"/>
<line class="F0" x1="89.8" y1="594.6" x2="93.7" y2="605.1" stroke-width="3.8"/>
<line class="O0" x1="93.7" y1="605.1" x2="97.6" y2="615.6" stroke-width="3.8"/>
<line class="F1" x1="89.8" y1="594.6" x2="93.7" y2="605.1" stroke-width="2.6"/>
<line class="O1" x1="93.7" y1="605.1" x2="97.6" y2="615.6" stroke-width="2.6"/>
<line class="F2" x1="89.8" y1="594.6" x2="93.7" y2="605.1" stroke-width="1.2"/>
<line class="O2" x1="93.7" y1="605.1" x2="97.6" y2="615.6" stroke-width="1.2"/>
<line class="O0" x1="97.6" y1="615.6" x2="107.0" y2="616.7" stroke-width="3.8"/>
<line class="C0" x1="107.0" y1="616.7" x2="116.4" y2="617.7" stroke-width="3.8"/>
<line class="O1" x1="97.6" y1="615.6" x2="107.0" y2="616.7" stroke-width="2.6"/>
<line class="C1" x1="107.0" y1="616.7" x2="116.4" y2="617.7" stroke-width="2.6"/>
<line class="O2" x1="97.6" y1="615.6" x2="107.0" y2="616.7" stroke-width="1.2"/>
<line class="C2" x1="107.0" y1="616.7" x2="116.4" y2="617.7" stroke-width="1.2"/>
<line class="C0" x1="116.4" y1="617.7" x2="126.4" y2="614.0" stroke-width="3.8"/>
<line class="O0" x1="126.4" y1="614.0" x2="136.4" y2="610.4" stroke-width="3.8"/>
<line class="C1" x1="116.4" y1="617.7" x2="126.4" y2="614.0" stroke-width="2.6"/>
<line class="O1" x1="126.4" y1="614.0" x2="136.4" y2="610.4" stroke-width="2.6"/>
<line class="C2" x1="116.4" y1="617.7" x2="126.4" y2="614.0" stroke-width="1.2"/>
<line class="O2" x1="126.4" y1="614.0" x2="136.4" y2="610.4" stroke-width="1.2"/>
<line class="O0" x1="136.4" y1="610.4" x2="137.4" y2="602.5" stroke-width="3.8"/>
<line class="F0" x1="137.4" y1="602.5" x2="138.5" y2="594.7" stroke-width="3.8"/>
<line class="O1" x1="136.4" y1="610.4" x2="137.4" y2="602.5" stroke-width="2.6"/>
<line class="F1" x1="137.4" y1="602.5" x2="138.5" y2="594.7" stroke-width="2.6"/>
<line class="O2" x1="136.4" y1="610.4" x2="137.4" y2="602.5" stroke-width="1.2"/>
<line class="F2" x1="137.4" y1="602.5" x2="138.5" y2="594.7" stroke-width="1.2"/>
<line class="F0" x1="89.8" y1="594.6" x2="96.9" y2="606.3" stroke-width="3.8"/>
<line class="O0" x1="96.9" y1="606.3" x2="104.0" y2="618.0" stroke-width="3.8"/>
<line class="F1" x1="89.8" y1="594.6" x2="96.9" y2="606.3" stroke-width="2.6"/>
<line class="O1" x1="96.9" y1="606.3" x2="104.0" y2="618.0" stroke-width="2.6"/>
<line class="F2" x1="89.8" y1="594.6" x2="96.9" y2="606.3" stroke-width="1.2"/>
<line class="O2" x1="96.9" y1="606.3" x2="104.0" y2="618.0" stroke-width="1.2"/>
<line class="O0" x1="104.0" y1="618.0" x2="113.0" y2="619.0" stroke-width="3.8"/>
<line class="C0" x1="113.0" y1="619.0" x2="122.0" y2="620.0" stroke-width="3.8"/>
<line class="O1" x1="104.0" y1="618.0" x2="113.0" y2="619.0" stroke-width="2.6"/>
<line class="C1" x1="113.0" y1="619.0" x2="122.0" y2="620.0" stroke-width="2.6"/>
<line class="O2" x1="104.0" y1="618.0" x2="113.0" y2="619.0" stroke-width="1.2"/>
<line class="C2" x1="113.0" y1="619.0" x2="122.0" y2="620.0" stroke-width="1.2"/>
<line class="C0" x1="122.0" y1="620.0" x2="127.5" y2="616.5" stroke-width="3.8"/>
<line class="O0" x1="127.5" y1="616.5" x2="133.0" y2="613.0" stroke-width="3.8"/>
<line class="C1" x1="122.0" y1="620.0" x2="127.5" y2="616.5" stroke-width="2.6"/>
<line class="O1" x1="127.5" y1="616.5" x2="133.0" y2="613.0" stroke-width="2.6"/>
<line class="C2" x1="122.0" y1="620.0" x2="127.5" y2="616.5" stroke-width="1.2"/>
<line class="O2" x1="127.5" y1="616.5" x2="133.0" y2="613.0" stroke-width="1.2"/>
<line class="O0" x1="133.0" y1="613.0" x2="135.8" y2="603.9" stroke-width="3.8"/>
<line class="F0" x1="135.8" y1="603.9" x2="138.5" y2="594.7" stroke-width="3.8"/>
<line class="O1" x1="133.0" y1="613.0" x2="135.8" y2="603.9" stroke-width="2.6"/>
<line class="F1" x1="135.8" y1="603.9" x2="138.5" y2="594.7" stroke-width="2.6"/>
<line class="O2" x1="133.0" y1="613.0" x2="135.8" y2="603.9" stroke-width="1.2"/>
<line class="F2" x1="135.8" y1="603.9" x2="138.5" y2="594.7" stroke-width="1.2"/>
<line class="F0" x1="89.8" y1="594.6" x2="102.1" y2="587.8" stroke-width="3.8"/>
<line class="O0" x1="102.1" y1="587.8" x2="114.4" y2="581.0" stroke-width="3.8"/>
<line class="F1" x1="89.8" y1="594.6" x2="102.1" y2="587.8" stroke-width="2.6"/>
<line class="O1" x1="102.1" y1="587.8" x2="114.4" y2="581.0" stroke-width="2.6"/>
<line class="F2" x1="89.8" y1="594.6" x2="102.1" y2="587.8" stroke-width="1.2"/>
<line class="O2" x1="102.1" y1="587.8" x2="114.4" y2="581.0" stroke-width="1.2"/>
<line class="O0" x1="114.4" y1="581.0" x2="126.5" y2="587.9" stroke-width="3.8"/>
<line class="F0" x1="126.5" y1="587.9" x2="138.5" y2="594.7" stroke-width="3.8"/>
<line class="O1" x1="114.4" y1="581.0" x2="126.5" y2="587.9" stroke-width="2.6"/>
<line class="F1" x1="126.5" y1="587.9" x2="138.5" y2="594.7" stroke-width="2.6"/>
<line class="O2" x1="114.4" y1="581.0" x2="126.5" y2="587.9" stroke-width="1.2"/>
<line class="F2" x1="126.5" y1="587.9" x2="138.5" y2="594.7" stroke-width="1.2"/></g>
<text x="0" y="0" transform="translate(103,583.5) rotate(-23)" font-size="16.5" font-weight="bold" fill="#000" text-anchor="middle">1.81</text>
<text x="0" y="0" transform="translate(130,580) rotate(30)" font-size="16.5" font-weight="bold" fill="#000" text-anchor="middle">1.81</text><g stroke-linecap="round"><line class="C0" x1="251.0" y1="553.0" x2="268.0" y2="556.5" stroke-width="5.2"/>
<line class="C0" x1="268.0" y1="556.5" x2="285.0" y2="560.0" stroke-width="5.2"/>
<line class="C1" x1="251.0" y1="553.0" x2="268.0" y2="556.5" stroke-width="3.5"/>
<line class="C1" x1="268.0" y1="556.5" x2="285.0" y2="560.0" stroke-width="3.5"/>
<line class="C2" x1="251.0" y1="553.0" x2="268.0" y2="556.5" stroke-width="1.7"/>
<line class="C2" x1="268.0" y1="556.5" x2="285.0" y2="560.0" stroke-width="1.7"/>
<line class="C0" x1="285.0" y1="560.0" x2="278.5" y2="555.0" stroke-width="5.2"/>
<line class="H0" x1="278.5" y1="555.0" x2="272.0" y2="550.0" stroke-width="5.2"/>
<line class="C1" x1="285.0" y1="560.0" x2="278.5" y2="555.0" stroke-width="3.5"/>
<line class="H1" x1="278.5" y1="555.0" x2="272.0" y2="550.0" stroke-width="3.5"/>
<line class="C2" x1="285.0" y1="560.0" x2="278.5" y2="555.0" stroke-width="1.7"/>
<line class="H2" x1="278.5" y1="555.0" x2="272.0" y2="550.0" stroke-width="1.7"/>
<line class="C0" x1="231.1" y1="544.8" x2="235.4" y2="550.4" stroke-width="5.2"/>
<line class="N0" x1="235.4" y1="550.4" x2="239.8" y2="556.0" stroke-width="5.2"/>
<line class="C1" x1="231.1" y1="544.8" x2="235.4" y2="550.4" stroke-width="3.5"/>
<line class="N1" x1="235.4" y1="550.4" x2="239.8" y2="556.0" stroke-width="3.5"/>
<line class="C2" x1="231.1" y1="544.8" x2="235.4" y2="550.4" stroke-width="1.7"/>
<line class="N2" x1="235.4" y1="550.4" x2="239.8" y2="556.0" stroke-width="1.7"/>
<line class="N0" x1="239.8" y1="556.0" x2="251.0" y2="560.4" stroke-width="5.2"/>
<line class="N0" x1="251.0" y1="560.4" x2="262.2" y2="564.7" stroke-width="5.2"/>
<line class="N1" x1="239.8" y1="556.0" x2="251.0" y2="560.4" stroke-width="3.5"/>
<line class="N1" x1="251.0" y1="560.4" x2="262.2" y2="564.7" stroke-width="3.5"/>
<line class="N2" x1="239.8" y1="556.0" x2="251.0" y2="560.4" stroke-width="1.7"/>
<line class="N2" x1="251.0" y1="560.4" x2="262.2" y2="564.7" stroke-width="1.7"/>
<line class="N0" x1="262.2" y1="564.7" x2="269.6" y2="565.4" stroke-width="5.2"/>
<line class="N0" x1="269.6" y1="565.4" x2="277.0" y2="566.0" stroke-width="5.2"/>
<line class="N1" x1="262.2" y1="564.7" x2="269.6" y2="565.4" stroke-width="3.5"/>
<line class="N1" x1="269.6" y1="565.4" x2="277.0" y2="566.0" stroke-width="3.5"/>
<line class="N2" x1="262.2" y1="564.7" x2="269.6" y2="565.4" stroke-width="1.7"/>
<line class="N2" x1="269.6" y1="565.4" x2="277.0" y2="566.0" stroke-width="1.7"/>
<line class="K0" x1="262.2" y1="564.7" x2="262.8" y2="558.5" stroke-width="5.8"/>
<line class="K0" x1="262.8" y1="558.5" x2="263.4" y2="552.3" stroke-width="5.8"/>
<line class="K1" x1="262.2" y1="564.7" x2="262.8" y2="558.5" stroke-width="3.9"/>
<line class="K1" x1="262.8" y1="558.5" x2="263.4" y2="552.3" stroke-width="3.9"/>
<line class="K2" x1="262.2" y1="564.7" x2="262.8" y2="558.5" stroke-width="1.9"/>
<line class="K2" x1="262.8" y1="558.5" x2="263.4" y2="552.3" stroke-width="1.9"/>
<line class="C0" x1="231.1" y1="544.8" x2="223.1" y2="542.0" stroke-width="5.2"/>
<line class="H0" x1="223.1" y1="542.0" x2="215.0" y2="539.2" stroke-width="5.2"/>
<line class="C1" x1="231.1" y1="544.8" x2="223.1" y2="542.0" stroke-width="3.5"/>
<line class="H1" x1="223.1" y1="542.0" x2="215.0" y2="539.2" stroke-width="3.5"/>
<line class="C2" x1="231.1" y1="544.8" x2="223.1" y2="542.0" stroke-width="1.7"/>
<line class="H2" x1="223.1" y1="542.0" x2="215.0" y2="539.2" stroke-width="1.7"/>
<line class="C0" x1="241.1" y1="538.6" x2="237.3" y2="531.8" stroke-width="5.2"/>
<line class="H0" x1="237.3" y1="531.8" x2="233.6" y2="524.9" stroke-width="5.2"/>
<line class="C1" x1="241.1" y1="538.6" x2="237.3" y2="531.8" stroke-width="3.5"/>
<line class="H1" x1="237.3" y1="531.8" x2="233.6" y2="524.9" stroke-width="3.5"/>
<line class="C2" x1="241.1" y1="538.6" x2="237.3" y2="531.8" stroke-width="1.7"/>
<line class="H2" x1="237.3" y1="531.8" x2="233.6" y2="524.9" stroke-width="1.7"/>
<line class="C0" x1="263.4" y1="552.3" x2="269.6" y2="550.4" stroke-width="5.2"/>
<line class="H0" x1="269.6" y1="550.4" x2="275.8" y2="548.5" stroke-width="5.2"/>
<line class="C1" x1="263.4" y1="552.3" x2="269.6" y2="550.4" stroke-width="3.5"/>
<line class="H1" x1="269.6" y1="550.4" x2="275.8" y2="548.5" stroke-width="3.5"/>
<line class="C2" x1="263.4" y1="552.3" x2="269.6" y2="550.4" stroke-width="1.7"/>
<line class="H2" x1="269.6" y1="550.4" x2="275.8" y2="548.5" stroke-width="1.7"/>
<line class="K0" x1="239.8" y1="556.0" x2="241.1" y2="562.2" stroke-width="5.6"/>
<line class="K0" x1="241.1" y1="562.2" x2="242.3" y2="568.4" stroke-width="5.6"/>
<line class="K1" x1="239.8" y1="556.0" x2="241.1" y2="562.2" stroke-width="3.8"/>
<line class="K1" x1="241.1" y1="562.2" x2="242.3" y2="568.4" stroke-width="3.8"/>
<line class="K2" x1="239.8" y1="556.0" x2="241.1" y2="562.2" stroke-width="1.8"/>
<line class="K2" x1="241.1" y1="562.2" x2="242.3" y2="568.4" stroke-width="1.8"/>
<line class="B0" x1="242.3" y1="568.4" x2="234.9" y2="565.6" stroke-width="5.2"/>
<line class="H0" x1="234.9" y1="565.6" x2="227.4" y2="562.8" stroke-width="5.2"/>
<line class="B1" x1="242.3" y1="568.4" x2="234.9" y2="565.6" stroke-width="3.5"/>
<line class="H1" x1="234.9" y1="565.6" x2="227.4" y2="562.8" stroke-width="3.5"/>
<line class="B2" x1="242.3" y1="568.4" x2="234.9" y2="565.6" stroke-width="1.7"/>
<line class="H2" x1="234.9" y1="565.6" x2="227.4" y2="562.8" stroke-width="1.7"/>
<line class="B0" x1="242.3" y1="568.4" x2="242.9" y2="579.2" stroke-width="5.2"/>
<line class="N0" x1="242.9" y1="579.2" x2="243.4" y2="590.0" stroke-width="5.2"/>
<line class="B1" x1="242.3" y1="568.4" x2="242.9" y2="579.2" stroke-width="3.5"/>
<line class="N1" x1="242.9" y1="579.2" x2="243.4" y2="590.0" stroke-width="3.5"/>
<line class="B2" x1="242.3" y1="568.4" x2="242.9" y2="579.2" stroke-width="1.7"/>
<line class="N2" x1="242.9" y1="579.2" x2="243.4" y2="590.0" stroke-width="1.7"/>
<line class="K0" x1="231.1" y1="544.8" x2="236.1" y2="541.7" stroke-width="6.0"/>
<line class="K0" x1="236.1" y1="541.7" x2="241.1" y2="538.6" stroke-width="6.0"/>
<line class="K1" x1="231.1" y1="544.8" x2="236.1" y2="541.7" stroke-width="4.1"/>
<line class="K1" x1="236.1" y1="541.7" x2="241.1" y2="538.6" stroke-width="4.1"/>
<line class="K2" x1="231.1" y1="544.8" x2="236.1" y2="541.7" stroke-width="1.9"/>
<line class="K2" x1="236.1" y1="541.7" x2="241.1" y2="538.6" stroke-width="1.9"/>
<line class="C0" x1="241.1" y1="538.6" x2="252.2" y2="545.5" stroke-width="7.8"/>
<line class="C0" x1="252.2" y1="545.5" x2="263.4" y2="552.3" stroke-width="7.8"/>
<line class="C1" x1="241.1" y1="538.6" x2="252.2" y2="545.5" stroke-width="5.3"/>
<line class="C1" x1="252.2" y1="545.5" x2="263.4" y2="552.3" stroke-width="5.3"/>
<line class="C2" x1="241.1" y1="538.6" x2="252.2" y2="545.5" stroke-width="2.5"/>
<line class="C2" x1="252.2" y1="545.5" x2="263.4" y2="552.3" stroke-width="2.5"/>
<line class="N0" x1="277.0" y1="566.0" x2="279.4" y2="574.6" stroke-width="4.4"/>
<line class="F0" x1="279.4" y1="574.6" x2="281.9" y2="583.2" stroke-width="4.4"/>
<line class="N1" x1="277.0" y1="566.0" x2="279.4" y2="574.6" stroke-width="3.0"/>
<line class="F1" x1="279.4" y1="574.6" x2="281.9" y2="583.2" stroke-width="3.0"/>
<line class="N2" x1="277.0" y1="566.0" x2="279.4" y2="574.6" stroke-width="1.4"/>
<line class="F2" x1="279.4" y1="574.6" x2="281.9" y2="583.2" stroke-width="1.4"/>
<line class="N0" x1="243.4" y1="590.0" x2="252.4" y2="594.0" stroke-width="5.2"/>
<line class="N0" x1="252.4" y1="594.0" x2="261.5" y2="598.0" stroke-width="5.2"/>
<line class="N1" x1="243.4" y1="590.0" x2="252.4" y2="594.0" stroke-width="3.5"/>
<line class="N1" x1="252.4" y1="594.0" x2="261.5" y2="598.0" stroke-width="3.5"/>
<line class="N2" x1="243.4" y1="590.0" x2="252.4" y2="594.0" stroke-width="1.7"/>
<line class="N2" x1="252.4" y1="594.0" x2="261.5" y2="598.0" stroke-width="1.7"/>
<line class="N0" x1="261.5" y1="598.0" x2="259.2" y2="607.0" stroke-width="5.2"/>
<line class="C0" x1="259.2" y1="607.0" x2="257.0" y2="616.1" stroke-width="5.2"/>
<line class="N1" x1="261.5" y1="598.0" x2="259.2" y2="607.0" stroke-width="3.5"/>
<line class="C1" x1="259.2" y1="607.0" x2="257.0" y2="616.1" stroke-width="3.5"/>
<line class="N2" x1="261.5" y1="598.0" x2="259.2" y2="607.0" stroke-width="1.7"/>
<line class="C2" x1="259.2" y1="607.0" x2="257.0" y2="616.1" stroke-width="1.7"/>
<line class="C0" x1="257.0" y1="616.1" x2="246.8" y2="617.8" stroke-width="5.8"/>
<line class="C0" x1="246.8" y1="617.8" x2="236.5" y2="619.5" stroke-width="5.8"/>
<line class="C1" x1="257.0" y1="616.1" x2="246.8" y2="617.8" stroke-width="3.9"/>
<line class="C1" x1="246.8" y1="617.8" x2="236.5" y2="619.5" stroke-width="3.9"/>
<line class="C2" x1="257.0" y1="616.1" x2="246.8" y2="617.8" stroke-width="1.9"/>
<line class="C2" x1="246.8" y1="617.8" x2="236.5" y2="619.5" stroke-width="1.9"/>
<line class="C0" x1="236.5" y1="619.5" x2="233.1" y2="610.5" stroke-width="5.2"/>
<line class="C0" x1="233.1" y1="610.5" x2="229.7" y2="601.4" stroke-width="5.2"/>
<line class="C1" x1="236.5" y1="619.5" x2="233.1" y2="610.5" stroke-width="3.5"/>
<line class="C1" x1="233.1" y1="610.5" x2="229.7" y2="601.4" stroke-width="3.5"/>
<line class="C2" x1="236.5" y1="619.5" x2="233.1" y2="610.5" stroke-width="1.7"/>
<line class="C2" x1="233.1" y1="610.5" x2="229.7" y2="601.4" stroke-width="1.7"/>
<line class="C0" x1="229.7" y1="601.4" x2="236.6" y2="595.7" stroke-width="5.2"/>
<line class="N0" x1="236.6" y1="595.7" x2="243.4" y2="590.0" stroke-width="5.2"/>
<line class="C1" x1="229.7" y1="601.4" x2="236.6" y2="595.7" stroke-width="3.5"/>
<line class="N1" x1="236.6" y1="595.7" x2="243.4" y2="590.0" stroke-width="3.5"/>
<line class="C2" x1="229.7" y1="601.4" x2="236.6" y2="595.7" stroke-width="1.7"/>
<line class="N2" x1="236.6" y1="595.7" x2="243.4" y2="590.0" stroke-width="1.7"/>
<line class="C0" x1="229.7" y1="601.4" x2="223.5" y2="599.1" stroke-width="5.2"/>
<line class="H0" x1="223.5" y1="599.1" x2="217.3" y2="596.9" stroke-width="5.2"/>
<line class="C1" x1="229.7" y1="601.4" x2="223.5" y2="599.1" stroke-width="3.5"/>
<line class="H1" x1="223.5" y1="599.1" x2="217.3" y2="596.9" stroke-width="3.5"/>
<line class="C2" x1="229.7" y1="601.4" x2="223.5" y2="599.1" stroke-width="1.7"/>
<line class="H2" x1="223.5" y1="599.1" x2="217.3" y2="596.9" stroke-width="1.7"/>
<line class="C0" x1="236.5" y1="619.5" x2="233.1" y2="625.2" stroke-width="5.2"/>
<line class="H0" x1="233.1" y1="625.2" x2="229.7" y2="630.9" stroke-width="5.2"/>
<line class="C1" x1="236.5" y1="619.5" x2="233.1" y2="625.2" stroke-width="3.5"/>
<line class="H1" x1="233.1" y1="625.2" x2="229.7" y2="630.9" stroke-width="3.5"/>
<line class="C2" x1="236.5" y1="619.5" x2="233.1" y2="625.2" stroke-width="1.7"/>
<line class="H2" x1="233.1" y1="625.2" x2="229.7" y2="630.9" stroke-width="1.7"/>
<line class="C0" x1="257.0" y1="616.1" x2="261.5" y2="621.2" stroke-width="5.2"/>
<line class="H0" x1="261.5" y1="621.2" x2="266.0" y2="626.3" stroke-width="5.2"/>
<line class="C1" x1="257.0" y1="616.1" x2="261.5" y2="621.2" stroke-width="3.5"/>
<line class="H1" x1="261.5" y1="621.2" x2="266.0" y2="626.3" stroke-width="3.5"/>
<line class="C2" x1="257.0" y1="616.1" x2="261.5" y2="621.2" stroke-width="1.7"/>
<line class="H2" x1="261.5" y1="621.2" x2="266.0" y2="626.3" stroke-width="1.7"/>
<line class="N0" x1="261.5" y1="598.0" x2="271.7" y2="590.6" stroke-width="4.4"/>
<line class="F0" x1="271.7" y1="590.6" x2="281.9" y2="583.2" stroke-width="4.4"/>
<line class="N1" x1="261.5" y1="598.0" x2="271.7" y2="590.6" stroke-width="3.0"/>
<line class="F1" x1="271.7" y1="590.6" x2="281.9" y2="583.2" stroke-width="3.0"/>
<line class="N2" x1="261.5" y1="598.0" x2="271.7" y2="590.6" stroke-width="1.4"/>
<line class="F2" x1="271.7" y1="590.6" x2="281.9" y2="583.2" stroke-width="1.4"/>
<line class="C0" x1="352.1" y1="546.9" x2="344.1" y2="545.8" stroke-width="5.2"/>
<line class="H0" x1="344.1" y1="545.8" x2="336.2" y2="544.6" stroke-width="5.2"/>
<line class="C1" x1="352.1" y1="546.9" x2="344.1" y2="545.8" stroke-width="3.5"/>
<line class="H1" x1="344.1" y1="545.8" x2="336.2" y2="544.6" stroke-width="3.5"/>
<line class="C2" x1="352.1" y1="546.9" x2="344.1" y2="545.8" stroke-width="1.7"/>
<line class="H2" x1="344.1" y1="545.8" x2="336.2" y2="544.6" stroke-width="1.7"/>
<line class="C0" x1="387.2" y1="544.6" x2="395.7" y2="542.9" stroke-width="5.2"/>
<line class="H0" x1="395.7" y1="542.9" x2="404.2" y2="541.2" stroke-width="5.2"/>
<line class="C1" x1="387.2" y1="544.6" x2="395.7" y2="542.9" stroke-width="3.5"/>
<line class="H1" x1="395.7" y1="542.9" x2="404.2" y2="541.2" stroke-width="3.5"/>
<line class="C2" x1="387.2" y1="544.6" x2="395.7" y2="542.9" stroke-width="1.7"/>
<line class="H2" x1="395.7" y1="542.9" x2="404.2" y2="541.2" stroke-width="1.7"/>
<line class="C0" x1="374.7" y1="533.3" x2="375.3" y2="523.7" stroke-width="5.2"/>
<line class="C0" x1="375.3" y1="523.7" x2="375.9" y2="514.1" stroke-width="5.2"/>
<line class="C1" x1="374.7" y1="533.3" x2="375.3" y2="523.7" stroke-width="3.5"/>
<line class="C1" x1="375.3" y1="523.7" x2="375.9" y2="514.1" stroke-width="3.5"/>
<line class="C2" x1="374.7" y1="533.3" x2="375.3" y2="523.7" stroke-width="1.7"/>
<line class="C2" x1="375.3" y1="523.7" x2="375.9" y2="514.1" stroke-width="1.7"/>
<line class="N0" x1="357.7" y1="565.0" x2="367.9" y2="565.0" stroke-width="5.2"/>
<line class="N0" x1="367.9" y1="565.0" x2="378.1" y2="565.0" stroke-width="5.2"/>
<line class="N1" x1="357.7" y1="565.0" x2="367.9" y2="565.0" stroke-width="3.5"/>
<line class="N1" x1="367.9" y1="565.0" x2="378.1" y2="565.0" stroke-width="3.5"/>
<line class="N2" x1="357.7" y1="565.0" x2="367.9" y2="565.0" stroke-width="1.7"/>
<line class="N2" x1="367.9" y1="565.0" x2="378.1" y2="565.0" stroke-width="1.7"/>
<line class="N0" x1="378.1" y1="565.0" x2="382.6" y2="554.8" stroke-width="5.2"/>
<line class="C0" x1="382.6" y1="554.8" x2="387.2" y2="544.6" stroke-width="5.2"/>
<line class="N1" x1="378.1" y1="565.0" x2="382.6" y2="554.8" stroke-width="3.5"/>
<line class="C1" x1="382.6" y1="554.8" x2="387.2" y2="544.6" stroke-width="3.5"/>
<line class="N2" x1="378.1" y1="565.0" x2="382.6" y2="554.8" stroke-width="1.7"/>
<line class="C2" x1="382.6" y1="554.8" x2="387.2" y2="544.6" stroke-width="1.7"/>
<line class="C0" x1="387.2" y1="544.6" x2="380.9" y2="539.0" stroke-width="5.8"/>
<line class="C0" x1="380.9" y1="539.0" x2="374.7" y2="533.3" stroke-width="5.8"/>
<line class="C1" x1="387.2" y1="544.6" x2="380.9" y2="539.0" stroke-width="3.9"/>
<line class="C1" x1="380.9" y1="539.0" x2="374.7" y2="533.3" stroke-width="3.9"/>
<line class="C2" x1="387.2" y1="544.6" x2="380.9" y2="539.0" stroke-width="1.9"/>
<line class="C2" x1="380.9" y1="539.0" x2="374.7" y2="533.3" stroke-width="1.9"/>
<line class="C0" x1="374.7" y1="533.3" x2="363.4" y2="540.1" stroke-width="6.4"/>
<line class="C0" x1="363.4" y1="540.1" x2="352.1" y2="546.9" stroke-width="6.4"/>
<line class="C1" x1="374.7" y1="533.3" x2="363.4" y2="540.1" stroke-width="4.4"/>
<line class="C1" x1="363.4" y1="540.1" x2="352.1" y2="546.9" stroke-width="4.4"/>
<line class="C2" x1="374.7" y1="533.3" x2="363.4" y2="540.1" stroke-width="2.0"/>
<line class="C2" x1="363.4" y1="540.1" x2="352.1" y2="546.9" stroke-width="2.0"/>
<line class="C0" x1="352.1" y1="546.9" x2="354.9" y2="556.0" stroke-width="5.2"/>
<line class="N0" x1="354.9" y1="556.0" x2="357.7" y2="565.0" stroke-width="5.2"/>
<line class="C1" x1="352.1" y1="546.9" x2="354.9" y2="556.0" stroke-width="3.5"/>
<line class="N1" x1="354.9" y1="556.0" x2="357.7" y2="565.0" stroke-width="3.5"/>
<line class="C2" x1="352.1" y1="546.9" x2="354.9" y2="556.0" stroke-width="1.7"/>
<line class="N2" x1="354.9" y1="556.0" x2="357.7" y2="565.0" stroke-width="1.7"/>
<line class="N0" x1="357.7" y1="565.0" x2="348.1" y2="576.9" stroke-width="4.4"/>
<line class="F0" x1="348.1" y1="576.9" x2="338.5" y2="588.8" stroke-width="4.4"/>
<line class="N1" x1="357.7" y1="565.0" x2="348.1" y2="576.9" stroke-width="3.0"/>
<line class="F1" x1="348.1" y1="576.9" x2="338.5" y2="588.8" stroke-width="3.0"/>
<line class="N2" x1="357.7" y1="565.0" x2="348.1" y2="576.9" stroke-width="1.4"/>
<line class="F2" x1="348.1" y1="576.9" x2="338.5" y2="588.8" stroke-width="1.4"/>
<line class="N0" x1="378.1" y1="565.0" x2="381.0" y2="572.4" stroke-width="5.2"/>
<line class="B0" x1="381.0" y1="572.4" x2="383.8" y2="579.7" stroke-width="5.2"/>
<line class="N1" x1="378.1" y1="565.0" x2="381.0" y2="572.4" stroke-width="3.5"/>
<line class="B1" x1="381.0" y1="572.4" x2="383.8" y2="579.7" stroke-width="3.5"/>
<line class="N2" x1="378.1" y1="565.0" x2="381.0" y2="572.4" stroke-width="1.7"/>
<line class="B2" x1="381.0" y1="572.4" x2="383.8" y2="579.7" stroke-width="1.7"/>
<line class="C0" x1="339.6" y1="579.7" x2="369.6" y2="579.2" stroke-width="5.2"/>
<line class="H0" x1="369.6" y1="579.2" x2="399.6" y2="578.6" stroke-width="5.2"/>
<line class="C1" x1="339.6" y1="579.7" x2="369.6" y2="579.2" stroke-width="3.5"/>
<line class="H1" x1="369.6" y1="579.2" x2="399.6" y2="578.6" stroke-width="3.5"/>
<line class="C2" x1="339.6" y1="579.7" x2="369.6" y2="579.2" stroke-width="1.7"/>
<line class="H2" x1="369.6" y1="579.2" x2="399.6" y2="578.6" stroke-width="1.7"/>
<line class="F0" x1="338.5" y1="588.8" x2="343.1" y2="585.4" stroke-width="4.4"/>
<line class="N0" x1="343.1" y1="585.4" x2="347.6" y2="582.0" stroke-width="4.4"/>
<line class="F1" x1="338.5" y1="588.8" x2="343.1" y2="585.4" stroke-width="3.0"/>
<line class="N1" x1="343.1" y1="585.4" x2="347.6" y2="582.0" stroke-width="3.0"/>
<line class="F2" x1="338.5" y1="588.8" x2="343.1" y2="585.4" stroke-width="1.4"/>
<line class="N2" x1="343.1" y1="585.4" x2="347.6" y2="582.0" stroke-width="1.4"/>
<line class="N0" x1="347.6" y1="582.0" x2="363.3" y2="580.5" stroke-width="5.2"/>
<line class="N0" x1="363.3" y1="580.5" x2="379.0" y2="579.0" stroke-width="5.2"/>
<line class="N1" x1="347.6" y1="582.0" x2="363.3" y2="580.5" stroke-width="3.5"/>
<line class="N1" x1="363.3" y1="580.5" x2="379.0" y2="579.0" stroke-width="3.5"/>
<line class="N2" x1="347.6" y1="582.0" x2="363.3" y2="580.5" stroke-width="1.7"/>
<line class="N2" x1="363.3" y1="580.5" x2="379.0" y2="579.0" stroke-width="1.7"/>
<line class="N0" x1="379.0" y1="579.0" x2="381.4" y2="579.4" stroke-width="5.2"/>
<line class="B0" x1="381.4" y1="579.4" x2="383.8" y2="579.7" stroke-width="5.2"/>
<line class="N1" x1="379.0" y1="579.0" x2="381.4" y2="579.4" stroke-width="3.5"/>
<line class="B1" x1="381.4" y1="579.4" x2="383.8" y2="579.7" stroke-width="3.5"/>
<line class="N2" x1="379.0" y1="579.0" x2="381.4" y2="579.4" stroke-width="1.7"/>
<line class="B2" x1="381.4" y1="579.4" x2="383.8" y2="579.7" stroke-width="1.7"/>
<line class="B0" x1="383.8" y1="579.7" x2="392.9" y2="579.2" stroke-width="5.2"/>
<line class="H0" x1="392.9" y1="579.2" x2="401.9" y2="578.6" stroke-width="5.2"/>
<line class="B1" x1="383.8" y1="579.7" x2="392.9" y2="579.2" stroke-width="3.5"/>
<line class="H1" x1="392.9" y1="579.2" x2="401.9" y2="578.6" stroke-width="3.5"/>
<line class="B2" x1="383.8" y1="579.7" x2="392.9" y2="579.2" stroke-width="1.7"/>
<line class="H2" x1="392.9" y1="579.2" x2="401.9" y2="578.6" stroke-width="1.7"/>
<line class="B0" x1="383.8" y1="579.7" x2="382.6" y2="591.0" stroke-width="5.2"/>
<line class="N0" x1="382.6" y1="591.0" x2="381.5" y2="602.4" stroke-width="5.2"/>
<line class="B1" x1="383.8" y1="579.7" x2="382.6" y2="591.0" stroke-width="3.5"/>
<line class="N1" x1="382.6" y1="591.0" x2="381.5" y2="602.4" stroke-width="3.5"/>
<line class="B2" x1="383.8" y1="579.7" x2="382.6" y2="591.0" stroke-width="1.7"/>
<line class="N2" x1="382.6" y1="591.0" x2="381.5" y2="602.4" stroke-width="1.7"/>
<line class="N0" x1="361.1" y1="608.0" x2="371.3" y2="605.2" stroke-width="5.2"/>
<line class="N0" x1="371.3" y1="605.2" x2="381.5" y2="602.4" stroke-width="5.2"/>
<line class="N1" x1="361.1" y1="608.0" x2="371.3" y2="605.2" stroke-width="3.5"/>
<line class="N1" x1="371.3" y1="605.2" x2="381.5" y2="602.4" stroke-width="3.5"/>
<line class="N2" x1="361.1" y1="608.0" x2="371.3" y2="605.2" stroke-width="1.7"/>
<line class="N2" x1="371.3" y1="605.2" x2="381.5" y2="602.4" stroke-width="1.7"/>
<line class="N0" x1="381.5" y1="602.4" x2="388.9" y2="610.9" stroke-width="5.2"/>
<line class="C0" x1="388.9" y1="610.9" x2="396.2" y2="619.4" stroke-width="5.2"/>
<line class="N1" x1="381.5" y1="602.4" x2="388.9" y2="610.9" stroke-width="3.5"/>
<line class="C1" x1="388.9" y1="610.9" x2="396.2" y2="619.4" stroke-width="3.5"/>
<line class="N2" x1="381.5" y1="602.4" x2="388.9" y2="610.9" stroke-width="1.7"/>
<line class="C2" x1="388.9" y1="610.9" x2="396.2" y2="619.4" stroke-width="1.7"/>
<line class="C0" x1="396.2" y1="619.4" x2="391.1" y2="627.8" stroke-width="5.2"/>
<line class="C0" x1="391.1" y1="627.8" x2="386.0" y2="636.3" stroke-width="5.2"/>
<line class="C1" x1="396.2" y1="619.4" x2="391.1" y2="627.8" stroke-width="3.5"/>
<line class="C1" x1="391.1" y1="627.8" x2="386.0" y2="636.3" stroke-width="3.5"/>
<line class="C2" x1="396.2" y1="619.4" x2="391.1" y2="627.8" stroke-width="1.7"/>
<line class="C2" x1="391.1" y1="627.8" x2="386.0" y2="636.3" stroke-width="1.7"/>
<line class="C0" x1="386.0" y1="636.3" x2="374.1" y2="632.3" stroke-width="5.8"/>
<line class="C0" x1="374.1" y1="632.3" x2="362.3" y2="628.4" stroke-width="5.8"/>
<line class="C1" x1="386.0" y1="636.3" x2="374.1" y2="632.3" stroke-width="3.9"/>
<line class="C1" x1="374.1" y1="632.3" x2="362.3" y2="628.4" stroke-width="3.9"/>
<line class="C2" x1="386.0" y1="636.3" x2="374.1" y2="632.3" stroke-width="1.9"/>
<line class="C2" x1="374.1" y1="632.3" x2="362.3" y2="628.4" stroke-width="1.9"/>
<line class="C0" x1="362.3" y1="628.4" x2="361.7" y2="618.2" stroke-width="5.2"/>
<line class="N0" x1="361.7" y1="618.2" x2="361.1" y2="608.0" stroke-width="5.2"/>
<line class="C1" x1="362.3" y1="628.4" x2="361.7" y2="618.2" stroke-width="3.5"/>
<line class="N1" x1="361.7" y1="618.2" x2="361.1" y2="608.0" stroke-width="3.5"/>
<line class="C2" x1="362.3" y1="628.4" x2="361.7" y2="618.2" stroke-width="1.7"/>
<line class="N2" x1="361.7" y1="618.2" x2="361.1" y2="608.0" stroke-width="1.7"/>
<line class="C0" x1="396.2" y1="619.4" x2="403.6" y2="618.8" stroke-width="5.2"/>
<line class="H0" x1="403.6" y1="618.8" x2="411.0" y2="618.2" stroke-width="5.2"/>
<line class="C1" x1="396.2" y1="619.4" x2="403.6" y2="618.8" stroke-width="3.5"/>
<line class="H1" x1="403.6" y1="618.8" x2="411.0" y2="618.2" stroke-width="3.5"/>
<line class="C2" x1="396.2" y1="619.4" x2="403.6" y2="618.8" stroke-width="1.7"/>
<line class="H2" x1="403.6" y1="618.8" x2="411.0" y2="618.2" stroke-width="1.7"/>
<line class="C0" x1="386.0" y1="636.3" x2="388.3" y2="644.2" stroke-width="5.2"/>
<line class="H0" x1="388.3" y1="644.2" x2="390.6" y2="652.2" stroke-width="5.2"/>
<line class="C1" x1="386.0" y1="636.3" x2="388.3" y2="644.2" stroke-width="3.5"/>
<line class="H1" x1="388.3" y1="644.2" x2="390.6" y2="652.2" stroke-width="3.5"/>
<line class="C2" x1="386.0" y1="636.3" x2="388.3" y2="644.2" stroke-width="1.7"/>
<line class="H2" x1="388.3" y1="644.2" x2="390.6" y2="652.2" stroke-width="1.7"/>
<line class="C0" x1="362.3" y1="628.4" x2="355.5" y2="632.3" stroke-width="5.2"/>
<line class="H0" x1="355.5" y1="632.3" x2="348.7" y2="636.3" stroke-width="5.2"/>
<line class="C1" x1="362.3" y1="628.4" x2="355.5" y2="632.3" stroke-width="3.5"/>
<line class="H1" x1="355.5" y1="632.3" x2="348.7" y2="636.3" stroke-width="3.5"/>
<line class="C2" x1="362.3" y1="628.4" x2="355.5" y2="632.3" stroke-width="1.7"/>
<line class="H2" x1="355.5" y1="632.3" x2="348.7" y2="636.3" stroke-width="1.7"/>
<line class="F0" x1="338.5" y1="588.8" x2="349.8" y2="598.4" stroke-width="4.4"/>
<line class="N0" x1="349.8" y1="598.4" x2="361.1" y2="608.0" stroke-width="4.4"/>
<line class="F1" x1="338.5" y1="588.8" x2="349.8" y2="598.4" stroke-width="3.0"/>
<line class="N1" x1="349.8" y1="598.4" x2="361.1" y2="608.0" stroke-width="3.0"/>
<line class="F2" x1="338.5" y1="588.8" x2="349.8" y2="598.4" stroke-width="1.4"/>
<line class="N2" x1="349.8" y1="598.4" x2="361.1" y2="608.0" stroke-width="1.4"/>
<line class="C0" x1="311.3" y1="602.4" x2="305.1" y2="619.2" stroke-width="5.2"/>
<line class="C0" x1="305.1" y1="619.2" x2="299.0" y2="636.0" stroke-width="5.2"/>
<line class="C1" x1="311.3" y1="602.4" x2="305.1" y2="619.2" stroke-width="3.5"/>
<line class="C1" x1="305.1" y1="619.2" x2="299.0" y2="636.0" stroke-width="3.5"/>
<line class="C2" x1="311.3" y1="602.4" x2="305.1" y2="619.2" stroke-width="1.7"/>
<line class="C2" x1="305.1" y1="619.2" x2="299.0" y2="636.0" stroke-width="1.7"/>
<line class="C0" x1="299.0" y1="636.0" x2="291.0" y2="628.4" stroke-width="5.2"/>
<line class="H0" x1="291.0" y1="628.4" x2="283.0" y2="620.7" stroke-width="5.2"/>
<line class="C1" x1="299.0" y1="636.0" x2="291.0" y2="628.4" stroke-width="3.5"/>
<line class="H1" x1="291.0" y1="628.4" x2="283.0" y2="620.7" stroke-width="3.5"/>
<line class="C2" x1="299.0" y1="636.0" x2="291.0" y2="628.4" stroke-width="1.7"/>
<line class="H2" x1="291.0" y1="628.4" x2="283.0" y2="620.7" stroke-width="1.7"/>
<line class="C0" x1="299.0" y1="636.0" x2="306.4" y2="630.6" stroke-width="5.2"/>
<line class="H0" x1="306.4" y1="630.6" x2="313.7" y2="625.2" stroke-width="5.2"/>
<line class="C1" x1="299.0" y1="636.0" x2="306.4" y2="630.6" stroke-width="3.5"/>
<line class="H1" x1="306.4" y1="630.6" x2="313.7" y2="625.2" stroke-width="3.5"/>
<line class="C2" x1="299.0" y1="636.0" x2="306.4" y2="630.6" stroke-width="1.7"/>
<line class="H2" x1="306.4" y1="630.6" x2="313.7" y2="625.2" stroke-width="1.7"/>
<line class="C0" x1="299.0" y1="636.0" x2="298.4" y2="638.5" stroke-width="5.2"/>
<line class="H0" x1="298.4" y1="638.5" x2="297.8" y2="641.0" stroke-width="5.2"/>
<line class="C1" x1="299.0" y1="636.0" x2="298.4" y2="638.5" stroke-width="3.5"/>
<line class="H1" x1="298.4" y1="638.5" x2="297.8" y2="641.0" stroke-width="3.5"/>
<line class="C2" x1="299.0" y1="636.0" x2="298.4" y2="638.5" stroke-width="1.7"/>
<line class="H2" x1="298.4" y1="638.5" x2="297.8" y2="641.0" stroke-width="1.7"/>
<line class="F0" x1="281.9" y1="583.2" x2="285.9" y2="592.9" stroke-width="3.8"/>
<line class="O0" x1="285.9" y1="592.9" x2="289.8" y2="602.5" stroke-width="3.8"/>
<line class="F1" x1="281.9" y1="583.2" x2="285.9" y2="592.9" stroke-width="2.6"/>
<line class="O1" x1="285.9" y1="592.9" x2="289.8" y2="602.5" stroke-width="2.6"/>
<line class="F2" x1="281.9" y1="583.2" x2="285.9" y2="592.9" stroke-width="1.2"/>
<line class="O2" x1="285.9" y1="592.9" x2="289.8" y2="602.5" stroke-width="1.2"/>
<line class="O0" x1="289.8" y1="602.5" x2="296.1" y2="604.2" stroke-width="3.8"/>
<line class="C0" x1="296.1" y1="604.2" x2="302.3" y2="605.9" stroke-width="3.8"/>
<line class="O1" x1="289.8" y1="602.5" x2="296.1" y2="604.2" stroke-width="2.6"/>
<line class="C1" x1="296.1" y1="604.2" x2="302.3" y2="605.9" stroke-width="2.6"/>
<line class="O2" x1="289.8" y1="602.5" x2="296.1" y2="604.2" stroke-width="1.2"/>
<line class="C2" x1="296.1" y1="604.2" x2="302.3" y2="605.9" stroke-width="1.2"/>
<line class="C0" x1="302.3" y1="605.9" x2="313.6" y2="607.0" stroke-width="3.8"/>
<line class="O0" x1="313.6" y1="607.0" x2="324.9" y2="608.0" stroke-width="3.8"/>
<line class="C1" x1="302.3" y1="605.9" x2="313.6" y2="607.0" stroke-width="2.6"/>
<line class="O1" x1="313.6" y1="607.0" x2="324.9" y2="608.0" stroke-width="2.6"/>
<line class="C2" x1="302.3" y1="605.9" x2="313.6" y2="607.0" stroke-width="1.2"/>
<line class="O2" x1="313.6" y1="607.0" x2="324.9" y2="608.0" stroke-width="1.2"/>
<line class="O0" x1="324.9" y1="608.0" x2="331.7" y2="598.4" stroke-width="3.8"/>
<line class="F0" x1="331.7" y1="598.4" x2="338.5" y2="588.8" stroke-width="3.8"/>
<line class="O1" x1="324.9" y1="608.0" x2="331.7" y2="598.4" stroke-width="2.6"/>
<line class="F1" x1="331.7" y1="598.4" x2="338.5" y2="588.8" stroke-width="2.6"/>
<line class="O2" x1="324.9" y1="608.0" x2="331.7" y2="598.4" stroke-width="1.2"/>
<line class="F2" x1="331.7" y1="598.4" x2="338.5" y2="588.8" stroke-width="1.2"/>
<line class="F0" x1="281.9" y1="583.2" x2="288.9" y2="590.6" stroke-width="3.8"/>
<line class="O0" x1="288.9" y1="590.6" x2="296.0" y2="598.0" stroke-width="3.8"/>
<line class="F1" x1="281.9" y1="583.2" x2="288.9" y2="590.6" stroke-width="2.6"/>
<line class="O1" x1="288.9" y1="590.6" x2="296.0" y2="598.0" stroke-width="2.6"/>
<line class="F2" x1="281.9" y1="583.2" x2="288.9" y2="590.6" stroke-width="1.2"/>
<line class="O2" x1="288.9" y1="590.6" x2="296.0" y2="598.0" stroke-width="1.2"/>
<line class="O0" x1="296.0" y1="598.0" x2="303.6" y2="600.2" stroke-width="3.8"/>
<line class="C0" x1="303.6" y1="600.2" x2="311.3" y2="602.4" stroke-width="3.8"/>
<line class="O1" x1="296.0" y1="598.0" x2="303.6" y2="600.2" stroke-width="2.6"/>
<line class="C1" x1="303.6" y1="600.2" x2="311.3" y2="602.4" stroke-width="2.6"/>
<line class="O2" x1="296.0" y1="598.0" x2="303.6" y2="600.2" stroke-width="1.2"/>
<line class="C2" x1="303.6" y1="600.2" x2="311.3" y2="602.4" stroke-width="1.2"/>
<line class="C0" x1="311.3" y1="602.4" x2="320.6" y2="601.2" stroke-width="3.8"/>
<line class="O0" x1="320.6" y1="601.2" x2="330.0" y2="600.0" stroke-width="3.8"/>
<line class="C1" x1="311.3" y1="602.4" x2="320.6" y2="601.2" stroke-width="2.6"/>
<line class="O1" x1="320.6" y1="601.2" x2="330.0" y2="600.0" stroke-width="2.6"/>
<line class="C2" x1="311.3" y1="602.4" x2="320.6" y2="601.2" stroke-width="1.2"/>
<line class="O2" x1="320.6" y1="601.2" x2="330.0" y2="600.0" stroke-width="1.2"/>
<line class="O0" x1="330.0" y1="600.0" x2="334.2" y2="594.4" stroke-width="3.8"/>
<line class="F0" x1="334.2" y1="594.4" x2="338.5" y2="588.8" stroke-width="3.8"/>
<line class="O1" x1="330.0" y1="600.0" x2="334.2" y2="594.4" stroke-width="2.6"/>
<line class="F1" x1="334.2" y1="594.4" x2="338.5" y2="588.8" stroke-width="2.6"/>
<line class="O2" x1="330.0" y1="600.0" x2="334.2" y2="594.4" stroke-width="1.2"/>
<line class="F2" x1="334.2" y1="594.4" x2="338.5" y2="588.8" stroke-width="1.2"/>
<line class="F0" x1="281.9" y1="583.2" x2="293.2" y2="573.6" stroke-width="3.8"/>
<line class="O0" x1="293.2" y1="573.6" x2="304.6" y2="564.0" stroke-width="3.8"/>
<line class="F1" x1="281.9" y1="583.2" x2="293.2" y2="573.6" stroke-width="2.6"/>
<line class="O1" x1="293.2" y1="573.6" x2="304.6" y2="564.0" stroke-width="2.6"/>
<line class="F2" x1="281.9" y1="583.2" x2="293.2" y2="573.6" stroke-width="1.2"/>
<line class="O2" x1="293.2" y1="573.6" x2="304.6" y2="564.0" stroke-width="1.2"/>
<line class="O0" x1="304.6" y1="564.0" x2="312.5" y2="565.6" stroke-width="3.8"/>
<line class="O0" x1="312.5" y1="565.6" x2="320.4" y2="567.3" stroke-width="3.8"/>
<line class="O1" x1="304.6" y1="564.0" x2="312.5" y2="565.6" stroke-width="2.6"/>
<line class="O1" x1="312.5" y1="565.6" x2="320.4" y2="567.3" stroke-width="2.6"/>
<line class="O2" x1="304.6" y1="564.0" x2="312.5" y2="565.6" stroke-width="1.2"/>
<line class="O2" x1="312.5" y1="565.6" x2="320.4" y2="567.3" stroke-width="1.2"/>
<line class="O0" x1="320.4" y1="567.3" x2="329.4" y2="578.0" stroke-width="3.8"/>
<line class="F0" x1="329.4" y1="578.0" x2="338.5" y2="588.8" stroke-width="3.8"/>
<line class="O1" x1="320.4" y1="567.3" x2="329.4" y2="578.0" stroke-width="2.6"/>
<line class="F1" x1="329.4" y1="578.0" x2="338.5" y2="588.8" stroke-width="2.6"/>
<line class="O2" x1="320.4" y1="567.3" x2="329.4" y2="578.0" stroke-width="1.2"/>
<line class="F2" x1="329.4" y1="578.0" x2="338.5" y2="588.8" stroke-width="1.2"/></g>
<text x="0" y="0" transform="translate(296,564) rotate(-43)" font-size="16.5" font-weight="bold" fill="#000" text-anchor="middle">1.91</text>
<text x="0" y="0" transform="translate(328.5,568) rotate(47)" font-size="16.5" font-weight="bold" fill="#000" text-anchor="middle">1.90</text><g stroke-linecap="round"><line class="C0" x1="534.9" y1="532.2" x2="537.2" y2="527.7" stroke-width="5.2"/>
<line class="H0" x1="537.2" y1="527.7" x2="539.5" y2="523.1" stroke-width="5.2"/>
<line class="C1" x1="534.9" y1="532.2" x2="537.2" y2="527.7" stroke-width="3.5"/>
<line class="H1" x1="537.2" y1="527.7" x2="539.5" y2="523.1" stroke-width="3.5"/>
<line class="C2" x1="534.9" y1="532.2" x2="537.2" y2="527.7" stroke-width="1.7"/>
<line class="H2" x1="537.2" y1="527.7" x2="539.5" y2="523.1" stroke-width="1.7"/>
<line class="C0" x1="534.9" y1="532.2" x2="528.7" y2="535.6" stroke-width="5.2"/>
<line class="H0" x1="528.7" y1="535.6" x2="522.5" y2="539.0" stroke-width="5.2"/>
<line class="C1" x1="534.9" y1="532.2" x2="528.7" y2="535.6" stroke-width="3.5"/>
<line class="H1" x1="528.7" y1="535.6" x2="522.5" y2="539.0" stroke-width="3.5"/>
<line class="C2" x1="534.9" y1="532.2" x2="528.7" y2="535.6" stroke-width="1.7"/>
<line class="H2" x1="528.7" y1="535.6" x2="522.5" y2="539.0" stroke-width="1.7"/>
<line class="C0" x1="534.9" y1="532.2" x2="539.5" y2="541.3" stroke-width="5.2"/>
<line class="C0" x1="539.5" y1="541.3" x2="544.0" y2="550.4" stroke-width="5.2"/>
<line class="C1" x1="534.9" y1="532.2" x2="539.5" y2="541.3" stroke-width="3.5"/>
<line class="C1" x1="539.5" y1="541.3" x2="544.0" y2="550.4" stroke-width="3.5"/>
<line class="C2" x1="534.9" y1="532.2" x2="539.5" y2="541.3" stroke-width="1.7"/>
<line class="C2" x1="539.5" y1="541.3" x2="544.0" y2="550.4" stroke-width="1.7"/>
<line class="C0" x1="544.0" y1="550.4" x2="551.4" y2="551.0" stroke-width="3.8"/>
<line class="O0" x1="551.4" y1="551.0" x2="558.8" y2="551.5" stroke-width="3.8"/>
<line class="C1" x1="544.0" y1="550.4" x2="551.4" y2="551.0" stroke-width="2.6"/>
<line class="O1" x1="551.4" y1="551.0" x2="558.8" y2="551.5" stroke-width="2.6"/>
<line class="C2" x1="544.0" y1="550.4" x2="551.4" y2="551.0" stroke-width="1.2"/>
<line class="O2" x1="551.4" y1="551.0" x2="558.8" y2="551.5" stroke-width="1.2"/>
<line class="H0" x1="421.8" y1="524.2" x2="426.3" y2="530.6" stroke-width="5.2"/>
<line class="C0" x1="426.3" y1="530.6" x2="430.8" y2="537.0" stroke-width="5.2"/>
<line class="H1" x1="421.8" y1="524.2" x2="426.3" y2="530.6" stroke-width="3.5"/>
<line class="C1" x1="426.3" y1="530.6" x2="430.8" y2="537.0" stroke-width="3.5"/>
<line class="H2" x1="421.8" y1="524.2" x2="426.3" y2="530.6" stroke-width="1.7"/>
<line class="C2" x1="426.3" y1="530.6" x2="430.8" y2="537.0" stroke-width="1.7"/>
<line class="K0" x1="430.8" y1="537.0" x2="441.4" y2="539.0" stroke-width="5.8"/>
<line class="K0" x1="441.4" y1="539.0" x2="452.0" y2="541.0" stroke-width="5.8"/>
<line class="K1" x1="430.8" y1="537.0" x2="441.4" y2="539.0" stroke-width="3.9"/>
<line class="K1" x1="441.4" y1="539.0" x2="452.0" y2="541.0" stroke-width="3.9"/>
<line class="K2" x1="430.8" y1="537.0" x2="441.4" y2="539.0" stroke-width="1.9"/>
<line class="K2" x1="441.4" y1="539.0" x2="452.0" y2="541.0" stroke-width="1.9"/>
<line class="C0" x1="452.0" y1="541.0" x2="455.6" y2="536.5" stroke-width="5.2"/>
<line class="H0" x1="455.6" y1="536.5" x2="459.1" y2="532.0" stroke-width="5.2"/>
<line class="C1" x1="452.0" y1="541.0" x2="455.6" y2="536.5" stroke-width="3.5"/>
<line class="H1" x1="455.6" y1="536.5" x2="459.1" y2="532.0" stroke-width="3.5"/>
<line class="C2" x1="452.0" y1="541.0" x2="455.6" y2="536.5" stroke-width="1.7"/>
<line class="H2" x1="455.6" y1="536.5" x2="459.1" y2="532.0" stroke-width="1.7"/>
<line class="C0" x1="452.0" y1="541.0" x2="458.0" y2="551.7" stroke-width="5.2"/>
<line class="N0" x1="458.0" y1="551.7" x2="464.0" y2="562.4" stroke-width="5.2"/>
<line class="C1" x1="452.0" y1="541.0" x2="458.0" y2="551.7" stroke-width="3.5"/>
<line class="N1" x1="458.0" y1="551.7" x2="464.0" y2="562.4" stroke-width="3.5"/>
<line class="C2" x1="452.0" y1="541.0" x2="458.0" y2="551.7" stroke-width="1.7"/>
<line class="N2" x1="458.0" y1="551.7" x2="464.0" y2="562.4" stroke-width="1.7"/>
<line class="N0" x1="464.0" y1="562.4" x2="457.8" y2="564.8" stroke-width="5.2"/>
<line class="N0" x1="457.8" y1="564.8" x2="451.5" y2="567.3" stroke-width="5.2"/>
<line class="N1" x1="464.0" y1="562.4" x2="457.8" y2="564.8" stroke-width="3.5"/>
<line class="N1" x1="457.8" y1="564.8" x2="451.5" y2="567.3" stroke-width="3.5"/>
<line class="N2" x1="464.0" y1="562.4" x2="457.8" y2="564.8" stroke-width="1.7"/>
<line class="N2" x1="457.8" y1="564.8" x2="451.5" y2="567.3" stroke-width="1.7"/>
<line class="N0" x1="451.5" y1="567.3" x2="442.8" y2="560.6" stroke-width="5.2"/>
<line class="C0" x1="442.8" y1="560.6" x2="434.0" y2="554.0" stroke-width="5.2"/>
<line class="N1" x1="451.5" y1="567.3" x2="442.8" y2="560.6" stroke-width="3.5"/>
<line class="C1" x1="442.8" y1="560.6" x2="434.0" y2="554.0" stroke-width="3.5"/>
<line class="N2" x1="451.5" y1="567.3" x2="442.8" y2="560.6" stroke-width="1.7"/>
<line class="C2" x1="442.8" y1="560.6" x2="434.0" y2="554.0" stroke-width="1.7"/>
<line class="C0" x1="434.0" y1="554.0" x2="432.4" y2="545.5" stroke-width="5.2"/>
<line class="C0" x1="432.4" y1="545.5" x2="430.8" y2="537.0" stroke-width="5.2"/>
<line class="C1" x1="434.0" y1="554.0" x2="432.4" y2="545.5" stroke-width="3.5"/>
<line class="C1" x1="432.4" y1="545.5" x2="430.8" y2="537.0" stroke-width="3.5"/>
<line class="C2" x1="434.0" y1="554.0" x2="432.4" y2="545.5" stroke-width="1.7"/>
<line class="C2" x1="432.4" y1="545.5" x2="430.8" y2="537.0" stroke-width="1.7"/>
<line class="C0" x1="434.0" y1="554.0" x2="429.0" y2="556.0" stroke-width="5.2"/>
<line class="H0" x1="429.0" y1="556.0" x2="424.0" y2="558.0" stroke-width="5.2"/>
<line class="C1" x1="434.0" y1="554.0" x2="429.0" y2="556.0" stroke-width="3.5"/>
<line class="H1" x1="429.0" y1="556.0" x2="424.0" y2="558.0" stroke-width="3.5"/>
<line class="C2" x1="434.0" y1="554.0" x2="429.0" y2="556.0" stroke-width="1.7"/>
<line class="H2" x1="429.0" y1="556.0" x2="424.0" y2="558.0" stroke-width="1.7"/>
<line class="N0" x1="464.0" y1="562.4" x2="477.6" y2="572.5" stroke-width="4.4"/>
<line class="F0" x1="477.6" y1="572.5" x2="491.3" y2="582.5" stroke-width="4.4"/>
<line class="N1" x1="464.0" y1="562.4" x2="477.6" y2="572.5" stroke-width="3.0"/>
<line class="F1" x1="477.6" y1="572.5" x2="491.3" y2="582.5" stroke-width="3.0"/>
<line class="N2" x1="464.0" y1="562.4" x2="477.6" y2="572.5" stroke-width="1.4"/>
<line class="F2" x1="477.6" y1="572.5" x2="491.3" y2="582.5" stroke-width="1.4"/>
<line class="N0" x1="451.5" y1="567.3" x2="455.9" y2="576.6" stroke-width="5.2"/>
<line class="B0" x1="455.9" y1="576.6" x2="460.2" y2="586.0" stroke-width="5.2"/>
<line class="N1" x1="451.5" y1="567.3" x2="455.9" y2="576.6" stroke-width="3.5"/>
<line class="B1" x1="455.9" y1="576.6" x2="460.2" y2="586.0" stroke-width="3.5"/>
<line class="N2" x1="451.5" y1="567.3" x2="455.9" y2="576.6" stroke-width="1.7"/>
<line class="B2" x1="455.9" y1="576.6" x2="460.2" y2="586.0" stroke-width="1.7"/>
<line class="F0" x1="491.3" y1="582.5" x2="498.6" y2="581.2" stroke-width="4.4"/>
<line class="N0" x1="498.6" y1="581.2" x2="506.0" y2="580.0" stroke-width="4.4"/>
<line class="F1" x1="491.3" y1="582.5" x2="498.6" y2="581.2" stroke-width="3.0"/>
<line class="N1" x1="498.6" y1="581.2" x2="506.0" y2="580.0" stroke-width="3.0"/>
<line class="F2" x1="491.3" y1="582.5" x2="498.6" y2="581.2" stroke-width="1.4"/>
<line class="N2" x1="498.6" y1="581.2" x2="506.0" y2="580.0" stroke-width="1.4"/>
<line class="N0" x1="506.0" y1="580.0" x2="512.5" y2="577.6" stroke-width="5.2"/>
<line class="H0" x1="512.5" y1="577.6" x2="519.0" y2="575.2" stroke-width="5.2"/>
<line class="N1" x1="506.0" y1="580.0" x2="512.5" y2="577.6" stroke-width="3.5"/>
<line class="H1" x1="512.5" y1="577.6" x2="519.0" y2="575.2" stroke-width="3.5"/>
<line class="N2" x1="506.0" y1="580.0" x2="512.5" y2="577.6" stroke-width="1.7"/>
<line class="H2" x1="512.5" y1="577.6" x2="519.0" y2="575.2" stroke-width="1.7"/>
<line class="B0" x1="460.2" y1="586.0" x2="468.1" y2="584.0" stroke-width="5.2"/>
<line class="N0" x1="468.1" y1="584.0" x2="476.0" y2="582.0" stroke-width="5.2"/>
<line class="B1" x1="460.2" y1="586.0" x2="468.1" y2="584.0" stroke-width="3.5"/>
<line class="N1" x1="468.1" y1="584.0" x2="476.0" y2="582.0" stroke-width="3.5"/>
<line class="B2" x1="460.2" y1="586.0" x2="468.1" y2="584.0" stroke-width="1.7"/>
<line class="N2" x1="468.1" y1="584.0" x2="476.0" y2="582.0" stroke-width="1.7"/>
<line class="N0" x1="476.0" y1="582.0" x2="483.6" y2="582.2" stroke-width="4.4"/>
<line class="F0" x1="483.6" y1="582.2" x2="491.3" y2="582.5" stroke-width="4.4"/>
<line class="N1" x1="476.0" y1="582.0" x2="483.6" y2="582.2" stroke-width="3.0"/>
<line class="F1" x1="483.6" y1="582.2" x2="491.3" y2="582.5" stroke-width="3.0"/>
<line class="N2" x1="476.0" y1="582.0" x2="483.6" y2="582.2" stroke-width="1.4"/>
<line class="F2" x1="483.6" y1="582.2" x2="491.3" y2="582.5" stroke-width="1.4"/>
<line class="C0" x1="444.1" y1="578.5" x2="434.8" y2="582.9" stroke-width="5.2"/>
<line class="H0" x1="434.8" y1="582.9" x2="425.5" y2="587.2" stroke-width="5.2"/>
<line class="C1" x1="444.1" y1="578.5" x2="434.8" y2="582.9" stroke-width="3.5"/>
<line class="H1" x1="434.8" y1="582.9" x2="425.5" y2="587.2" stroke-width="3.5"/>
<line class="C2" x1="444.1" y1="578.5" x2="434.8" y2="582.9" stroke-width="1.7"/>
<line class="H2" x1="434.8" y1="582.9" x2="425.5" y2="587.2" stroke-width="1.7"/>
<line class="C0" x1="444.1" y1="578.5" x2="436.1" y2="577.2" stroke-width="5.2"/>
<line class="H0" x1="436.1" y1="577.2" x2="428.0" y2="576.0" stroke-width="5.2"/>
<line class="C1" x1="444.1" y1="578.5" x2="436.1" y2="577.2" stroke-width="3.5"/>
<line class="H1" x1="436.1" y1="577.2" x2="428.0" y2="576.0" stroke-width="3.5"/>
<line class="C2" x1="444.1" y1="578.5" x2="436.1" y2="577.2" stroke-width="1.7"/>
<line class="H2" x1="436.1" y1="577.2" x2="428.0" y2="576.0" stroke-width="1.7"/>
<line class="C0" x1="444.1" y1="578.5" x2="448.1" y2="568.0" stroke-width="5.2"/>
<line class="H0" x1="448.1" y1="568.0" x2="452.0" y2="557.4" stroke-width="5.2"/>
<line class="C1" x1="444.1" y1="578.5" x2="448.1" y2="568.0" stroke-width="3.5"/>
<line class="H1" x1="448.1" y1="568.0" x2="452.0" y2="557.4" stroke-width="3.5"/>
<line class="C2" x1="444.1" y1="578.5" x2="448.1" y2="568.0" stroke-width="1.7"/>
<line class="H2" x1="448.1" y1="568.0" x2="452.0" y2="557.4" stroke-width="1.7"/>
<line class="B0" x1="460.2" y1="586.0" x2="459.9" y2="595.0" stroke-width="5.2"/>
<line class="N0" x1="459.9" y1="595.0" x2="459.5" y2="604.0" stroke-width="5.2"/>
<line class="B1" x1="460.2" y1="586.0" x2="459.9" y2="595.0" stroke-width="3.5"/>
<line class="N1" x1="459.9" y1="595.0" x2="459.5" y2="604.0" stroke-width="3.5"/>
<line class="B2" x1="460.2" y1="586.0" x2="459.9" y2="595.0" stroke-width="1.7"/>
<line class="N2" x1="459.9" y1="595.0" x2="459.5" y2="604.0" stroke-width="1.7"/>
<line class="N0" x1="459.5" y1="604.0" x2="455.4" y2="611.1" stroke-width="5.2"/>
<line class="C0" x1="455.4" y1="611.1" x2="451.2" y2="618.2" stroke-width="5.2"/>
<line class="N1" x1="459.5" y1="604.0" x2="455.4" y2="611.1" stroke-width="3.5"/>
<line class="C1" x1="455.4" y1="611.1" x2="451.2" y2="618.2" stroke-width="3.5"/>
<line class="N2" x1="459.5" y1="604.0" x2="455.4" y2="611.1" stroke-width="1.7"/>
<line class="C2" x1="455.4" y1="611.1" x2="451.2" y2="618.2" stroke-width="1.7"/>
<line class="C0" x1="451.2" y1="618.2" x2="452.4" y2="629.5" stroke-width="5.2"/>
<line class="C0" x1="452.4" y1="629.5" x2="453.5" y2="640.8" stroke-width="5.2"/>
<line class="C1" x1="451.2" y1="618.2" x2="452.4" y2="629.5" stroke-width="3.5"/>
<line class="C1" x1="452.4" y1="629.5" x2="453.5" y2="640.8" stroke-width="3.5"/>
<line class="C2" x1="451.2" y1="618.2" x2="452.4" y2="629.5" stroke-width="1.7"/>
<line class="C2" x1="452.4" y1="629.5" x2="453.5" y2="640.8" stroke-width="1.7"/>
<line class="C0" x1="453.5" y1="640.8" x2="462.6" y2="636.3" stroke-width="5.8"/>
<line class="C0" x1="462.6" y1="636.3" x2="471.6" y2="631.8" stroke-width="5.8"/>
<line class="C1" x1="453.5" y1="640.8" x2="462.6" y2="636.3" stroke-width="3.9"/>
<line class="C1" x1="462.6" y1="636.3" x2="471.6" y2="631.8" stroke-width="3.9"/>
<line class="C2" x1="453.5" y1="640.8" x2="462.6" y2="636.3" stroke-width="1.9"/>
<line class="C2" x1="462.6" y1="636.3" x2="471.6" y2="631.8" stroke-width="1.9"/>
<line class="C0" x1="471.6" y1="631.8" x2="472.8" y2="621.9" stroke-width="5.2"/>
<line class="N0" x1="472.8" y1="621.9" x2="474.0" y2="612.0" stroke-width="5.2"/>
<line class="C1" x1="471.6" y1="631.8" x2="472.8" y2="621.9" stroke-width="3.5"/>
<line class="N1" x1="472.8" y1="621.9" x2="474.0" y2="612.0" stroke-width="3.5"/>
<line class="C2" x1="471.6" y1="631.8" x2="472.8" y2="621.9" stroke-width="1.7"/>
<line class="N2" x1="472.8" y1="621.9" x2="474.0" y2="612.0" stroke-width="1.7"/>
<line class="N0" x1="474.0" y1="612.0" x2="466.8" y2="608.0" stroke-width="5.2"/>
<line class="N0" x1="466.8" y1="608.0" x2="459.5" y2="604.0" stroke-width="5.2"/>
<line class="N1" x1="474.0" y1="612.0" x2="466.8" y2="608.0" stroke-width="3.5"/>
<line class="N1" x1="466.8" y1="608.0" x2="459.5" y2="604.0" stroke-width="3.5"/>
<line class="N2" x1="474.0" y1="612.0" x2="466.8" y2="608.0" stroke-width="1.7"/>
<line class="N2" x1="466.8" y1="608.0" x2="459.5" y2="604.0" stroke-width="1.7"/>
<line class="C0" x1="451.2" y1="618.2" x2="447.6" y2="619.6" stroke-width="5.2"/>
<line class="H0" x1="447.6" y1="619.6" x2="444.0" y2="621.0" stroke-width="5.2"/>
<line class="C1" x1="451.2" y1="618.2" x2="447.6" y2="619.6" stroke-width="3.5"/>
<line class="H1" x1="447.6" y1="619.6" x2="444.0" y2="621.0" stroke-width="3.5"/>
<line class="C2" x1="451.2" y1="618.2" x2="447.6" y2="619.6" stroke-width="1.7"/>
<line class="H2" x1="447.6" y1="619.6" x2="444.0" y2="621.0" stroke-width="1.7"/>
<line class="C0" x1="453.5" y1="640.8" x2="453.5" y2="645.3" stroke-width="5.2"/>
<line class="H0" x1="453.5" y1="645.3" x2="453.5" y2="649.9" stroke-width="5.2"/>
<line class="C1" x1="453.5" y1="640.8" x2="453.5" y2="645.3" stroke-width="3.5"/>
<line class="H1" x1="453.5" y1="645.3" x2="453.5" y2="649.9" stroke-width="3.5"/>
<line class="C2" x1="453.5" y1="640.8" x2="453.5" y2="645.3" stroke-width="1.7"/>
<line class="H2" x1="453.5" y1="645.3" x2="453.5" y2="649.9" stroke-width="1.7"/>
<line class="C0" x1="471.6" y1="631.8" x2="475.6" y2="634.0" stroke-width="5.2"/>
<line class="H0" x1="475.6" y1="634.0" x2="479.5" y2="636.3" stroke-width="5.2"/>
<line class="C1" x1="471.6" y1="631.8" x2="475.6" y2="634.0" stroke-width="3.5"/>
<line class="H1" x1="475.6" y1="634.0" x2="479.5" y2="636.3" stroke-width="3.5"/>
<line class="C2" x1="471.6" y1="631.8" x2="475.6" y2="634.0" stroke-width="1.7"/>
<line class="H2" x1="475.6" y1="634.0" x2="479.5" y2="636.3" stroke-width="1.7"/>
<line class="N0" x1="474.0" y1="612.0" x2="482.6" y2="597.2" stroke-width="4.4"/>
<line class="F0" x1="482.6" y1="597.2" x2="491.3" y2="582.5" stroke-width="4.4"/>
<line class="N1" x1="474.0" y1="612.0" x2="482.6" y2="597.2" stroke-width="3.0"/>
<line class="F1" x1="482.6" y1="597.2" x2="491.3" y2="582.5" stroke-width="3.0"/>
<line class="N2" x1="474.0" y1="612.0" x2="482.6" y2="597.2" stroke-width="1.4"/>
<line class="F2" x1="482.6" y1="597.2" x2="491.3" y2="582.5" stroke-width="1.4"/>
<line class="C0" x1="444.1" y1="578.5" x2="455.9" y2="588.5" stroke-width="6.0"/>
<line class="C0" x1="455.9" y1="588.5" x2="467.7" y2="598.4" stroke-width="6.0"/>
<line class="C1" x1="444.1" y1="578.5" x2="455.9" y2="588.5" stroke-width="4.1"/>
<line class="C1" x1="455.9" y1="588.5" x2="467.7" y2="598.4" stroke-width="4.1"/>
<line class="C2" x1="444.1" y1="578.5" x2="455.9" y2="588.5" stroke-width="1.9"/>
<line class="C2" x1="455.9" y1="588.5" x2="467.7" y2="598.4" stroke-width="1.9"/>
<line class="C0" x1="467.7" y1="598.4" x2="475.1" y2="594.7" stroke-width="3.8"/>
<line class="O0" x1="475.1" y1="594.7" x2="482.6" y2="591.0" stroke-width="3.8"/>
<line class="C1" x1="467.7" y1="598.4" x2="475.1" y2="594.7" stroke-width="2.6"/>
<line class="O1" x1="475.1" y1="594.7" x2="482.6" y2="591.0" stroke-width="2.6"/>
<line class="C2" x1="467.7" y1="598.4" x2="475.1" y2="594.7" stroke-width="1.2"/>
<line class="O2" x1="475.1" y1="594.7" x2="482.6" y2="591.0" stroke-width="1.2"/>
<line class="O0" x1="482.6" y1="591.0" x2="487.0" y2="586.8" stroke-width="3.8"/>
<line class="F0" x1="487.0" y1="586.8" x2="491.3" y2="582.5" stroke-width="3.8"/>
<line class="O1" x1="482.6" y1="591.0" x2="487.0" y2="586.8" stroke-width="2.6"/>
<line class="F1" x1="487.0" y1="586.8" x2="491.3" y2="582.5" stroke-width="2.6"/>
<line class="O2" x1="482.6" y1="591.0" x2="487.0" y2="586.8" stroke-width="1.2"/>
<line class="F2" x1="487.0" y1="586.8" x2="491.3" y2="582.5" stroke-width="1.2"/>
<line class="C0" x1="464.0" y1="600.0" x2="464.0" y2="611.0" stroke-width="3.8"/>
<line class="O0" x1="464.0" y1="611.0" x2="464.0" y2="622.0" stroke-width="3.8"/>
<line class="C1" x1="464.0" y1="600.0" x2="464.0" y2="611.0" stroke-width="2.6"/>
<line class="O1" x1="464.0" y1="611.0" x2="464.0" y2="622.0" stroke-width="2.6"/>
<line class="C2" x1="464.0" y1="600.0" x2="464.0" y2="611.0" stroke-width="1.2"/>
<line class="O2" x1="464.0" y1="611.0" x2="464.0" y2="622.0" stroke-width="1.2"/>
<line class="C0" x1="470.5" y1="600.0" x2="470.5" y2="611.0" stroke-width="3.8"/>
<line class="O0" x1="470.5" y1="611.0" x2="470.5" y2="622.0" stroke-width="3.8"/>
<line class="C1" x1="470.5" y1="600.0" x2="470.5" y2="611.0" stroke-width="2.6"/>
<line class="O1" x1="470.5" y1="611.0" x2="470.5" y2="622.0" stroke-width="2.6"/>
<line class="C2" x1="470.5" y1="600.0" x2="470.5" y2="611.0" stroke-width="1.2"/>
<line class="O2" x1="470.5" y1="611.0" x2="470.5" y2="622.0" stroke-width="1.2"/>
<line class="C0" x1="582.6" y1="542.4" x2="576.4" y2="536.8" stroke-width="5.2"/>
<line class="H0" x1="576.4" y1="536.8" x2="570.1" y2="531.1" stroke-width="5.2"/>
<line class="C1" x1="582.6" y1="542.4" x2="576.4" y2="536.8" stroke-width="3.5"/>
<line class="H1" x1="576.4" y1="536.8" x2="570.1" y2="531.1" stroke-width="3.5"/>
<line class="C2" x1="582.6" y1="542.4" x2="576.4" y2="536.8" stroke-width="1.7"/>
<line class="H2" x1="576.4" y1="536.8" x2="570.1" y2="531.1" stroke-width="1.7"/>
<line class="C0" x1="614.3" y1="562.8" x2="624.0" y2="565.6" stroke-width="5.2"/>
<line class="H0" x1="624.0" y1="565.6" x2="633.6" y2="568.5" stroke-width="5.2"/>
<line class="C1" x1="614.3" y1="562.8" x2="624.0" y2="565.6" stroke-width="3.5"/>
<line class="H1" x1="624.0" y1="565.6" x2="633.6" y2="568.5" stroke-width="3.5"/>
<line class="C2" x1="614.3" y1="562.8" x2="624.0" y2="565.6" stroke-width="1.7"/>
<line class="H2" x1="624.0" y1="565.6" x2="633.6" y2="568.5" stroke-width="1.7"/>
<line class="C0" x1="607.5" y1="539.0" x2="613.8" y2="530.5" stroke-width="5.2"/>
<line class="C0" x1="613.8" y1="530.5" x2="620.0" y2="522.0" stroke-width="5.2"/>
<line class="C1" x1="607.5" y1="539.0" x2="613.8" y2="530.5" stroke-width="3.5"/>
<line class="C1" x1="613.8" y1="530.5" x2="620.0" y2="522.0" stroke-width="3.5"/>
<line class="C2" x1="607.5" y1="539.0" x2="613.8" y2="530.5" stroke-width="1.7"/>
<line class="C2" x1="613.8" y1="530.5" x2="620.0" y2="522.0" stroke-width="1.7"/>
<line class="N0" x1="574.6" y1="565.1" x2="585.4" y2="570.2" stroke-width="5.2"/>
<line class="N0" x1="585.4" y1="570.2" x2="596.2" y2="575.3" stroke-width="5.2"/>
<line class="N1" x1="574.6" y1="565.1" x2="585.4" y2="570.2" stroke-width="3.5"/>
<line class="N1" x1="585.4" y1="570.2" x2="596.2" y2="575.3" stroke-width="3.5"/>
<line class="N2" x1="574.6" y1="565.1" x2="585.4" y2="570.2" stroke-width="1.7"/>
<line class="N2" x1="585.4" y1="570.2" x2="596.2" y2="575.3" stroke-width="1.7"/>
<line class="N0" x1="596.2" y1="575.3" x2="605.2" y2="569.0" stroke-width="5.2"/>
<line class="C0" x1="605.2" y1="569.0" x2="614.3" y2="562.8" stroke-width="5.2"/>
<line class="N1" x1="596.2" y1="575.3" x2="605.2" y2="569.0" stroke-width="3.5"/>
<line class="C1" x1="605.2" y1="569.0" x2="614.3" y2="562.8" stroke-width="3.5"/>
<line class="N2" x1="596.2" y1="575.3" x2="605.2" y2="569.0" stroke-width="1.7"/>
<line class="C2" x1="605.2" y1="569.0" x2="614.3" y2="562.8" stroke-width="1.7"/>
<line class="C0" x1="614.3" y1="562.8" x2="610.9" y2="550.9" stroke-width="5.8"/>
<line class="C0" x1="610.9" y1="550.9" x2="607.5" y2="539.0" stroke-width="5.8"/>
<line class="C1" x1="614.3" y1="562.8" x2="610.9" y2="550.9" stroke-width="3.9"/>
<line class="C1" x1="610.9" y1="550.9" x2="607.5" y2="539.0" stroke-width="3.9"/>
<line class="C2" x1="614.3" y1="562.8" x2="610.9" y2="550.9" stroke-width="1.9"/>
<line class="C2" x1="610.9" y1="550.9" x2="607.5" y2="539.0" stroke-width="1.9"/>
<line class="C0" x1="607.5" y1="539.0" x2="595.0" y2="540.7" stroke-width="6.4"/>
<line class="C0" x1="595.0" y1="540.7" x2="582.6" y2="542.4" stroke-width="6.4"/>
<line class="C1" x1="607.5" y1="539.0" x2="595.0" y2="540.7" stroke-width="4.4"/>
<line class="C1" x1="595.0" y1="540.7" x2="582.6" y2="542.4" stroke-width="4.4"/>
<line class="C2" x1="607.5" y1="539.0" x2="595.0" y2="540.7" stroke-width="2.0"/>
<line class="C2" x1="595.0" y1="540.7" x2="582.6" y2="542.4" stroke-width="2.0"/>
<line class="C0" x1="582.6" y1="542.4" x2="578.6" y2="553.8" stroke-width="5.2"/>
<line class="N0" x1="578.6" y1="553.8" x2="574.6" y2="565.1" stroke-width="5.2"/>
<line class="C1" x1="582.6" y1="542.4" x2="578.6" y2="553.8" stroke-width="3.5"/>
<line class="N1" x1="578.6" y1="553.8" x2="574.6" y2="565.1" stroke-width="3.5"/>
<line class="C2" x1="582.6" y1="542.4" x2="578.6" y2="553.8" stroke-width="1.7"/>
<line class="N2" x1="578.6" y1="553.8" x2="574.6" y2="565.1" stroke-width="1.7"/>
<line class="N0" x1="574.6" y1="565.1" x2="559.5" y2="572.3" stroke-width="4.4"/>
<line class="F0" x1="559.5" y1="572.3" x2="544.5" y2="579.5" stroke-width="4.4"/>
<line class="N1" x1="574.6" y1="565.1" x2="559.5" y2="572.3" stroke-width="3.0"/>
<line class="F1" x1="559.5" y1="572.3" x2="544.5" y2="579.5" stroke-width="3.0"/>
<line class="N2" x1="574.6" y1="565.1" x2="559.5" y2="572.3" stroke-width="1.4"/>
<line class="F2" x1="559.5" y1="572.3" x2="544.5" y2="579.5" stroke-width="1.4"/>
<line class="N0" x1="596.2" y1="575.3" x2="596.0" y2="582.9" stroke-width="5.2"/>
<line class="N0" x1="596.0" y1="582.9" x2="595.7" y2="590.5" stroke-width="5.2"/>
<line class="N1" x1="596.2" y1="575.3" x2="596.0" y2="582.9" stroke-width="3.5"/>
<line class="N1" x1="596.0" y1="582.9" x2="595.7" y2="590.5" stroke-width="3.5"/>
<line class="N2" x1="596.2" y1="575.3" x2="596.0" y2="582.9" stroke-width="1.7"/>
<line class="N2" x1="596.0" y1="582.9" x2="595.7" y2="590.5" stroke-width="1.7"/>
<line class="N0" x1="595.7" y1="590.5" x2="594.2" y2="596.8" stroke-width="5.2"/>
<line class="B0" x1="594.2" y1="596.8" x2="592.6" y2="603.0" stroke-width="5.2"/>
<line class="N1" x1="595.7" y1="590.5" x2="594.2" y2="596.8" stroke-width="3.5"/>
<line class="B1" x1="594.2" y1="596.8" x2="592.6" y2="603.0" stroke-width="3.5"/>
<line class="N2" x1="595.7" y1="590.5" x2="594.2" y2="596.8" stroke-width="1.7"/>
<line class="B2" x1="594.2" y1="596.8" x2="592.6" y2="603.0" stroke-width="1.7"/>
<line class="B0" x1="592.6" y1="603.0" x2="602.7" y2="606.9" stroke-width="5.2"/>
<line class="H0" x1="602.7" y1="606.9" x2="612.8" y2="610.7" stroke-width="5.2"/>
<line class="B1" x1="592.6" y1="603.0" x2="602.7" y2="606.9" stroke-width="3.5"/>
<line class="H1" x1="602.7" y1="606.9" x2="612.8" y2="610.7" stroke-width="3.5"/>
<line class="B2" x1="592.6" y1="603.0" x2="602.7" y2="606.9" stroke-width="1.7"/>
<line class="H2" x1="602.7" y1="606.9" x2="612.8" y2="610.7" stroke-width="1.7"/>
<line class="F0" x1="491.3" y1="582.5" x2="499.6" y2="567.5" stroke-width="3.8"/>
<line class="O0" x1="499.6" y1="567.5" x2="507.8" y2="552.5" stroke-width="3.8"/>
<line class="F1" x1="491.3" y1="582.5" x2="499.6" y2="567.5" stroke-width="2.6"/>
<line class="O1" x1="499.6" y1="567.5" x2="507.8" y2="552.5" stroke-width="2.6"/>
<line class="F2" x1="491.3" y1="582.5" x2="499.6" y2="567.5" stroke-width="1.2"/>
<line class="O2" x1="499.6" y1="567.5" x2="507.8" y2="552.5" stroke-width="1.2"/>
<line class="O0" x1="507.8" y1="552.5" x2="505.0" y2="547.5" stroke-width="3.8"/>
<line class="H0" x1="505.0" y1="547.5" x2="502.2" y2="542.4" stroke-width="3.8"/>
<line class="O1" x1="507.8" y1="552.5" x2="505.0" y2="547.5" stroke-width="2.6"/>
<line class="H1" x1="505.0" y1="547.5" x2="502.2" y2="542.4" stroke-width="2.6"/>
<line class="O2" x1="507.8" y1="552.5" x2="505.0" y2="547.5" stroke-width="1.2"/>
<line class="H2" x1="505.0" y1="547.5" x2="502.2" y2="542.4" stroke-width="1.2"/>
<line class="O0" x1="507.8" y1="552.5" x2="519.1" y2="554.9" stroke-width="3.8"/>
<line class="O0" x1="519.1" y1="554.9" x2="530.4" y2="557.2" stroke-width="3.8"/>
<line class="O1" x1="507.8" y1="552.5" x2="519.1" y2="554.9" stroke-width="2.6"/>
<line class="O1" x1="519.1" y1="554.9" x2="530.4" y2="557.2" stroke-width="2.6"/>
<line class="O2" x1="507.8" y1="552.5" x2="519.1" y2="554.9" stroke-width="1.2"/>
<line class="O2" x1="519.1" y1="554.9" x2="530.4" y2="557.2" stroke-width="1.2"/>
<line class="O0" x1="530.4" y1="557.2" x2="537.5" y2="568.4" stroke-width="3.8"/>
<line class="F0" x1="537.5" y1="568.4" x2="544.5" y2="579.5" stroke-width="3.8"/>
<line class="O1" x1="530.4" y1="557.2" x2="537.5" y2="568.4" stroke-width="2.6"/>
<line class="F1" x1="537.5" y1="568.4" x2="544.5" y2="579.5" stroke-width="2.6"/>
<line class="O2" x1="530.4" y1="557.2" x2="537.5" y2="568.4" stroke-width="1.2"/>
<line class="F2" x1="537.5" y1="568.4" x2="544.5" y2="579.5" stroke-width="1.2"/>
<line class="F0" x1="491.3" y1="582.5" x2="505.2" y2="589.0" stroke-width="3.8"/>
<line class="O0" x1="505.2" y1="589.0" x2="519.1" y2="595.6" stroke-width="3.8"/>
<line class="F1" x1="491.3" y1="582.5" x2="505.2" y2="589.0" stroke-width="2.6"/>
<line class="O1" x1="505.2" y1="589.0" x2="519.1" y2="595.6" stroke-width="2.6"/>
<line class="F2" x1="491.3" y1="582.5" x2="505.2" y2="589.0" stroke-width="1.2"/>
<line class="O2" x1="505.2" y1="589.0" x2="519.1" y2="595.6" stroke-width="1.2"/>
<line class="O0" x1="519.1" y1="595.6" x2="531.8" y2="587.5" stroke-width="3.8"/>
<line class="F0" x1="531.8" y1="587.5" x2="544.5" y2="579.5" stroke-width="3.8"/>
<line class="O1" x1="519.1" y1="595.6" x2="531.8" y2="587.5" stroke-width="2.6"/>
<line class="F1" x1="531.8" y1="587.5" x2="544.5" y2="579.5" stroke-width="2.6"/>
<line class="O2" x1="519.1" y1="595.6" x2="531.8" y2="587.5" stroke-width="1.2"/>
<line class="F2" x1="531.8" y1="587.5" x2="544.5" y2="579.5" stroke-width="1.2"/>
<line class="C0" x1="559.0" y1="606.0" x2="568.0" y2="611.0" stroke-width="5.2"/>
<line class="C0" x1="568.0" y1="611.0" x2="577.0" y2="616.0" stroke-width="5.2"/>
<line class="C1" x1="559.0" y1="606.0" x2="568.0" y2="611.0" stroke-width="3.5"/>
<line class="C1" x1="568.0" y1="611.0" x2="577.0" y2="616.0" stroke-width="3.5"/>
<line class="C2" x1="559.0" y1="606.0" x2="568.0" y2="611.0" stroke-width="1.7"/>
<line class="C2" x1="568.0" y1="611.0" x2="577.0" y2="616.0" stroke-width="1.7"/>
<line class="C0" x1="577.0" y1="616.0" x2="588.7" y2="620.4" stroke-width="5.2"/>
<line class="H0" x1="588.7" y1="620.4" x2="600.4" y2="624.7" stroke-width="5.2"/>
<line class="C1" x1="577.0" y1="616.0" x2="588.7" y2="620.4" stroke-width="3.5"/>
<line class="H1" x1="588.7" y1="620.4" x2="600.4" y2="624.7" stroke-width="3.5"/>
<line class="C2" x1="577.0" y1="616.0" x2="588.7" y2="620.4" stroke-width="1.7"/>
<line class="H2" x1="588.7" y1="620.4" x2="600.4" y2="624.7" stroke-width="1.7"/>
<line class="C0" x1="559.0" y1="606.0" x2="565.8" y2="613.8" stroke-width="5.2"/>
<line class="H0" x1="565.8" y1="613.8" x2="572.5" y2="621.6" stroke-width="5.2"/>
<line class="C1" x1="559.0" y1="606.0" x2="565.8" y2="613.8" stroke-width="3.5"/>
<line class="H1" x1="565.8" y1="613.8" x2="572.5" y2="621.6" stroke-width="3.5"/>
<line class="C2" x1="559.0" y1="606.0" x2="565.8" y2="613.8" stroke-width="1.7"/>
<line class="H2" x1="565.8" y1="613.8" x2="572.5" y2="621.6" stroke-width="1.7"/>
<line class="C0" x1="548.0" y1="613.0" x2="554.5" y2="621.5" stroke-width="5.2"/>
<line class="C0" x1="554.5" y1="621.5" x2="561.0" y2="630.0" stroke-width="5.2"/>
<line class="C1" x1="548.0" y1="613.0" x2="554.5" y2="621.5" stroke-width="3.5"/>
<line class="C1" x1="554.5" y1="621.5" x2="561.0" y2="630.0" stroke-width="3.5"/>
<line class="C2" x1="548.0" y1="613.0" x2="554.5" y2="621.5" stroke-width="1.7"/>
<line class="C2" x1="554.5" y1="621.5" x2="561.0" y2="630.0" stroke-width="1.7"/>
<line class="C0" x1="561.0" y1="630.0" x2="571.0" y2="628.8" stroke-width="5.2"/>
<line class="C0" x1="571.0" y1="628.8" x2="581.0" y2="627.5" stroke-width="5.2"/>
<line class="C1" x1="561.0" y1="630.0" x2="571.0" y2="628.8" stroke-width="3.5"/>
<line class="C1" x1="571.0" y1="628.8" x2="581.0" y2="627.5" stroke-width="3.5"/>
<line class="C2" x1="561.0" y1="630.0" x2="571.0" y2="628.8" stroke-width="1.7"/>
<line class="C2" x1="571.0" y1="628.8" x2="581.0" y2="627.5" stroke-width="1.7"/>
<line class="C0" x1="543.0" y1="612.3" x2="532.1" y2="611.1" stroke-width="5.2"/>
<line class="H0" x1="532.1" y1="611.1" x2="521.2" y2="610.0" stroke-width="5.2"/>
<line class="C1" x1="543.0" y1="612.3" x2="532.1" y2="611.1" stroke-width="3.5"/>
<line class="H1" x1="532.1" y1="611.1" x2="521.2" y2="610.0" stroke-width="3.5"/>
<line class="C2" x1="543.0" y1="612.3" x2="532.1" y2="611.1" stroke-width="1.7"/>
<line class="H2" x1="532.1" y1="611.1" x2="521.2" y2="610.0" stroke-width="1.7"/>
<line class="C0" x1="583.3" y1="632.5" x2="594.1" y2="637.9" stroke-width="5.2"/>
<line class="H0" x1="594.1" y1="637.9" x2="605.0" y2="643.3" stroke-width="5.2"/>
<line class="C1" x1="583.3" y1="632.5" x2="594.1" y2="637.9" stroke-width="3.5"/>
<line class="H1" x1="594.1" y1="637.9" x2="605.0" y2="643.3" stroke-width="3.5"/>
<line class="C2" x1="583.3" y1="632.5" x2="594.1" y2="637.9" stroke-width="1.7"/>
<line class="H2" x1="594.1" y1="637.9" x2="605.0" y2="643.3" stroke-width="1.7"/>
<line class="C0" x1="558.5" y1="635.6" x2="556.1" y2="643.4" stroke-width="5.2"/>
<line class="H0" x1="556.1" y1="643.4" x2="553.8" y2="651.1" stroke-width="5.2"/>
<line class="C1" x1="558.5" y1="635.6" x2="556.1" y2="643.4" stroke-width="3.5"/>
<line class="H1" x1="556.1" y1="643.4" x2="553.8" y2="651.1" stroke-width="3.5"/>
<line class="C2" x1="558.5" y1="635.6" x2="556.1" y2="643.4" stroke-width="1.7"/>
<line class="H2" x1="556.1" y1="643.4" x2="553.8" y2="651.1" stroke-width="1.7"/>
<line class="B0" x1="592.6" y1="603.0" x2="588.0" y2="606.9" stroke-width="5.2"/>
<line class="N0" x1="588.0" y1="606.9" x2="583.3" y2="610.7" stroke-width="5.2"/>
<line class="B1" x1="592.6" y1="603.0" x2="588.0" y2="606.9" stroke-width="3.5"/>
<line class="N1" x1="588.0" y1="606.9" x2="583.3" y2="610.7" stroke-width="3.5"/>
<line class="B2" x1="592.6" y1="603.0" x2="588.0" y2="606.9" stroke-width="1.7"/>
<line class="N2" x1="588.0" y1="606.9" x2="583.3" y2="610.7" stroke-width="1.7"/>
<line class="N0" x1="583.3" y1="610.7" x2="583.3" y2="621.6" stroke-width="5.2"/>
<line class="C0" x1="583.3" y1="621.6" x2="583.3" y2="632.5" stroke-width="5.2"/>
<line class="N1" x1="583.3" y1="610.7" x2="583.3" y2="621.6" stroke-width="3.5"/>
<line class="C1" x1="583.3" y1="621.6" x2="583.3" y2="632.5" stroke-width="3.5"/>
<line class="N2" x1="583.3" y1="610.7" x2="583.3" y2="621.6" stroke-width="1.7"/>
<line class="C2" x1="583.3" y1="621.6" x2="583.3" y2="632.5" stroke-width="1.7"/>
<line class="C0" x1="583.3" y1="632.5" x2="570.9" y2="634.0" stroke-width="6.2"/>
<line class="C0" x1="570.9" y1="634.0" x2="558.5" y2="635.6" stroke-width="6.2"/>
<line class="C1" x1="583.3" y1="632.5" x2="570.9" y2="634.0" stroke-width="4.2"/>
<line class="C1" x1="570.9" y1="634.0" x2="558.5" y2="635.6" stroke-width="4.2"/>
<line class="C2" x1="583.3" y1="632.5" x2="570.9" y2="634.0" stroke-width="2.0"/>
<line class="C2" x1="570.9" y1="634.0" x2="558.5" y2="635.6" stroke-width="2.0"/>
<line class="C0" x1="558.5" y1="635.6" x2="550.8" y2="624.0" stroke-width="6.2"/>
<line class="C0" x1="550.8" y1="624.0" x2="543.0" y2="612.3" stroke-width="6.2"/>
<line class="C1" x1="558.5" y1="635.6" x2="550.8" y2="624.0" stroke-width="4.2"/>
<line class="C1" x1="550.8" y1="624.0" x2="543.0" y2="612.3" stroke-width="4.2"/>
<line class="C2" x1="558.5" y1="635.6" x2="550.8" y2="624.0" stroke-width="2.0"/>
<line class="C2" x1="550.8" y1="624.0" x2="543.0" y2="612.3" stroke-width="2.0"/>
<line class="C0" x1="543.0" y1="612.3" x2="548.4" y2="607.2" stroke-width="5.2"/>
<line class="N0" x1="548.4" y1="607.2" x2="553.8" y2="602.2" stroke-width="5.2"/>
<line class="C1" x1="543.0" y1="612.3" x2="548.4" y2="607.2" stroke-width="3.5"/>
<line class="N1" x1="548.4" y1="607.2" x2="553.8" y2="602.2" stroke-width="3.5"/>
<line class="C2" x1="543.0" y1="612.3" x2="548.4" y2="607.2" stroke-width="1.7"/>
<line class="N2" x1="548.4" y1="607.2" x2="553.8" y2="602.2" stroke-width="1.7"/>
<line class="N0" x1="553.8" y1="602.2" x2="568.5" y2="606.5" stroke-width="6.6"/>
<line class="N0" x1="568.5" y1="606.5" x2="583.3" y2="610.7" stroke-width="6.6"/>
<line class="N1" x1="553.8" y1="602.2" x2="568.5" y2="606.5" stroke-width="4.5"/>
<line class="N1" x1="568.5" y1="606.5" x2="583.3" y2="610.7" stroke-width="4.5"/>
<line class="N2" x1="553.8" y1="602.2" x2="568.5" y2="606.5" stroke-width="2.1"/>
<line class="N2" x1="568.5" y1="606.5" x2="583.3" y2="610.7" stroke-width="2.1"/>
<line class="F0" x1="544.5" y1="579.5" x2="549.1" y2="590.9" stroke-width="4.4"/>
<line class="N0" x1="549.1" y1="590.9" x2="553.8" y2="602.2" stroke-width="4.4"/>
<line class="F1" x1="544.5" y1="579.5" x2="549.1" y2="590.9" stroke-width="3.0"/>
<line class="N1" x1="549.1" y1="590.9" x2="553.8" y2="602.2" stroke-width="3.0"/>
<line class="F2" x1="544.5" y1="579.5" x2="549.1" y2="590.9" stroke-width="1.4"/>
<line class="N2" x1="549.1" y1="590.9" x2="553.8" y2="602.2" stroke-width="1.4"/></g>
<text x="0" y="0" transform="translate(495.4,563) rotate(-55)" font-size="16.5" font-weight="bold" fill="#000" text-anchor="middle">2.17</text>
<text x="0" y="0" transform="translate(499.2,606.8) rotate(20)" font-size="16.5" font-weight="bold" fill="#000" text-anchor="middle">1.97</text>
<text x="0" y="0" transform="translate(538.5,558) rotate(52)" font-size="16.5" font-weight="bold" fill="#000" text-anchor="middle">1.97</text>
<text x="0" y="0" transform="translate(535.5,603.5) rotate(-30)" font-size="16.5" font-weight="bold" fill="#000" text-anchor="middle">2.01</text>
</svg>
</body></html>
